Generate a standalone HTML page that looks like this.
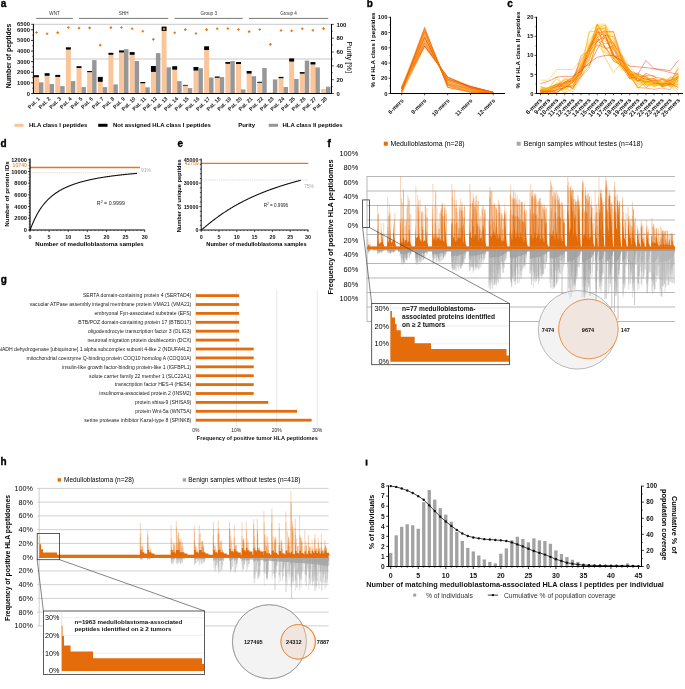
<!DOCTYPE html>
<html><head><meta charset="utf-8"><style>
html,body{margin:0;padding:0;background:#fff;overflow:hidden;}
svg{display:block;font-family:"Liberation Sans", sans-serif;will-change:transform;}
</style></head><body>
<svg width="685" height="689" viewBox="0 0 685 689">
<rect width="685" height="689" fill="#fff"/>
<g id="pa">
<text x="0.80" y="6.90" font-size="10" text-anchor="start" font-weight="bold" fill="#000" stroke="#000" stroke-width="0.35">a</text>
<line x1="36.30" y1="18.40" x2="72.80" y2="18.40" stroke="#555" stroke-width="0.8"/>
<text x="54.55" y="15.00" font-size="4.6" text-anchor="middle" fill="#333">WNT</text>
<line x1="79.00" y1="18.40" x2="168.30" y2="18.40" stroke="#555" stroke-width="0.8"/>
<text x="123.65" y="15.00" font-size="4.6" text-anchor="middle" fill="#333">SHH</text>
<line x1="174.70" y1="18.40" x2="242.70" y2="18.40" stroke="#555" stroke-width="0.8"/>
<text x="208.70" y="15.00" font-size="4.6" text-anchor="middle" fill="#333">Group 3</text>
<line x1="248.90" y1="18.40" x2="328.20" y2="18.40" stroke="#555" stroke-width="0.8"/>
<text x="288.55" y="15.00" font-size="4.6" text-anchor="middle" fill="#333">Group 4</text>
<line x1="33.50" y1="24.30" x2="331.50" y2="24.30" stroke="#c4c4c4" stroke-width="0.9"/>
<line x1="33.50" y1="59.00" x2="331.50" y2="59.00" stroke="#cacaca" stroke-width="1.1"/>
<rect x="34.00" y="77.20" width="4.95" height="16.30" fill="#fbc59a"/>
<rect x="34.00" y="75.20" width="4.95" height="2.00" fill="#000"/>
<rect x="38.95" y="82.30" width="4.45" height="11.20" fill="#979797"/>
<rect x="44.63" y="75.80" width="4.95" height="17.70" fill="#fbc59a"/>
<rect x="44.63" y="73.20" width="4.95" height="2.60" fill="#000"/>
<rect x="49.58" y="84.00" width="4.45" height="9.50" fill="#979797"/>
<rect x="55.27" y="76.90" width="4.95" height="16.60" fill="#fbc59a"/>
<rect x="55.27" y="74.90" width="4.95" height="2.00" fill="#000"/>
<rect x="60.22" y="86.10" width="4.45" height="7.40" fill="#979797"/>
<rect x="65.90" y="49.60" width="4.95" height="43.90" fill="#fbc59a"/>
<rect x="65.90" y="47.30" width="4.95" height="2.30" fill="#000"/>
<rect x="70.85" y="81.10" width="4.45" height="12.40" fill="#979797"/>
<rect x="76.53" y="68.00" width="4.95" height="25.50" fill="#fbc59a"/>
<rect x="76.53" y="66.20" width="4.95" height="1.80" fill="#000"/>
<rect x="81.48" y="87.10" width="4.45" height="6.40" fill="#979797"/>
<rect x="87.16" y="72.20" width="4.95" height="21.30" fill="#fbc59a"/>
<rect x="87.16" y="71.00" width="4.95" height="1.20" fill="#000"/>
<rect x="92.11" y="60.10" width="4.45" height="33.40" fill="#979797"/>
<rect x="97.80" y="81.80" width="4.95" height="11.70" fill="#fbc59a"/>
<rect x="97.80" y="76.90" width="4.95" height="4.90" fill="#000"/>
<rect x="102.75" y="87.10" width="4.45" height="6.40" fill="#979797"/>
<rect x="108.43" y="54.80" width="4.95" height="38.70" fill="#fbc59a"/>
<rect x="108.43" y="52.80" width="4.95" height="2.00" fill="#000"/>
<rect x="113.38" y="84.40" width="4.45" height="9.10" fill="#979797"/>
<rect x="119.06" y="52.50" width="4.95" height="41.00" fill="#fbc59a"/>
<rect x="119.06" y="50.40" width="4.95" height="2.10" fill="#000"/>
<rect x="124.01" y="49.20" width="4.45" height="44.30" fill="#979797"/>
<rect x="129.70" y="54.80" width="4.95" height="38.70" fill="#fbc59a"/>
<rect x="129.70" y="52.10" width="4.95" height="2.70" fill="#000"/>
<rect x="134.65" y="61.00" width="4.45" height="32.50" fill="#979797"/>
<rect x="140.33" y="83.30" width="4.95" height="10.20" fill="#fbc59a"/>
<rect x="140.33" y="82.00" width="4.95" height="1.30" fill="#000"/>
<rect x="145.28" y="87.30" width="4.45" height="6.20" fill="#979797"/>
<rect x="150.96" y="71.90" width="4.95" height="21.60" fill="#fbc59a"/>
<rect x="150.96" y="66.00" width="4.95" height="5.90" fill="#000"/>
<rect x="155.91" y="53.10" width="4.45" height="40.40" fill="#979797"/>
<rect x="161.60" y="30.90" width="4.95" height="62.60" fill="#fbc59a"/>
<rect x="161.60" y="26.60" width="4.95" height="4.30" fill="#000"/>
<rect x="166.55" y="67.30" width="4.45" height="26.20" fill="#979797"/>
<rect x="172.23" y="69.70" width="4.95" height="23.80" fill="#fbc59a"/>
<rect x="172.23" y="66.20" width="4.95" height="3.50" fill="#000"/>
<rect x="177.18" y="81.10" width="4.45" height="12.40" fill="#979797"/>
<rect x="182.86" y="85.70" width="4.95" height="7.80" fill="#fbc59a"/>
<rect x="182.86" y="84.90" width="4.95" height="0.80" fill="#000"/>
<rect x="187.81" y="88.10" width="4.45" height="5.40" fill="#979797"/>
<rect x="193.49" y="70.60" width="4.95" height="22.90" fill="#fbc59a"/>
<rect x="193.49" y="67.00" width="4.95" height="3.60" fill="#000"/>
<rect x="198.44" y="68.20" width="4.45" height="25.30" fill="#979797"/>
<rect x="204.13" y="50.00" width="4.95" height="43.50" fill="#fbc59a"/>
<rect x="204.13" y="46.30" width="4.95" height="3.70" fill="#000"/>
<rect x="209.08" y="77.50" width="4.45" height="16.00" fill="#979797"/>
<rect x="214.76" y="77.80" width="4.95" height="15.70" fill="#fbc59a"/>
<rect x="214.76" y="76.50" width="4.95" height="1.30" fill="#000"/>
<rect x="219.71" y="77.00" width="4.45" height="16.50" fill="#979797"/>
<rect x="225.39" y="63.80" width="4.95" height="29.70" fill="#fbc59a"/>
<rect x="225.39" y="62.00" width="4.95" height="1.80" fill="#000"/>
<rect x="230.34" y="61.00" width="4.45" height="32.50" fill="#979797"/>
<rect x="236.03" y="64.00" width="4.95" height="29.50" fill="#fbc59a"/>
<rect x="236.03" y="62.00" width="4.95" height="2.00" fill="#000"/>
<rect x="240.98" y="89.40" width="4.45" height="4.10" fill="#979797"/>
<rect x="246.66" y="73.60" width="4.95" height="19.90" fill="#fbc59a"/>
<rect x="246.66" y="71.00" width="4.95" height="2.60" fill="#000"/>
<rect x="251.61" y="76.20" width="4.45" height="17.30" fill="#979797"/>
<rect x="257.29" y="82.80" width="4.95" height="10.70" fill="#fbc59a"/>
<rect x="257.29" y="81.80" width="4.95" height="1.00" fill="#000"/>
<rect x="262.24" y="68.00" width="4.45" height="25.50" fill="#979797"/>
<rect x="267.93" y="92.30" width="4.95" height="1.20" fill="#fbc59a"/>
<rect x="272.88" y="79.40" width="4.45" height="14.10" fill="#979797"/>
<rect x="278.56" y="78.20" width="4.95" height="15.30" fill="#fbc59a"/>
<rect x="278.56" y="76.90" width="4.95" height="1.30" fill="#000"/>
<rect x="283.51" y="87.00" width="4.45" height="6.50" fill="#979797"/>
<rect x="289.19" y="61.60" width="4.95" height="31.90" fill="#fbc59a"/>
<rect x="289.19" y="58.40" width="4.95" height="3.20" fill="#000"/>
<rect x="294.14" y="79.00" width="4.45" height="14.50" fill="#979797"/>
<rect x="299.82" y="73.70" width="4.95" height="19.80" fill="#fbc59a"/>
<rect x="299.82" y="72.10" width="4.95" height="1.60" fill="#000"/>
<rect x="304.77" y="60.60" width="4.45" height="32.90" fill="#979797"/>
<rect x="310.46" y="64.50" width="4.95" height="29.00" fill="#fbc59a"/>
<rect x="310.46" y="62.10" width="4.95" height="2.40" fill="#000"/>
<rect x="315.41" y="67.40" width="4.45" height="26.10" fill="#979797"/>
<rect x="321.09" y="89.00" width="4.95" height="4.50" fill="#fbc59a"/>
<rect x="326.04" y="86.70" width="4.45" height="6.80" fill="#979797"/>
<path d="M35.15 32.50H37.75M36.45 31.20V33.80" stroke="#e8750f" stroke-width="1.1"/>
<path d="M45.78 33.70H48.38M47.08 32.40V35.00" stroke="#e8750f" stroke-width="1.1"/>
<path d="M56.42 32.60H59.02M57.72 31.30V33.90" stroke="#e8750f" stroke-width="1.1"/>
<path d="M67.05 27.50H69.65M68.35 26.20V28.80" stroke="#e8750f" stroke-width="1.1"/>
<path d="M77.68 28.10H80.28M78.98 26.80V29.40" stroke="#e8750f" stroke-width="1.1"/>
<path d="M88.31 27.90H90.91M89.61 26.60V29.20" stroke="#e8750f" stroke-width="1.1"/>
<path d="M98.95 45.10H101.55M100.25 43.80V46.40" stroke="#e8750f" stroke-width="1.1"/>
<path d="M109.58 27.60H112.18M110.88 26.30V28.90" stroke="#e8750f" stroke-width="1.1"/>
<path d="M120.21 27.50H122.81M121.51 26.20V28.80" stroke="#e8750f" stroke-width="1.1"/>
<path d="M130.85 28.70H133.45M132.15 27.40V30.00" stroke="#e8750f" stroke-width="1.1"/>
<path d="M141.48 31.20H144.08M142.78 29.90V32.50" stroke="#e8750f" stroke-width="1.1"/>
<path d="M152.11 39.40H154.71M153.41 38.10V40.70" stroke="#e8750f" stroke-width="1.1"/>
<rect x="162.95" y="27.80" width="2.2" height="2.2" fill="#e8750f"/>
<path d="M173.38 32.70H175.98M174.68 31.40V34.00" stroke="#e8750f" stroke-width="1.1"/>
<path d="M184.01 29.60H186.61M185.31 28.30V30.90" stroke="#e8750f" stroke-width="1.1"/>
<path d="M194.64 33.50H197.24M195.94 32.20V34.80" stroke="#e8750f" stroke-width="1.1"/>
<path d="M205.28 29.60H207.88M206.58 28.30V30.90" stroke="#e8750f" stroke-width="1.1"/>
<path d="M215.91 28.70H218.51M217.21 27.40V30.00" stroke="#e8750f" stroke-width="1.1"/>
<path d="M226.54 28.50H229.14M227.84 27.20V29.80" stroke="#e8750f" stroke-width="1.1"/>
<path d="M237.18 29.50H239.78M238.48 28.20V30.80" stroke="#e8750f" stroke-width="1.1"/>
<path d="M247.81 31.60H250.41M249.11 30.30V32.90" stroke="#e8750f" stroke-width="1.1"/>
<path d="M258.44 29.50H261.04M259.74 28.20V30.80" stroke="#e8750f" stroke-width="1.1"/>
<path d="M269.08 44.40H271.68M270.38 43.10V45.70" stroke="#e8750f" stroke-width="1.1"/>
<path d="M279.71 30.50H282.31M281.01 29.20V31.80" stroke="#e8750f" stroke-width="1.1"/>
<path d="M290.34 30.70H292.94M291.64 29.40V32.00" stroke="#e8750f" stroke-width="1.1"/>
<path d="M300.97 28.70H303.57M302.27 27.40V30.00" stroke="#e8750f" stroke-width="1.1"/>
<path d="M311.61 30.20H314.21M312.91 28.90V31.50" stroke="#e8750f" stroke-width="1.1"/>
<path d="M322.24 28.60H324.84M323.54 27.30V29.90" stroke="#e8750f" stroke-width="1.1"/>
<line x1="33.40" y1="23.90" x2="33.40" y2="94.00" stroke="#000" stroke-width="1.0"/>
<line x1="32.90" y1="93.50" x2="332.00" y2="93.50" stroke="#000" stroke-width="1.1"/>
<line x1="31.00" y1="93.50" x2="33.40" y2="93.50" stroke="#000" stroke-width="0.8"/>
<text x="30.00" y="95.55" font-size="5.8" text-anchor="end" font-weight="bold" fill="#111">0</text>
<line x1="31.00" y1="82.88" x2="33.40" y2="82.88" stroke="#000" stroke-width="0.8"/>
<text x="30.00" y="84.93" font-size="5.8" text-anchor="end" font-weight="bold" fill="#111">1000</text>
<line x1="31.00" y1="72.27" x2="33.40" y2="72.27" stroke="#000" stroke-width="0.8"/>
<text x="30.00" y="74.32" font-size="5.8" text-anchor="end" font-weight="bold" fill="#111">2000</text>
<line x1="31.00" y1="61.65" x2="33.40" y2="61.65" stroke="#000" stroke-width="0.8"/>
<text x="30.00" y="63.70" font-size="5.8" text-anchor="end" font-weight="bold" fill="#111">3000</text>
<line x1="31.00" y1="51.04" x2="33.40" y2="51.04" stroke="#000" stroke-width="0.8"/>
<text x="30.00" y="53.09" font-size="5.8" text-anchor="end" font-weight="bold" fill="#111">4000</text>
<line x1="31.00" y1="40.42" x2="33.40" y2="40.42" stroke="#000" stroke-width="0.8"/>
<text x="30.00" y="42.47" font-size="5.8" text-anchor="end" font-weight="bold" fill="#111">5000</text>
<line x1="31.00" y1="29.81" x2="33.40" y2="29.81" stroke="#000" stroke-width="0.8"/>
<text x="30.00" y="31.86" font-size="5.8" text-anchor="end" font-weight="bold" fill="#111">6000</text>
<line x1="32.20" y1="88.19" x2="33.30" y2="88.19" stroke="#000" stroke-width="0.6"/>
<line x1="32.20" y1="77.58" x2="33.30" y2="77.58" stroke="#000" stroke-width="0.6"/>
<line x1="32.20" y1="66.96" x2="33.30" y2="66.96" stroke="#000" stroke-width="0.6"/>
<line x1="32.20" y1="56.35" x2="33.30" y2="56.35" stroke="#000" stroke-width="0.6"/>
<line x1="32.20" y1="45.73" x2="33.30" y2="45.73" stroke="#000" stroke-width="0.6"/>
<line x1="32.20" y1="35.12" x2="33.30" y2="35.12" stroke="#000" stroke-width="0.6"/>
<line x1="31.20" y1="24.30" x2="33.30" y2="24.30" stroke="#000" stroke-width="0.7"/>
<text x="30.00" y="26.35" font-size="5.8" text-anchor="end" font-weight="bold" fill="#111">6500</text>
<text x="11.20" y="56.00" font-size="6.9" text-anchor="middle" font-weight="bold" fill="#000" transform="rotate(-90 11.2 56)">Number of peptides</text>
<line x1="331.50" y1="24.00" x2="331.50" y2="94.00" stroke="#000" stroke-width="1.0"/>
<line x1="331.50" y1="93.50" x2="333.80" y2="93.50" stroke="#000" stroke-width="0.7"/>
<text x="336.40" y="95.60" font-size="6.0" text-anchor="start" font-weight="bold" fill="#111">0</text>
<line x1="331.50" y1="79.68" x2="333.80" y2="79.68" stroke="#000" stroke-width="0.7"/>
<text x="336.40" y="81.78" font-size="6.0" text-anchor="start" font-weight="bold" fill="#111">20</text>
<line x1="331.50" y1="65.86" x2="333.80" y2="65.86" stroke="#000" stroke-width="0.7"/>
<text x="336.40" y="67.96" font-size="6.0" text-anchor="start" font-weight="bold" fill="#111">40</text>
<line x1="331.50" y1="52.04" x2="333.80" y2="52.04" stroke="#000" stroke-width="0.7"/>
<text x="336.40" y="54.14" font-size="6.0" text-anchor="start" font-weight="bold" fill="#111">60</text>
<line x1="331.50" y1="38.22" x2="333.80" y2="38.22" stroke="#000" stroke-width="0.7"/>
<text x="336.40" y="40.32" font-size="6.0" text-anchor="start" font-weight="bold" fill="#111">80</text>
<line x1="331.50" y1="24.40" x2="333.80" y2="24.40" stroke="#000" stroke-width="0.7"/>
<text x="336.40" y="26.50" font-size="6.0" text-anchor="start" font-weight="bold" fill="#111">100</text>
<line x1="331.50" y1="86.59" x2="332.80" y2="86.59" stroke="#000" stroke-width="0.6"/>
<line x1="331.50" y1="72.77" x2="332.80" y2="72.77" stroke="#000" stroke-width="0.6"/>
<line x1="331.50" y1="58.95" x2="332.80" y2="58.95" stroke="#000" stroke-width="0.6"/>
<line x1="331.50" y1="45.13" x2="332.80" y2="45.13" stroke="#000" stroke-width="0.6"/>
<line x1="331.50" y1="31.31" x2="332.80" y2="31.31" stroke="#000" stroke-width="0.6"/>
<text x="347.20" y="57.20" font-size="7.4" text-anchor="middle" fill="#000" transform="rotate(90 347.2 57.2)">Purity [%]</text>
<text x="40.30" y="99.00" font-size="5.4" text-anchor="end" font-weight="bold" fill="#222" transform="rotate(-45 40.3 99.0)">Pat. 1</text>
<text x="50.93" y="99.00" font-size="5.4" text-anchor="end" font-weight="bold" fill="#222" transform="rotate(-45 50.93299999999999 99.0)">Pat. 2</text>
<text x="61.57" y="99.00" font-size="5.4" text-anchor="end" font-weight="bold" fill="#222" transform="rotate(-45 61.565999999999995 99.0)">Pat. 3</text>
<text x="72.20" y="99.00" font-size="5.4" text-anchor="end" font-weight="bold" fill="#222" transform="rotate(-45 72.199 99.0)">Pat. 4</text>
<text x="82.83" y="99.00" font-size="5.4" text-anchor="end" font-weight="bold" fill="#222" transform="rotate(-45 82.832 99.0)">Pat. 5</text>
<text x="93.46" y="99.00" font-size="5.4" text-anchor="end" font-weight="bold" fill="#222" transform="rotate(-45 93.46499999999999 99.0)">Pat. 6</text>
<text x="104.10" y="99.00" font-size="5.4" text-anchor="end" font-weight="bold" fill="#222" transform="rotate(-45 104.098 99.0)">Pat. 7</text>
<text x="114.73" y="99.00" font-size="5.4" text-anchor="end" font-weight="bold" fill="#222" transform="rotate(-45 114.731 99.0)">Pat. 8</text>
<text x="125.36" y="99.00" font-size="5.4" text-anchor="end" font-weight="bold" fill="#222" transform="rotate(-45 125.36399999999999 99.0)">Pat. 9</text>
<text x="136.00" y="99.00" font-size="5.4" text-anchor="end" font-weight="bold" fill="#222" transform="rotate(-45 135.997 99.0)">Pat. 10</text>
<text x="146.63" y="99.00" font-size="5.4" text-anchor="end" font-weight="bold" fill="#222" transform="rotate(-45 146.63 99.0)">Pat. 11</text>
<text x="157.26" y="99.00" font-size="5.4" text-anchor="end" font-weight="bold" fill="#222" transform="rotate(-45 157.263 99.0)">Pat. 12</text>
<text x="167.90" y="99.00" font-size="5.4" text-anchor="end" font-weight="bold" fill="#222" transform="rotate(-45 167.89600000000002 99.0)">Pat. 13</text>
<text x="178.53" y="99.00" font-size="5.4" text-anchor="end" font-weight="bold" fill="#222" transform="rotate(-45 178.529 99.0)">Pat. 14</text>
<text x="189.16" y="99.00" font-size="5.4" text-anchor="end" font-weight="bold" fill="#222" transform="rotate(-45 189.162 99.0)">Pat. 15</text>
<text x="199.79" y="99.00" font-size="5.4" text-anchor="end" font-weight="bold" fill="#222" transform="rotate(-45 199.795 99.0)">Pat. 16</text>
<text x="210.43" y="99.00" font-size="5.4" text-anchor="end" font-weight="bold" fill="#222" transform="rotate(-45 210.428 99.0)">Pat. 17</text>
<text x="221.06" y="99.00" font-size="5.4" text-anchor="end" font-weight="bold" fill="#222" transform="rotate(-45 221.061 99.0)">Pat. 18</text>
<text x="231.69" y="99.00" font-size="5.4" text-anchor="end" font-weight="bold" fill="#222" transform="rotate(-45 231.694 99.0)">Pat. 19</text>
<text x="242.33" y="99.00" font-size="5.4" text-anchor="end" font-weight="bold" fill="#222" transform="rotate(-45 242.327 99.0)">Pat. 20</text>
<text x="252.96" y="99.00" font-size="5.4" text-anchor="end" font-weight="bold" fill="#222" transform="rotate(-45 252.95999999999998 99.0)">Pat. 21</text>
<text x="263.59" y="99.00" font-size="5.4" text-anchor="end" font-weight="bold" fill="#222" transform="rotate(-45 263.593 99.0)">Pat. 22</text>
<text x="274.23" y="99.00" font-size="5.4" text-anchor="end" font-weight="bold" fill="#222" transform="rotate(-45 274.226 99.0)">Pat. 23</text>
<text x="284.86" y="99.00" font-size="5.4" text-anchor="end" font-weight="bold" fill="#222" transform="rotate(-45 284.859 99.0)">Pat. 24</text>
<text x="295.49" y="99.00" font-size="5.4" text-anchor="end" font-weight="bold" fill="#222" transform="rotate(-45 295.492 99.0)">Pat. 25</text>
<text x="306.12" y="99.00" font-size="5.4" text-anchor="end" font-weight="bold" fill="#222" transform="rotate(-45 306.125 99.0)">Pat. 26</text>
<text x="316.76" y="99.00" font-size="5.4" text-anchor="end" font-weight="bold" fill="#222" transform="rotate(-45 316.758 99.0)">Pat. 27</text>
<text x="327.39" y="99.00" font-size="5.4" text-anchor="end" font-weight="bold" fill="#222" transform="rotate(-45 327.39099999999996 99.0)">Pat. 28</text>
<rect x="14.40" y="123.80" width="9.20" height="3.00" fill="#fbc59a"/>
<text x="28.90" y="127.10" font-size="6.0" text-anchor="start" font-weight="bold" fill="#000">HLA class I peptides</text>
<rect x="98.20" y="123.80" width="9.30" height="3.00" fill="#000"/>
<text x="113.00" y="127.10" font-size="6.0" text-anchor="start" font-weight="bold" fill="#000">Not assigned HLA class I peptides</text>
<text x="238.20" y="127.10" font-size="6.0" text-anchor="start" font-weight="bold" fill="#000">Purity</text>
<rect x="268.70" y="123.80" width="9.30" height="3.00" fill="#979797"/>
<text x="282.50" y="127.10" font-size="6.0" text-anchor="start" font-weight="bold" fill="#000">HLA class II peptides</text>
</g>
<g id="pb">
<text x="366.70" y="7.10" font-size="10" text-anchor="start" font-weight="bold" fill="#000" stroke="#000" stroke-width="0.35">b</text>
<polyline points="401.70,91.69 424.60,47.68 447.70,77.13 470.60,85.64 493.20,92.55" fill="none" stroke="rgb(255,187,0)" stroke-width="0.45"/>
<polyline points="401.70,93.35 424.60,46.22 447.70,77.86 470.60,86.71 493.20,91.98" fill="none" stroke="rgb(251,131,3)" stroke-width="0.45"/>
<polyline points="401.70,87.13 424.60,46.25 447.70,77.10 470.60,87.13 493.20,92.53" fill="none" stroke="rgb(233,69,15)" stroke-width="0.45"/>
<polyline points="401.70,89.51 424.60,44.86 447.70,77.40 470.60,87.55 493.20,92.34" fill="none" stroke="rgb(248,112,6)" stroke-width="0.45"/>
<polyline points="401.70,91.20 424.60,45.69 447.70,77.20 470.60,86.85 493.20,92.40" fill="none" stroke="rgb(233,68,15)" stroke-width="0.45"/>
<polyline points="401.70,88.06 424.60,42.87 447.70,79.03 470.60,86.32 493.20,92.82" fill="none" stroke="rgb(229,59,17)" stroke-width="0.45"/>
<polyline points="401.70,86.80 424.60,43.96 447.70,80.22 470.60,87.88 493.20,92.03" fill="none" stroke="rgb(252,136,2)" stroke-width="0.45"/>
<polyline points="401.70,88.72 424.60,42.70 447.70,79.48 470.60,87.72 493.20,92.97" fill="none" stroke="rgb(248,113,6)" stroke-width="0.45"/>
<polyline points="401.70,89.05 424.60,40.53 447.70,79.34 470.60,86.71 493.20,92.19" fill="none" stroke="rgb(225,51,19)" stroke-width="0.45"/>
<polyline points="401.70,88.38 424.60,41.44 447.70,79.19 470.60,86.85 493.20,92.12" fill="none" stroke="rgb(248,115,6)" stroke-width="0.45"/>
<polyline points="401.70,88.06 424.60,40.54 447.70,79.68 470.60,87.97 493.20,93.07" fill="none" stroke="rgb(255,187,0)" stroke-width="0.45"/>
<polyline points="401.70,86.99 424.60,37.97 447.70,82.34 470.60,87.68 493.20,92.87" fill="none" stroke="rgb(255,176,0)" stroke-width="0.45"/>
<polyline points="401.70,91.26 424.60,37.68 447.70,80.34 470.60,89.63 493.20,92.56" fill="none" stroke="rgb(255,190,0)" stroke-width="0.45"/>
<polyline points="401.70,88.03 424.60,37.89 447.70,80.71 470.60,87.72 493.20,92.73" fill="none" stroke="rgb(225,50,19)" stroke-width="0.45"/>
<polyline points="401.70,91.14 424.60,37.68 447.70,81.96 470.60,90.11 493.20,93.20" fill="none" stroke="rgb(253,140,1)" stroke-width="0.45"/>
<polyline points="401.70,88.85 424.60,36.71 447.70,84.06 470.60,88.43 493.20,93.02" fill="none" stroke="rgb(227,56,18)" stroke-width="0.45"/>
<polyline points="401.70,86.67 424.60,35.42 447.70,83.18 470.60,89.45 493.20,92.52" fill="none" stroke="rgb(247,111,7)" stroke-width="0.45"/>
<polyline points="401.70,89.24 424.60,34.07 447.70,82.11 470.60,89.70 493.20,92.84" fill="none" stroke="rgb(243,91,10)" stroke-width="0.45"/>
<polyline points="401.70,91.69 424.60,34.01 447.70,82.39 470.60,89.90 493.20,92.66" fill="none" stroke="rgb(255,194,0)" stroke-width="0.45"/>
<polyline points="401.70,90.34 424.60,32.58 447.70,85.71 470.60,89.91 493.20,92.54" fill="none" stroke="rgb(255,188,0)" stroke-width="0.45"/>
<polyline points="401.70,88.72 424.60,32.05 447.70,84.09 470.60,90.73 493.20,92.42" fill="none" stroke="rgb(242,89,11)" stroke-width="0.45"/>
<polyline points="401.70,93.33 424.60,32.19 447.70,84.50 470.60,89.56 493.20,93.12" fill="none" stroke="rgb(251,133,3)" stroke-width="0.45"/>
<polyline points="401.70,88.98 424.60,30.81 447.70,85.84 470.60,91.28 493.20,92.94" fill="none" stroke="rgb(247,111,7)" stroke-width="0.45"/>
<polyline points="401.70,91.21 424.60,29.89 447.70,84.99 470.60,92.15 493.20,92.63" fill="none" stroke="rgb(242,89,11)" stroke-width="0.45"/>
<polyline points="401.70,91.14 424.60,29.45 447.70,85.29 470.60,91.90 493.20,93.21" fill="none" stroke="rgb(252,136,2)" stroke-width="0.45"/>
<polyline points="401.70,88.18 424.60,28.93 447.70,87.16 470.60,91.90 493.20,92.23" fill="none" stroke="rgb(252,136,2)" stroke-width="0.45"/>
<polyline points="401.70,86.98 424.60,27.99 447.70,87.51 470.60,91.41 493.20,92.15" fill="none" stroke="rgb(252,134,2)" stroke-width="0.45"/>
<polyline points="401.70,91.79 424.60,27.31 447.70,87.31 470.60,92.68 493.20,92.27" fill="none" stroke="rgb(235,74,14)" stroke-width="0.45"/>
<line x1="390.50" y1="16.80" x2="390.50" y2="94.00" stroke="#000" stroke-width="1.0"/>
<line x1="390.00" y1="93.50" x2="505.00" y2="93.50" stroke="#000" stroke-width="1.0"/>
<line x1="388.50" y1="93.50" x2="390.50" y2="93.50" stroke="#000" stroke-width="0.7"/>
<text x="387.50" y="95.58" font-size="5.8" text-anchor="end" font-weight="bold" fill="#111">0</text>
<line x1="388.50" y1="78.26" x2="390.50" y2="78.26" stroke="#000" stroke-width="0.7"/>
<text x="387.50" y="80.34" font-size="5.8" text-anchor="end" font-weight="bold" fill="#111">20</text>
<line x1="388.50" y1="63.02" x2="390.50" y2="63.02" stroke="#000" stroke-width="0.7"/>
<text x="387.50" y="65.10" font-size="5.8" text-anchor="end" font-weight="bold" fill="#111">40</text>
<line x1="388.50" y1="47.78" x2="390.50" y2="47.78" stroke="#000" stroke-width="0.7"/>
<text x="387.50" y="49.86" font-size="5.8" text-anchor="end" font-weight="bold" fill="#111">60</text>
<line x1="388.50" y1="32.54" x2="390.50" y2="32.54" stroke="#000" stroke-width="0.7"/>
<text x="387.50" y="34.62" font-size="5.8" text-anchor="end" font-weight="bold" fill="#111">80</text>
<line x1="388.50" y1="17.30" x2="390.50" y2="17.30" stroke="#000" stroke-width="0.7"/>
<text x="387.50" y="19.38" font-size="5.8" text-anchor="end" font-weight="bold" fill="#111">100</text>
<line x1="389.40" y1="85.88" x2="390.50" y2="85.88" stroke="#000" stroke-width="0.6"/>
<line x1="389.40" y1="70.64" x2="390.50" y2="70.64" stroke="#000" stroke-width="0.6"/>
<line x1="389.40" y1="55.40" x2="390.50" y2="55.40" stroke="#000" stroke-width="0.6"/>
<line x1="389.40" y1="40.16" x2="390.50" y2="40.16" stroke="#000" stroke-width="0.6"/>
<line x1="389.40" y1="24.92" x2="390.50" y2="24.92" stroke="#000" stroke-width="0.6"/>
<line x1="401.70" y1="93.30" x2="401.70" y2="95.30" stroke="#000" stroke-width="0.7"/>
<text x="404.00" y="101.00" font-size="5.8" text-anchor="end" font-weight="bold" fill="#111" transform="rotate(-45 404.0 101.0)">6-mers</text>
<line x1="424.60" y1="93.30" x2="424.60" y2="95.30" stroke="#000" stroke-width="0.7"/>
<text x="426.90" y="101.00" font-size="5.8" text-anchor="end" font-weight="bold" fill="#111" transform="rotate(-45 426.90000000000003 101.0)">9-mers</text>
<line x1="447.70" y1="93.30" x2="447.70" y2="95.30" stroke="#000" stroke-width="0.7"/>
<text x="450.00" y="101.00" font-size="5.8" text-anchor="end" font-weight="bold" fill="#111" transform="rotate(-45 450.0 101.0)">10-mers</text>
<line x1="470.60" y1="93.30" x2="470.60" y2="95.30" stroke="#000" stroke-width="0.7"/>
<text x="472.90" y="101.00" font-size="5.8" text-anchor="end" font-weight="bold" fill="#111" transform="rotate(-45 472.90000000000003 101.0)">11-mers</text>
<line x1="493.20" y1="93.30" x2="493.20" y2="95.30" stroke="#000" stroke-width="0.7"/>
<text x="495.50" y="101.00" font-size="5.8" text-anchor="end" font-weight="bold" fill="#111" transform="rotate(-45 495.5 101.0)">12-mers</text>
<text x="375.00" y="50.00" font-size="6.2" text-anchor="middle" font-weight="bold" fill="#000" transform="rotate(-90 375.0 50)">% of HLA class I peptides</text>
</g>
<g id="pc">
<text x="507.20" y="7.20" font-size="10" text-anchor="start" font-weight="bold" fill="#000" stroke="#000" stroke-width="0.35">c</text>
<polyline points="540.50,87.35 548.61,87.67 556.72,86.55 564.83,90.14 572.94,81.83 581.05,66.17 589.16,43.60 597.27,35.30 605.38,30.33 613.49,47.46 621.60,59.96 629.71,78.53 637.82,80.25 645.93,82.12 654.04,83.47 662.15,78.10 670.26,80.47 678.37,72.66" fill="none" stroke="rgb(255,174,0)" stroke-width="0.5"/>
<polyline points="540.50,91.16 548.61,87.97 556.72,84.49 564.83,82.18 572.94,78.64 581.05,71.40 589.16,59.83 597.27,39.47 605.38,43.91 613.49,41.87 621.60,60.10 629.71,72.78 637.82,76.92 645.93,76.38 654.04,84.33 662.15,81.72 670.26,85.74 678.37,80.47" fill="none" stroke="rgb(253,143,1)" stroke-width="0.5"/>
<polyline points="540.50,93.12 548.61,87.12 556.72,84.71 564.83,87.48 572.94,78.89 581.05,73.98 589.16,45.85 597.27,24.17 605.38,31.51 613.49,43.94 621.60,57.83 629.71,69.80 637.82,79.41 645.93,79.14 654.04,81.77 662.15,86.86 670.26,84.44 678.37,75.44" fill="none" stroke="rgb(255,176,0)" stroke-width="0.5"/>
<polyline points="540.50,93.12 548.61,92.50 556.72,84.96 564.83,93.12 572.94,87.77 581.05,71.25 589.16,45.33 597.27,35.55 605.38,58.24 613.49,72.65 621.60,62.84 629.71,77.83 637.82,85.39 645.93,80.22 654.04,80.99 662.15,84.49 670.26,84.63 678.37,79.50" fill="none" stroke="rgb(255,171,0)" stroke-width="0.5"/>
<polyline points="540.50,92.23 548.61,93.12 556.72,82.36 564.83,87.33 572.94,79.95 581.05,72.30 589.16,47.68 597.27,29.36 605.38,31.52 613.49,60.24 621.60,63.49 629.71,68.95 637.82,79.33 645.93,82.78 654.04,80.81 662.15,81.73 670.26,82.69 678.37,78.82" fill="none" stroke="rgb(255,194,0)" stroke-width="0.5"/>
<polyline points="540.50,91.44 548.61,89.71 556.72,90.83 564.83,83.65 572.94,88.80 581.05,74.52 589.16,55.69 597.27,44.87 605.38,47.83 613.49,57.80 621.60,54.84 629.71,71.81 637.82,77.99 645.93,87.71 654.04,81.85 662.15,86.10 670.26,84.90 678.37,77.82" fill="none" stroke="rgb(242,88,11)" stroke-width="0.5"/>
<polyline points="540.50,90.36 548.61,90.15 556.72,85.81 564.83,85.58 572.94,80.22 581.05,73.49 589.16,53.47 597.27,24.16 605.38,39.65 613.49,43.28 621.60,59.86 629.71,75.98 637.82,74.43 645.93,76.54 654.04,82.80 662.15,83.84 670.26,82.66 678.37,90.04" fill="none" stroke="rgb(251,129,3)" stroke-width="0.5"/>
<polyline points="540.50,90.03 548.61,88.73 556.72,88.41 564.83,81.91 572.94,78.57 581.05,71.17 589.16,31.89 597.27,31.16 605.38,41.42 613.49,49.28 621.60,62.14 629.71,73.41 637.82,88.43 645.93,82.32 654.04,78.90 662.15,85.99 670.26,83.35 678.37,73.57" fill="none" stroke="rgb(255,155,0)" stroke-width="0.5"/>
<polyline points="540.50,93.12 548.61,90.21 556.72,84.66 564.83,80.29 572.94,89.51 581.05,63.94 589.16,61.65 597.27,28.79 605.38,49.07 613.49,47.47 621.60,57.04 629.71,73.76 637.82,77.86 645.93,78.49 654.04,81.63 662.15,83.11 670.26,79.04 678.37,73.27" fill="none" stroke="rgb(255,188,0)" stroke-width="0.5"/>
<polyline points="540.50,89.73 548.61,90.88 556.72,87.73 564.83,83.20 572.94,80.16 581.05,67.58 589.16,64.91 597.27,48.92 605.38,35.13 613.49,58.34 621.60,66.44 629.71,78.84 637.82,75.20 645.93,79.70 654.04,78.63 662.15,86.39 670.26,84.20 678.37,84.86" fill="none" stroke="rgb(231,64,16)" stroke-width="0.5"/>
<polyline points="540.50,92.72 548.61,91.25 556.72,84.55 564.83,78.45 572.94,81.49 581.05,67.60 589.16,46.86 597.27,24.16 605.38,24.16 613.49,47.05 621.60,63.20 629.71,69.24 637.82,87.51 645.93,82.37 654.04,84.31 662.15,84.15 670.26,83.58 678.37,65.78" fill="none" stroke="rgb(255,187,0)" stroke-width="0.5"/>
<polyline points="540.50,90.84 548.61,90.59 556.72,84.35 564.83,84.63 572.94,78.90 581.05,69.46 589.16,48.15 597.27,24.70 605.38,36.24 613.49,54.85 621.60,67.89 629.71,74.73 637.82,72.80 645.93,78.90 654.04,78.31 662.15,85.15 670.26,81.79 678.37,82.89" fill="none" stroke="rgb(250,126,4)" stroke-width="0.5"/>
<polyline points="540.50,91.39 548.61,89.46 556.72,86.46 564.83,86.33 572.94,78.26 581.05,60.00 589.16,49.07 597.27,28.73 605.38,28.06 613.49,49.04 621.60,65.44 629.71,74.51 637.82,74.05 645.93,85.45 654.04,83.40 662.15,79.66 670.26,80.63 678.37,77.30" fill="none" stroke="rgb(242,89,11)" stroke-width="0.5"/>
<polyline points="540.50,90.41 548.61,88.05 556.72,84.15 564.83,83.61 572.94,82.46 581.05,55.79 589.16,50.98 597.27,33.69 605.38,35.07 613.49,36.68 621.60,58.13 629.71,75.24 637.82,76.75 645.93,75.76 654.04,75.64 662.15,85.98 670.26,76.81 678.37,80.39" fill="none" stroke="rgb(246,101,8)" stroke-width="0.5"/>
<polyline points="540.50,92.07 548.61,92.37 556.72,89.59 564.83,87.95 572.94,81.44 581.05,76.74 589.16,68.87 597.27,37.38 605.38,46.86 613.49,57.35 621.60,69.82 629.71,72.00 637.82,75.79 645.93,81.45 654.04,85.13 662.15,82.59 670.26,86.43 678.37,93.12" fill="none" stroke="rgb(255,185,0)" stroke-width="0.5"/>
<polyline points="540.50,92.68 548.61,93.12 556.72,89.89 564.83,82.04 572.94,80.50 581.05,67.09 589.16,54.81 597.27,28.40 605.38,48.75 613.49,45.43 621.60,64.51 629.71,70.69 637.82,80.98 645.93,73.31 654.04,76.72 662.15,78.71 670.26,82.34 678.37,68.55" fill="none" stroke="rgb(241,88,11)" stroke-width="0.5"/>
<polyline points="540.50,87.10 548.61,90.40 556.72,86.31 564.83,93.12 572.94,77.20 581.05,69.04 589.16,58.65 597.27,26.48 605.38,25.69 613.49,61.58 621.60,65.13 629.71,73.48 637.82,79.17 645.93,83.20 654.04,86.10 662.15,78.01 670.26,81.36 678.37,85.12" fill="none" stroke="rgb(255,193,0)" stroke-width="0.5"/>
<polyline points="540.50,89.48 548.61,90.17 556.72,93.12 564.83,88.08 572.94,91.76 581.05,77.53 589.16,59.73 597.27,39.06 605.38,52.01 613.49,57.97 621.60,63.89 629.71,75.61 637.82,80.38 645.93,83.75 654.04,86.51 662.15,83.82 670.26,86.23 678.37,87.03" fill="none" stroke="rgb(255,193,0)" stroke-width="0.5"/>
<polyline points="540.50,88.80 548.61,88.28 556.72,86.33 564.83,79.25 572.94,78.55 581.05,62.67 589.16,50.54 597.27,32.57 605.38,27.23 613.49,53.24 621.60,65.21 629.71,74.89 637.82,81.74 645.93,74.20 654.04,86.73 662.15,83.06 670.26,80.98 678.37,76.87" fill="none" stroke="rgb(255,152,0)" stroke-width="0.5"/>
<polyline points="540.50,91.58 548.61,90.36 556.72,86.30 564.83,82.07 572.94,77.39 581.05,65.96 589.16,48.15 597.27,37.36 605.38,32.61 613.49,43.44 621.60,56.05 629.71,77.36 637.82,78.64 645.93,81.98 654.04,80.82 662.15,79.57 670.26,83.79 678.37,75.70" fill="none" stroke="rgb(237,77,13)" stroke-width="0.5"/>
<polyline points="540.50,86.12 548.61,90.37 556.72,87.12 564.83,83.70 572.94,82.47 581.05,68.54 589.16,46.52 597.27,30.93 605.38,36.29 613.49,53.93 621.60,64.75 629.71,73.96 637.82,81.18 645.93,81.10 654.04,84.49 662.15,86.00 670.26,85.46 678.37,81.35" fill="none" stroke="rgb(255,159,0)" stroke-width="0.5"/>
<polyline points="540.50,88.32 548.61,88.37 556.72,78.72 564.83,85.46 572.94,81.59 581.05,69.33 589.16,45.55 597.27,36.33 605.38,32.63 613.49,32.40 621.60,54.00 629.71,66.13 637.82,76.30 645.93,81.81 654.04,83.66 662.15,78.62 670.26,86.85 678.37,74.39" fill="none" stroke="rgb(255,193,0)" stroke-width="0.5"/>
<polyline points="540.50,93.12 548.61,91.24 556.72,93.12 564.83,85.37 572.94,88.19 581.05,76.36 589.16,66.26 597.27,40.94 605.38,47.32 613.49,61.02 621.60,65.12 629.71,75.49 637.82,87.60 645.93,88.08 654.04,89.33 662.15,87.98 670.26,89.90 678.37,76.18" fill="none" stroke="rgb(246,105,8)" stroke-width="0.5"/>
<polyline points="540.50,90.40 548.61,90.26 556.72,93.12 564.83,86.07 572.94,86.63 581.05,68.01 589.16,48.21 597.27,39.76 605.38,37.80 613.49,54.77 621.60,64.16 629.71,76.34 637.82,78.09 645.93,82.23 654.04,80.24 662.15,84.34 670.26,79.80 678.37,76.64" fill="none" stroke="rgb(247,106,7)" stroke-width="0.5"/>
<polyline points="540.50,93.12 548.61,91.11 556.72,92.51 564.83,87.85 572.94,82.40 581.05,68.63 589.16,53.50 597.27,45.26 605.38,53.31 613.49,56.41 621.60,66.58 629.71,78.74 637.82,81.44 645.93,84.47 654.04,83.79 662.15,83.27 670.26,86.22 678.37,70.51" fill="none" stroke="rgb(255,186,0)" stroke-width="0.5"/>
<polyline points="540.50,89.48 548.61,88.94 556.72,76.60 564.83,86.50 572.94,87.22 581.05,63.95 589.16,50.71 597.27,38.44 605.38,29.08 613.49,44.93 621.60,63.01 629.71,71.55 637.82,84.02 645.93,84.65 654.04,83.46 662.15,82.56 670.26,86.39 678.37,75.72" fill="none" stroke="rgb(255,195,0)" stroke-width="0.5"/>
<polyline points="540.50,91.18 548.61,91.57 556.72,92.06 564.83,87.08 572.94,85.19 581.05,72.74 589.16,51.52 597.27,41.39 605.38,34.88 613.49,56.11 621.60,60.01 629.71,72.88 637.82,81.18 645.93,77.38 654.04,83.14 662.15,84.19 670.26,83.54 678.37,87.35" fill="none" stroke="rgb(237,78,13)" stroke-width="0.5"/>
<polyline points="540.50,89.01 548.61,92.12 556.72,84.10 564.83,80.03 572.94,79.37 581.05,70.61 589.16,32.21 597.27,24.16 605.38,36.97 613.49,40.15 621.60,57.42 629.71,76.04 637.82,76.29 645.93,78.04 654.04,79.29 662.15,83.33 670.26,78.47 678.37,78.32" fill="none" stroke="rgb(255,193,0)" stroke-width="0.5"/>
<polyline points="540.50,83.59 548.61,81.31 556.72,77.12 564.83,76.36 572.94,76.36 581.05,70.64 589.16,63.02 597.27,57.30 605.38,55.40 613.49,55.40 621.60,61.12 629.71,66.07 637.82,66.83 645.93,67.59 654.04,68.73 662.15,69.50 670.26,70.64 678.37,60.35" fill="none" stroke="rgb(230,60,30)" stroke-width="0.5"/>
<polyline points="540.50,80.16 548.61,80.16 556.72,69.50 564.83,69.50 572.94,69.50 581.05,59.21 589.16,40.16 597.27,28.73 605.38,24.92 613.49,36.35 621.60,55.40 629.71,70.64 637.82,78.26 645.93,82.07 654.04,83.97 662.15,85.12 670.26,85.88 678.37,83.97" fill="none" stroke="rgb(255,190,0)" stroke-width="0.5"/>
<polyline points="540.50,92.36 548.61,91.59 556.72,89.69 564.83,87.78 572.94,82.07 581.05,70.64 589.16,47.78 597.27,32.54 605.38,31.78 613.49,31.40 621.60,59.21 629.71,70.64 637.82,74.45 645.93,60.35 654.04,68.73 662.15,70.64 670.26,72.55 678.37,74.45" fill="none" stroke="rgb(235,70,40)" stroke-width="0.5"/>
<polyline points="540.50,91.59 548.61,89.69 556.72,87.78 564.83,85.88 572.94,80.16 581.05,66.83 589.16,47.78 597.27,26.83 605.38,25.68 613.49,40.16 621.60,59.21 629.71,70.64 637.82,78.26 645.93,80.16 654.04,82.07 662.15,82.07 670.26,82.83 678.37,82.07" fill="none" stroke="rgb(255,200,40)" stroke-width="0.5"/>
<line x1="536.50" y1="16.80" x2="536.50" y2="94.00" stroke="#000" stroke-width="1.0"/>
<line x1="536.00" y1="93.50" x2="683.00" y2="93.50" stroke="#000" stroke-width="1.0"/>
<line x1="534.50" y1="93.50" x2="536.50" y2="93.50" stroke="#000" stroke-width="0.7"/>
<text x="533.50" y="95.58" font-size="5.8" text-anchor="end" font-weight="bold" fill="#111">0</text>
<line x1="534.50" y1="74.45" x2="536.50" y2="74.45" stroke="#000" stroke-width="0.7"/>
<text x="533.50" y="76.53" font-size="5.8" text-anchor="end" font-weight="bold" fill="#111">5</text>
<line x1="534.50" y1="55.40" x2="536.50" y2="55.40" stroke="#000" stroke-width="0.7"/>
<text x="533.50" y="57.48" font-size="5.8" text-anchor="end" font-weight="bold" fill="#111">10</text>
<line x1="534.50" y1="36.35" x2="536.50" y2="36.35" stroke="#000" stroke-width="0.7"/>
<text x="533.50" y="38.43" font-size="5.8" text-anchor="end" font-weight="bold" fill="#111">15</text>
<line x1="534.50" y1="17.30" x2="536.50" y2="17.30" stroke="#000" stroke-width="0.7"/>
<text x="533.50" y="19.38" font-size="5.8" text-anchor="end" font-weight="bold" fill="#111">20</text>
<line x1="535.40" y1="83.97" x2="536.50" y2="83.97" stroke="#000" stroke-width="0.6"/>
<line x1="535.40" y1="64.92" x2="536.50" y2="64.92" stroke="#000" stroke-width="0.6"/>
<line x1="535.40" y1="45.88" x2="536.50" y2="45.88" stroke="#000" stroke-width="0.6"/>
<line x1="535.40" y1="26.83" x2="536.50" y2="26.83" stroke="#000" stroke-width="0.6"/>
<line x1="540.50" y1="93.30" x2="540.50" y2="95.30" stroke="#000" stroke-width="0.6"/>
<text x="542.50" y="100.60" font-size="6.1" text-anchor="end" font-weight="bold" fill="#111" transform="rotate(-45 542.5 100.6)">6-mers</text>
<line x1="548.61" y1="93.30" x2="548.61" y2="95.30" stroke="#000" stroke-width="0.6"/>
<text x="550.61" y="100.60" font-size="6.1" text-anchor="end" font-weight="bold" fill="#111" transform="rotate(-45 550.61 100.6)">9-mers</text>
<line x1="556.72" y1="93.30" x2="556.72" y2="95.30" stroke="#000" stroke-width="0.6"/>
<text x="558.72" y="100.60" font-size="6.1" text-anchor="end" font-weight="bold" fill="#111" transform="rotate(-45 558.72 100.6)">10-mers</text>
<line x1="564.83" y1="93.30" x2="564.83" y2="95.30" stroke="#000" stroke-width="0.6"/>
<text x="566.83" y="100.60" font-size="6.1" text-anchor="end" font-weight="bold" fill="#111" transform="rotate(-45 566.83 100.6)">11-mers</text>
<line x1="572.94" y1="93.30" x2="572.94" y2="95.30" stroke="#000" stroke-width="0.6"/>
<text x="574.94" y="100.60" font-size="6.1" text-anchor="end" font-weight="bold" fill="#111" transform="rotate(-45 574.94 100.6)">12-mers</text>
<line x1="581.05" y1="93.30" x2="581.05" y2="95.30" stroke="#000" stroke-width="0.6"/>
<text x="583.05" y="100.60" font-size="6.1" text-anchor="end" font-weight="bold" fill="#111" transform="rotate(-45 583.05 100.6)">13-mers</text>
<line x1="589.16" y1="93.30" x2="589.16" y2="95.30" stroke="#000" stroke-width="0.6"/>
<text x="591.16" y="100.60" font-size="6.1" text-anchor="end" font-weight="bold" fill="#111" transform="rotate(-45 591.16 100.6)">14-mers</text>
<line x1="597.27" y1="93.30" x2="597.27" y2="95.30" stroke="#000" stroke-width="0.6"/>
<text x="599.27" y="100.60" font-size="6.1" text-anchor="end" font-weight="bold" fill="#111" transform="rotate(-45 599.27 100.6)">15-mers</text>
<line x1="605.38" y1="93.30" x2="605.38" y2="95.30" stroke="#000" stroke-width="0.6"/>
<text x="607.38" y="100.60" font-size="6.1" text-anchor="end" font-weight="bold" fill="#111" transform="rotate(-45 607.38 100.6)">16-mers</text>
<line x1="613.49" y1="93.30" x2="613.49" y2="95.30" stroke="#000" stroke-width="0.6"/>
<text x="615.49" y="100.60" font-size="6.1" text-anchor="end" font-weight="bold" fill="#111" transform="rotate(-45 615.49 100.6)">17-mers</text>
<line x1="621.60" y1="93.30" x2="621.60" y2="95.30" stroke="#000" stroke-width="0.6"/>
<text x="623.60" y="100.60" font-size="6.1" text-anchor="end" font-weight="bold" fill="#111" transform="rotate(-45 623.6 100.6)">18-mers</text>
<line x1="629.71" y1="93.30" x2="629.71" y2="95.30" stroke="#000" stroke-width="0.6"/>
<text x="631.71" y="100.60" font-size="6.1" text-anchor="end" font-weight="bold" fill="#111" transform="rotate(-45 631.71 100.6)">19-mers</text>
<line x1="637.82" y1="93.30" x2="637.82" y2="95.30" stroke="#000" stroke-width="0.6"/>
<text x="639.82" y="100.60" font-size="6.1" text-anchor="end" font-weight="bold" fill="#111" transform="rotate(-45 639.8199999999999 100.6)">20-mers</text>
<line x1="645.93" y1="93.30" x2="645.93" y2="95.30" stroke="#000" stroke-width="0.6"/>
<text x="647.93" y="100.60" font-size="6.1" text-anchor="end" font-weight="bold" fill="#111" transform="rotate(-45 647.93 100.6)">21-mers</text>
<line x1="654.04" y1="93.30" x2="654.04" y2="95.30" stroke="#000" stroke-width="0.6"/>
<text x="656.04" y="100.60" font-size="6.1" text-anchor="end" font-weight="bold" fill="#111" transform="rotate(-45 656.04 100.6)">22-mers</text>
<line x1="662.15" y1="93.30" x2="662.15" y2="95.30" stroke="#000" stroke-width="0.6"/>
<text x="664.15" y="100.60" font-size="6.1" text-anchor="end" font-weight="bold" fill="#111" transform="rotate(-45 664.15 100.6)">23-mers</text>
<line x1="670.26" y1="93.30" x2="670.26" y2="95.30" stroke="#000" stroke-width="0.6"/>
<text x="672.26" y="100.60" font-size="6.1" text-anchor="end" font-weight="bold" fill="#111" transform="rotate(-45 672.26 100.6)">24-mers</text>
<line x1="678.37" y1="93.30" x2="678.37" y2="95.30" stroke="#000" stroke-width="0.6"/>
<text x="680.37" y="100.60" font-size="6.1" text-anchor="end" font-weight="bold" fill="#111" transform="rotate(-45 680.37 100.6)">25-mers</text>
<text x="519.50" y="50.00" font-size="6.2" text-anchor="middle" font-weight="bold" fill="#000" transform="rotate(-90 519.5 50)">% of HLA class II peptides</text>
</g>
<g id="pd">
<text x="0.60" y="146.60" font-size="10" text-anchor="start" font-weight="bold" fill="#000" stroke="#000" stroke-width="0.35">d</text>
<line x1="30.00" y1="167.50" x2="140.00" y2="167.50" stroke="#e8761a" stroke-width="1.4"/>
<line x1="30.00" y1="172.83" x2="140.00" y2="172.83" stroke="#c8c8c8" stroke-width="0.6" stroke-dasharray="1.5,0.7"/>
<polyline points="30.00,230.00 30.38,229.15 30.76,228.22 31.15,227.27 31.53,226.33 31.91,225.39 32.29,224.47 32.68,223.56 33.06,222.67 33.44,221.80 33.82,220.94 34.21,220.10 34.59,219.28 34.97,218.48 35.35,217.69 35.73,216.92 36.12,216.17 36.50,215.44 36.88,214.72 37.26,214.02 37.65,213.34 38.03,212.67 38.41,212.02 38.79,211.38 39.18,210.76 39.56,210.15 39.94,209.55 40.32,208.97 40.71,208.40 41.09,207.84 41.47,207.29 41.85,206.76 42.23,206.24 42.62,205.73 43.00,205.23 43.38,204.74 43.76,204.26 44.15,203.79 44.53,203.33 44.91,202.88 45.29,202.44 45.68,202.01 46.06,201.58 46.44,201.17 46.82,200.76 47.20,200.36 47.59,199.97 47.97,199.59 48.35,199.21 48.73,198.85 49.12,198.48 49.50,198.13 49.88,197.78 50.26,197.44 50.65,197.10 51.03,196.77 51.41,196.45 51.79,196.13 52.18,195.82 52.56,195.51 52.94,195.21 53.32,194.91 53.70,194.62 54.09,194.34 54.47,194.06 54.85,193.78 55.23,193.51 55.62,193.24 56.00,192.98 56.38,192.72 56.76,192.47 57.15,192.22 57.53,191.97 57.91,191.73 58.29,191.49 58.67,191.25 59.06,191.02 59.44,190.80 59.82,190.57 60.20,190.35 60.59,190.14 60.97,189.92 61.35,189.71 61.73,189.50 62.12,189.30 62.50,189.10 62.88,188.90 63.26,188.70 63.65,188.51 64.03,188.32 64.41,188.14 64.79,187.95 65.17,187.77 65.56,187.59 65.94,187.41 66.32,187.24 66.70,187.07 67.09,186.90 67.47,186.73 67.85,186.56 68.23,186.40 68.62,186.24 69.00,186.08 69.38,185.93 69.76,185.77 70.14,185.62 70.53,185.47 70.91,185.32 71.29,185.17 71.67,185.03 72.06,184.89 72.44,184.74 72.82,184.60 73.20,184.47 73.59,184.33 73.97,184.20 74.35,184.06 74.73,183.93 75.12,183.80 75.50,183.68 75.88,183.55 76.26,183.42 76.64,183.30 77.03,183.18 77.41,183.06 77.79,182.94 78.17,182.82 78.56,182.71 78.94,182.59 79.32,182.48 79.70,182.36 80.09,182.25 80.47,182.14 80.85,182.03 81.23,181.93 81.61,181.82 82.00,181.72 82.38,181.61 82.76,181.51 83.14,181.41 83.53,181.31 83.91,181.21 84.29,181.11 84.67,181.01 85.06,180.91 85.44,180.82 85.82,180.73 86.20,180.63 86.59,180.54 86.97,180.45 87.35,180.36 87.73,180.27 88.11,180.18 88.50,180.09 88.88,180.00 89.26,179.92 89.64,179.83 90.03,179.75 90.41,179.66 90.79,179.58 91.17,179.50 91.56,179.42 91.94,179.34 92.32,179.26 92.70,179.18 93.08,179.10 93.47,179.03 93.85,178.95 94.23,178.87 94.61,178.80 95.00,178.72 95.38,178.65 95.76,178.58 96.14,178.50 96.53,178.43 96.91,178.36 97.29,178.29 97.67,178.22 98.06,178.15 98.44,178.08 98.82,178.02 99.20,177.95 99.58,177.88 99.97,177.82 100.35,177.75 100.73,177.69 101.11,177.62 101.50,177.56 101.88,177.49 102.26,177.43 102.64,177.37 103.03,177.31 103.41,177.25 103.79,177.19 104.17,177.13 104.55,177.07 104.94,177.01 105.32,176.95 105.70,176.89 106.08,176.83 106.47,176.78 106.85,176.72 107.23,176.66 107.61,176.61 108.00,176.55 108.38,176.50 108.76,176.44 109.14,176.39 109.53,176.34 109.91,176.28 110.29,176.23 110.67,176.18 111.05,176.13 111.44,176.07 111.82,176.02 112.20,175.97 112.58,175.92 112.97,175.87 113.35,175.82 113.73,175.77 114.11,175.73 114.50,175.68 114.88,175.63 115.26,175.58 115.64,175.53 116.02,175.49 116.41,175.44 116.79,175.40 117.17,175.35 117.55,175.30 117.94,175.26 118.32,175.21 118.70,175.17 119.08,175.13 119.47,175.08 119.85,175.04 120.23,175.00 120.61,174.95 121.00,174.91 121.38,174.87 121.76,174.83 122.14,174.78 122.52,174.74 122.91,174.70 123.29,174.66 123.67,174.62 124.05,174.58 124.44,174.54 124.82,174.50 125.20,174.46 125.58,174.42 125.97,174.38 126.35,174.34 126.73,174.31 127.11,174.27 127.49,174.23 127.88,174.19 128.26,174.16 128.64,174.12 129.02,174.08 129.41,174.05 129.79,174.01 130.17,173.97 130.55,173.94 130.94,173.90 131.32,173.87 131.70,173.83 132.08,173.80 132.47,173.76 132.85,173.73 133.23,173.69 133.61,173.66 133.99,173.63 134.38,173.59 134.76,173.56 135.14,173.53 135.52,173.49 135.91,173.46 136.29,173.43 136.67,173.40 137.05,173.36" fill="none" stroke="#111" stroke-width="1.1"/>
<line x1="30.00" y1="158.50" x2="30.00" y2="230.60" stroke="#000" stroke-width="1.2"/>
<line x1="29.40" y1="230.00" x2="144.90" y2="230.00" stroke="#000" stroke-width="1.2"/>
<line x1="28.00" y1="230.00" x2="30.00" y2="230.00" stroke="#000" stroke-width="0.7"/>
<text x="27.00" y="232.05" font-size="5.7" text-anchor="end" font-weight="bold" fill="#111">0</text>
<line x1="28.00" y1="218.30" x2="30.00" y2="218.30" stroke="#000" stroke-width="0.7"/>
<text x="27.00" y="220.35" font-size="5.7" text-anchor="end" font-weight="bold" fill="#111">2000</text>
<line x1="28.00" y1="206.60" x2="30.00" y2="206.60" stroke="#000" stroke-width="0.7"/>
<text x="27.00" y="208.65" font-size="5.7" text-anchor="end" font-weight="bold" fill="#111">4000</text>
<line x1="28.00" y1="194.90" x2="30.00" y2="194.90" stroke="#000" stroke-width="0.7"/>
<text x="27.00" y="196.95" font-size="5.7" text-anchor="end" font-weight="bold" fill="#111">6000</text>
<line x1="28.00" y1="183.20" x2="30.00" y2="183.20" stroke="#000" stroke-width="0.7"/>
<text x="27.00" y="185.25" font-size="5.7" text-anchor="end" font-weight="bold" fill="#111">8000</text>
<line x1="28.00" y1="171.50" x2="30.00" y2="171.50" stroke="#000" stroke-width="0.7"/>
<text x="27.00" y="173.55" font-size="5.7" text-anchor="end" font-weight="bold" fill="#111">10000</text>
<line x1="28.00" y1="159.80" x2="30.00" y2="159.80" stroke="#000" stroke-width="0.7"/>
<text x="27.00" y="161.85" font-size="5.7" text-anchor="end" font-weight="bold" fill="#111">12000</text>
<line x1="28.70" y1="227.07" x2="30.00" y2="227.07" stroke="#000" stroke-width="0.6"/>
<line x1="28.70" y1="224.15" x2="30.00" y2="224.15" stroke="#000" stroke-width="0.6"/>
<line x1="28.70" y1="221.22" x2="30.00" y2="221.22" stroke="#000" stroke-width="0.6"/>
<line x1="28.70" y1="215.38" x2="30.00" y2="215.38" stroke="#000" stroke-width="0.6"/>
<line x1="28.70" y1="212.45" x2="30.00" y2="212.45" stroke="#000" stroke-width="0.6"/>
<line x1="28.70" y1="209.53" x2="30.00" y2="209.53" stroke="#000" stroke-width="0.6"/>
<line x1="28.70" y1="203.68" x2="30.00" y2="203.68" stroke="#000" stroke-width="0.6"/>
<line x1="28.70" y1="200.75" x2="30.00" y2="200.75" stroke="#000" stroke-width="0.6"/>
<line x1="28.70" y1="197.82" x2="30.00" y2="197.82" stroke="#000" stroke-width="0.6"/>
<line x1="28.70" y1="191.97" x2="30.00" y2="191.97" stroke="#000" stroke-width="0.6"/>
<line x1="28.70" y1="189.05" x2="30.00" y2="189.05" stroke="#000" stroke-width="0.6"/>
<line x1="28.70" y1="186.12" x2="30.00" y2="186.12" stroke="#000" stroke-width="0.6"/>
<line x1="28.70" y1="180.28" x2="30.00" y2="180.28" stroke="#000" stroke-width="0.6"/>
<line x1="28.70" y1="177.35" x2="30.00" y2="177.35" stroke="#000" stroke-width="0.6"/>
<line x1="28.70" y1="174.43" x2="30.00" y2="174.43" stroke="#000" stroke-width="0.6"/>
<line x1="28.70" y1="168.57" x2="30.00" y2="168.57" stroke="#000" stroke-width="0.6"/>
<line x1="28.70" y1="165.65" x2="30.00" y2="165.65" stroke="#000" stroke-width="0.6"/>
<line x1="28.70" y1="162.72" x2="30.00" y2="162.72" stroke="#000" stroke-width="0.6"/>
<text x="27.00" y="167.20" font-size="5.2" text-anchor="end" fill="#e8761a">10740</text>
<line x1="30.00" y1="230.00" x2="30.00" y2="232.00" stroke="#000" stroke-width="0.7"/>
<text x="30.00" y="238.60" font-size="5.4" text-anchor="middle" font-weight="bold" fill="#111">0</text>
<line x1="49.12" y1="230.00" x2="49.12" y2="232.00" stroke="#000" stroke-width="0.7"/>
<text x="49.12" y="238.60" font-size="5.4" text-anchor="middle" font-weight="bold" fill="#111">5</text>
<line x1="68.23" y1="230.00" x2="68.23" y2="232.00" stroke="#000" stroke-width="0.7"/>
<text x="68.23" y="238.60" font-size="5.4" text-anchor="middle" font-weight="bold" fill="#111">10</text>
<line x1="87.35" y1="230.00" x2="87.35" y2="232.00" stroke="#000" stroke-width="0.7"/>
<text x="87.35" y="238.60" font-size="5.4" text-anchor="middle" font-weight="bold" fill="#111">15</text>
<line x1="106.47" y1="230.00" x2="106.47" y2="232.00" stroke="#000" stroke-width="0.7"/>
<text x="106.47" y="238.60" font-size="5.4" text-anchor="middle" font-weight="bold" fill="#111">20</text>
<line x1="125.58" y1="230.00" x2="125.58" y2="232.00" stroke="#000" stroke-width="0.7"/>
<text x="125.58" y="238.60" font-size="5.4" text-anchor="middle" font-weight="bold" fill="#111">25</text>
<line x1="144.70" y1="230.00" x2="144.70" y2="232.00" stroke="#000" stroke-width="0.7"/>
<text x="144.70" y="238.60" font-size="5.4" text-anchor="middle" font-weight="bold" fill="#111">30</text>
<line x1="33.82" y1="230.00" x2="33.82" y2="231.10" stroke="#000" stroke-width="0.5"/>
<line x1="37.65" y1="230.00" x2="37.65" y2="231.10" stroke="#000" stroke-width="0.5"/>
<line x1="41.47" y1="230.00" x2="41.47" y2="231.10" stroke="#000" stroke-width="0.5"/>
<line x1="45.29" y1="230.00" x2="45.29" y2="231.10" stroke="#000" stroke-width="0.5"/>
<line x1="52.94" y1="230.00" x2="52.94" y2="231.10" stroke="#000" stroke-width="0.5"/>
<line x1="56.76" y1="230.00" x2="56.76" y2="231.10" stroke="#000" stroke-width="0.5"/>
<line x1="60.59" y1="230.00" x2="60.59" y2="231.10" stroke="#000" stroke-width="0.5"/>
<line x1="64.41" y1="230.00" x2="64.41" y2="231.10" stroke="#000" stroke-width="0.5"/>
<line x1="72.06" y1="230.00" x2="72.06" y2="231.10" stroke="#000" stroke-width="0.5"/>
<line x1="75.88" y1="230.00" x2="75.88" y2="231.10" stroke="#000" stroke-width="0.5"/>
<line x1="79.70" y1="230.00" x2="79.70" y2="231.10" stroke="#000" stroke-width="0.5"/>
<line x1="83.53" y1="230.00" x2="83.53" y2="231.10" stroke="#000" stroke-width="0.5"/>
<line x1="91.17" y1="230.00" x2="91.17" y2="231.10" stroke="#000" stroke-width="0.5"/>
<line x1="95.00" y1="230.00" x2="95.00" y2="231.10" stroke="#000" stroke-width="0.5"/>
<line x1="98.82" y1="230.00" x2="98.82" y2="231.10" stroke="#000" stroke-width="0.5"/>
<line x1="102.64" y1="230.00" x2="102.64" y2="231.10" stroke="#000" stroke-width="0.5"/>
<line x1="110.29" y1="230.00" x2="110.29" y2="231.10" stroke="#000" stroke-width="0.5"/>
<line x1="114.11" y1="230.00" x2="114.11" y2="231.10" stroke="#000" stroke-width="0.5"/>
<line x1="117.94" y1="230.00" x2="117.94" y2="231.10" stroke="#000" stroke-width="0.5"/>
<line x1="121.76" y1="230.00" x2="121.76" y2="231.10" stroke="#000" stroke-width="0.5"/>
<line x1="129.41" y1="230.00" x2="129.41" y2="231.10" stroke="#000" stroke-width="0.5"/>
<line x1="133.23" y1="230.00" x2="133.23" y2="231.10" stroke="#000" stroke-width="0.5"/>
<line x1="137.05" y1="230.00" x2="137.05" y2="231.10" stroke="#000" stroke-width="0.5"/>
<line x1="140.88" y1="230.00" x2="140.88" y2="231.10" stroke="#000" stroke-width="0.5"/>
<text x="89.50" y="246.40" font-size="6.1" text-anchor="middle" font-weight="bold" fill="#000">Number of medulloblastoma samples</text>
<text x="9.00" y="194.00" font-size="6.25" text-anchor="middle" font-weight="bold" fill="#000" transform="rotate(-90 9.0 194)">Number of protein IDs</text>
<text x="141.00" y="171.60" font-size="5.0" text-anchor="start" fill="#aaa">91%</text>
<text x="96.8" y="204.6" font-size="5.3" fill="#222">R<tspan dy="-2" font-size="3.6">2</tspan><tspan dy="2"> = 0.9999</tspan></text>
</g>
<g id="pe">
<text x="177.60" y="146.80" font-size="10" text-anchor="start" font-weight="bold" fill="#000" stroke="#000" stroke-width="0.35">e</text>
<line x1="201.20" y1="163.30" x2="308.20" y2="163.30" stroke="#e8761a" stroke-width="1.3"/>
<line x1="201.20" y1="179.97" x2="308.00" y2="179.97" stroke="#c8c8c8" stroke-width="0.6" stroke-dasharray="1.5,0.7"/>
<polyline points="201.20,230.00 201.56,229.75 201.91,229.47 202.27,229.19 202.62,228.91 202.98,228.62 203.34,228.33 203.69,228.03 204.05,227.74 204.40,227.45 204.76,227.15 205.12,226.86 205.47,226.56 205.83,226.27 206.18,225.98 206.54,225.68 206.90,225.39 207.25,225.10 207.61,224.81 207.96,224.52 208.32,224.23 208.68,223.94 209.03,223.65 209.39,223.36 209.74,223.08 210.10,222.79 210.46,222.51 210.81,222.23 211.17,221.95 211.52,221.67 211.88,221.39 212.24,221.11 212.59,220.83 212.95,220.56 213.30,220.28 213.66,220.01 214.02,219.74 214.37,219.46 214.73,219.19 215.08,218.93 215.44,218.66 215.80,218.39 216.15,218.13 216.51,217.86 216.86,217.60 217.22,217.34 217.58,217.08 217.93,216.82 218.29,216.56 218.64,216.31 219.00,216.05 219.36,215.80 219.71,215.55 220.07,215.29 220.42,215.04 220.78,214.79 221.14,214.55 221.49,214.30 221.85,214.06 222.20,213.81 222.56,213.57 222.92,213.33 223.27,213.09 223.63,212.85 223.98,212.61 224.34,212.37 224.70,212.13 225.05,211.90 225.41,211.67 225.76,211.43 226.12,211.20 226.48,210.97 226.83,210.74 227.19,210.52 227.54,210.29 227.90,210.06 228.26,209.84 228.61,209.62 228.97,209.39 229.32,209.17 229.68,208.95 230.04,208.73 230.39,208.52 230.75,208.30 231.10,208.08 231.46,207.87 231.82,207.65 232.17,207.44 232.53,207.23 232.88,207.02 233.24,206.81 233.60,206.60 233.95,206.39 234.31,206.19 234.66,205.98 235.02,205.78 235.38,205.57 235.73,205.37 236.09,205.17 236.44,204.97 236.80,204.77 237.16,204.57 237.51,204.38 237.87,204.18 238.22,203.98 238.58,203.79 238.94,203.59 239.29,203.40 239.65,203.21 240.00,203.02 240.36,202.83 240.72,202.64 241.07,202.45 241.43,202.26 241.78,202.08 242.14,201.89 242.50,201.71 242.85,201.52 243.21,201.34 243.56,201.16 243.92,200.98 244.28,200.80 244.63,200.62 244.99,200.44 245.34,200.26 245.70,200.09 246.06,199.91 246.41,199.73 246.77,199.56 247.12,199.39 247.48,199.21 247.84,199.04 248.19,198.87 248.55,198.70 248.90,198.53 249.26,198.36 249.62,198.19 249.97,198.03 250.33,197.86 250.68,197.69 251.04,197.53 251.40,197.37 251.75,197.20 252.11,197.04 252.46,196.88 252.82,196.72 253.18,196.56 253.53,196.40 253.89,196.24 254.24,196.08 254.60,195.92 254.96,195.77 255.31,195.61 255.67,195.45 256.02,195.30 256.38,195.15 256.74,194.99 257.09,194.84 257.45,194.69 257.80,194.54 258.16,194.39 258.52,194.24 258.87,194.09 259.23,193.94 259.58,193.79 259.94,193.64 260.30,193.50 260.65,193.35 261.01,193.21 261.36,193.06 261.72,192.92 262.08,192.77 262.43,192.63 262.79,192.49 263.14,192.35 263.50,192.21 263.86,192.07 264.21,191.93 264.57,191.79 264.92,191.65 265.28,191.51 265.64,191.37 265.99,191.24 266.35,191.10 266.70,190.97 267.06,190.83 267.42,190.70 267.77,190.56 268.13,190.43 268.48,190.30 268.84,190.16 269.20,190.03 269.55,189.90 269.91,189.77 270.26,189.64 270.62,189.51 270.98,189.38 271.33,189.26 271.69,189.13 272.04,189.00 272.40,188.87 272.76,188.75 273.11,188.62 273.47,188.50 273.82,188.37 274.18,188.25 274.54,188.13 274.89,188.00 275.25,187.88 275.60,187.76 275.96,187.64 276.32,187.52 276.67,187.39 277.03,187.27 277.38,187.16 277.74,187.04 278.10,186.92 278.45,186.80 278.81,186.68 279.16,186.57 279.52,186.45 279.88,186.33 280.23,186.22 280.59,186.10 280.94,185.99 281.30,185.87 281.66,185.76 282.01,185.65 282.37,185.53 282.72,185.42 283.08,185.31 283.44,185.20 283.79,185.09 284.15,184.97 284.50,184.86 284.86,184.75 285.22,184.65 285.57,184.54 285.93,184.43 286.28,184.32 286.64,184.21 287.00,184.10 287.35,184.00 287.71,183.89 288.06,183.79 288.42,183.68 288.78,183.57 289.13,183.47 289.49,183.37 289.84,183.26 290.20,183.16 290.56,183.05 290.91,182.95 291.27,182.85 291.62,182.75 291.98,182.65 292.34,182.54 292.69,182.44 293.05,182.34 293.40,182.24 293.76,182.14 294.12,182.04 294.47,181.95 294.83,181.85 295.18,181.75 295.54,181.65 295.90,181.55 296.25,181.46 296.61,181.36 296.96,181.26 297.32,181.17 297.68,181.07 298.03,180.98 298.39,180.88 298.74,180.79 299.10,180.69 299.46,180.60 299.81,180.50 300.17,180.41 300.52,180.32 300.88,180.23" fill="none" stroke="#111" stroke-width="1.1"/>
<line x1="201.20" y1="158.50" x2="201.20" y2="230.50" stroke="#000" stroke-width="0.9"/>
<line x1="200.80" y1="230.00" x2="308.50" y2="230.00" stroke="#000" stroke-width="0.9"/>
<line x1="199.20" y1="230.00" x2="201.20" y2="230.00" stroke="#000" stroke-width="0.7"/>
<text x="198.40" y="232.00" font-size="5.3" text-anchor="end" font-weight="bold" fill="#111">0</text>
<line x1="199.20" y1="206.60" x2="201.20" y2="206.60" stroke="#000" stroke-width="0.7"/>
<text x="198.40" y="208.60" font-size="5.3" text-anchor="end" font-weight="bold" fill="#111">15000</text>
<line x1="199.20" y1="183.20" x2="201.20" y2="183.20" stroke="#000" stroke-width="0.7"/>
<text x="198.40" y="185.20" font-size="5.3" text-anchor="end" font-weight="bold" fill="#111">30000</text>
<line x1="199.20" y1="159.80" x2="201.20" y2="159.80" stroke="#000" stroke-width="0.7"/>
<text x="198.40" y="161.80" font-size="5.3" text-anchor="end" font-weight="bold" fill="#111">45000</text>
<line x1="199.90" y1="225.32" x2="201.20" y2="225.32" stroke="#000" stroke-width="0.7"/>
<line x1="199.90" y1="220.64" x2="201.20" y2="220.64" stroke="#000" stroke-width="0.7"/>
<line x1="199.90" y1="215.96" x2="201.20" y2="215.96" stroke="#000" stroke-width="0.7"/>
<line x1="199.90" y1="211.28" x2="201.20" y2="211.28" stroke="#000" stroke-width="0.7"/>
<line x1="199.90" y1="201.92" x2="201.20" y2="201.92" stroke="#000" stroke-width="0.7"/>
<line x1="199.90" y1="197.24" x2="201.20" y2="197.24" stroke="#000" stroke-width="0.7"/>
<line x1="199.90" y1="192.56" x2="201.20" y2="192.56" stroke="#000" stroke-width="0.7"/>
<line x1="199.90" y1="187.88" x2="201.20" y2="187.88" stroke="#000" stroke-width="0.7"/>
<line x1="199.90" y1="178.52" x2="201.20" y2="178.52" stroke="#000" stroke-width="0.7"/>
<line x1="199.90" y1="173.84" x2="201.20" y2="173.84" stroke="#000" stroke-width="0.7"/>
<line x1="199.90" y1="169.16" x2="201.20" y2="169.16" stroke="#000" stroke-width="0.7"/>
<line x1="199.90" y1="164.48" x2="201.20" y2="164.48" stroke="#000" stroke-width="0.7"/>
<text x="198.60" y="165.30" font-size="5.0" text-anchor="end" fill="#e8761a">42759</text>
<line x1="201.20" y1="230.00" x2="201.20" y2="232.00" stroke="#000" stroke-width="0.7"/>
<text x="201.20" y="238.60" font-size="5.4" text-anchor="middle" font-weight="bold" fill="#111">0</text>
<line x1="219.00" y1="230.00" x2="219.00" y2="232.00" stroke="#000" stroke-width="0.7"/>
<text x="219.00" y="238.60" font-size="5.4" text-anchor="middle" font-weight="bold" fill="#111">5</text>
<line x1="236.80" y1="230.00" x2="236.80" y2="232.00" stroke="#000" stroke-width="0.7"/>
<text x="236.80" y="238.60" font-size="5.4" text-anchor="middle" font-weight="bold" fill="#111">10</text>
<line x1="254.60" y1="230.00" x2="254.60" y2="232.00" stroke="#000" stroke-width="0.7"/>
<text x="254.60" y="238.60" font-size="5.4" text-anchor="middle" font-weight="bold" fill="#111">15</text>
<line x1="272.40" y1="230.00" x2="272.40" y2="232.00" stroke="#000" stroke-width="0.7"/>
<text x="272.40" y="238.60" font-size="5.4" text-anchor="middle" font-weight="bold" fill="#111">20</text>
<line x1="290.20" y1="230.00" x2="290.20" y2="232.00" stroke="#000" stroke-width="0.7"/>
<text x="290.20" y="238.60" font-size="5.4" text-anchor="middle" font-weight="bold" fill="#111">25</text>
<line x1="308.00" y1="230.00" x2="308.00" y2="232.00" stroke="#000" stroke-width="0.7"/>
<text x="308.00" y="238.60" font-size="5.4" text-anchor="middle" font-weight="bold" fill="#111">30</text>
<line x1="204.76" y1="230.00" x2="204.76" y2="231.10" stroke="#000" stroke-width="0.5"/>
<line x1="208.32" y1="230.00" x2="208.32" y2="231.10" stroke="#000" stroke-width="0.5"/>
<line x1="211.88" y1="230.00" x2="211.88" y2="231.10" stroke="#000" stroke-width="0.5"/>
<line x1="215.44" y1="230.00" x2="215.44" y2="231.10" stroke="#000" stroke-width="0.5"/>
<line x1="222.56" y1="230.00" x2="222.56" y2="231.10" stroke="#000" stroke-width="0.5"/>
<line x1="226.12" y1="230.00" x2="226.12" y2="231.10" stroke="#000" stroke-width="0.5"/>
<line x1="229.68" y1="230.00" x2="229.68" y2="231.10" stroke="#000" stroke-width="0.5"/>
<line x1="233.24" y1="230.00" x2="233.24" y2="231.10" stroke="#000" stroke-width="0.5"/>
<line x1="240.36" y1="230.00" x2="240.36" y2="231.10" stroke="#000" stroke-width="0.5"/>
<line x1="243.92" y1="230.00" x2="243.92" y2="231.10" stroke="#000" stroke-width="0.5"/>
<line x1="247.48" y1="230.00" x2="247.48" y2="231.10" stroke="#000" stroke-width="0.5"/>
<line x1="251.04" y1="230.00" x2="251.04" y2="231.10" stroke="#000" stroke-width="0.5"/>
<line x1="258.16" y1="230.00" x2="258.16" y2="231.10" stroke="#000" stroke-width="0.5"/>
<line x1="261.72" y1="230.00" x2="261.72" y2="231.10" stroke="#000" stroke-width="0.5"/>
<line x1="265.28" y1="230.00" x2="265.28" y2="231.10" stroke="#000" stroke-width="0.5"/>
<line x1="268.84" y1="230.00" x2="268.84" y2="231.10" stroke="#000" stroke-width="0.5"/>
<line x1="275.96" y1="230.00" x2="275.96" y2="231.10" stroke="#000" stroke-width="0.5"/>
<line x1="279.52" y1="230.00" x2="279.52" y2="231.10" stroke="#000" stroke-width="0.5"/>
<line x1="283.08" y1="230.00" x2="283.08" y2="231.10" stroke="#000" stroke-width="0.5"/>
<line x1="286.64" y1="230.00" x2="286.64" y2="231.10" stroke="#000" stroke-width="0.5"/>
<line x1="293.76" y1="230.00" x2="293.76" y2="231.10" stroke="#000" stroke-width="0.5"/>
<line x1="297.32" y1="230.00" x2="297.32" y2="231.10" stroke="#000" stroke-width="0.5"/>
<line x1="300.88" y1="230.00" x2="300.88" y2="231.10" stroke="#000" stroke-width="0.5"/>
<line x1="304.44" y1="230.00" x2="304.44" y2="231.10" stroke="#000" stroke-width="0.5"/>
<text x="256.50" y="246.40" font-size="5.65" text-anchor="middle" font-weight="bold" fill="#000">Number of medulloblastoma samples</text>
<text x="181.20" y="195.80" font-size="5.65" text-anchor="middle" font-weight="bold" fill="#000" transform="rotate(-90 181.2 195.8)">Number of unique peptides</text>
<text x="304.00" y="187.60" font-size="5.0" text-anchor="start" fill="#aaa">75%</text>
<text x="263.7" y="207.0" font-size="4.6" fill="#222">R<tspan dy="-1.8" font-size="3.2">2</tspan><tspan dy="1.8"> = 0.9996</tspan></text>
</g>
<g id="pf">
<text x="327.60" y="146.70" font-size="10" text-anchor="start" font-weight="bold" fill="#000" stroke="#000" stroke-width="0.35">f</text>
<rect x="383.80" y="141.70" width="4.00" height="4.00" fill="#e46c0a"/>
<text x="390.40" y="146.20" font-size="6.9" text-anchor="start" fill="#000">Medulloblastoma (n=28)</text>
<rect x="516.70" y="141.70" width="4.00" height="4.00" fill="#a6a6a6"/>
<text x="523.80" y="146.20" font-size="6.9" text-anchor="start" fill="#000">Benign samples without testes (n=418)</text>
<line x1="366.50" y1="176.50" x2="675.00" y2="176.50" stroke="#b8b8b8" stroke-width="1.0"/>
<line x1="366.50" y1="191.00" x2="675.00" y2="191.00" stroke="#b8b8b8" stroke-width="1.0"/>
<line x1="366.50" y1="205.50" x2="675.00" y2="205.50" stroke="#b8b8b8" stroke-width="1.0"/>
<line x1="366.50" y1="220.00" x2="675.00" y2="220.00" stroke="#b8b8b8" stroke-width="1.0"/>
<line x1="366.50" y1="234.50" x2="675.00" y2="234.50" stroke="#b8b8b8" stroke-width="1.0"/>
<line x1="366.50" y1="249.00" x2="675.00" y2="249.00" stroke="#b8b8b8" stroke-width="1.0"/>
<line x1="366.50" y1="263.50" x2="675.00" y2="263.50" stroke="#b8b8b8" stroke-width="1.0"/>
<line x1="366.50" y1="278.00" x2="675.00" y2="278.00" stroke="#b8b8b8" stroke-width="1.0"/>
<line x1="366.50" y1="292.50" x2="675.00" y2="292.50" stroke="#b8b8b8" stroke-width="1.0"/>
<line x1="366.50" y1="307.00" x2="675.00" y2="307.00" stroke="#b8b8b8" stroke-width="1.0"/>
<line x1="366.50" y1="321.50" x2="675.00" y2="321.50" stroke="#b8b8b8" stroke-width="1.0"/>
<text x="358.30" y="155.55" font-size="7.4" text-anchor="end" fill="#000">100%</text>
<text x="358.30" y="170.10" font-size="7.4" text-anchor="end" fill="#000">80%</text>
<text x="358.30" y="184.65" font-size="7.4" text-anchor="end" fill="#000">60%</text>
<text x="358.30" y="199.20" font-size="7.4" text-anchor="end" fill="#000">40%</text>
<text x="358.30" y="213.75" font-size="7.4" text-anchor="end" fill="#000">20%</text>
<text x="358.30" y="228.30" font-size="7.4" text-anchor="end" fill="#000">0%</text>
<text x="358.30" y="242.85" font-size="7.4" text-anchor="end" fill="#000">20%</text>
<text x="358.30" y="257.40" font-size="7.4" text-anchor="end" fill="#000">40%</text>
<text x="358.30" y="271.95" font-size="7.4" text-anchor="end" fill="#000">60%</text>
<text x="358.30" y="286.50" font-size="7.4" text-anchor="end" fill="#000">80%</text>
<text x="358.30" y="301.05" font-size="7.4" text-anchor="end" fill="#000">100%</text>
<line x1="367.00" y1="176.50" x2="367.00" y2="321.50" stroke="#b8b8b8" stroke-width="1.0"/>
<text x="333.00" y="227.00" font-size="7.3" text-anchor="middle" font-weight="bold" fill="#000" transform="rotate(-90 333.0 227)">Frequency of positive HLA peptidomes</text>
<circle cx="577.6" cy="329.8" r="39.3" fill="#f3f3f3" stroke="#8c8c8c" stroke-width="0.6"/>
<circle cx="588.4" cy="329.0" r="29.8" fill="#f0e6df" stroke="#e8883a" stroke-width="0.9"/>
<polygon points="367.90,246.60 367.90,245.67 368.42,245.58 368.94,245.32 369.46,245.86 369.98,246.12 370.50,246.60 370.50,246.60" fill="#e46c0a"/>
<polygon points="367.90,246.60 367.90,243.62 368.27,244.44 368.64,245.12 369.01,245.79 369.39,246.15 369.76,246.42 370.13,246.56 370.50,246.60 370.50,246.60" fill="#e46c0a"/>
<path d="M368.03 246.60V239.00M370.21 246.60V242.52" stroke="#e46c0a" stroke-width="0.6" stroke-opacity="0.5"/>
<path d="M369.37 246.60V244.20" stroke="#e46c0a" stroke-width="0.45" stroke-opacity="0.8"/>
<polygon points="377.30,246.60 377.30,244.07 377.81,241.72 378.33,243.87 378.84,243.30 379.36,243.11 379.87,244.12 380.39,242.37 380.90,242.68 381.41,241.46 381.93,243.05 382.44,243.17 382.96,244.15 383.47,244.57 383.99,245.69 384.50,246.60 384.50,246.60" fill="#e46c0a"/>
<polygon points="377.30,246.60 377.30,224.31 377.66,231.26 378.02,236.96 378.38,240.61 378.74,243.10 379.10,244.87 379.46,245.78 379.82,246.37 380.18,246.57 380.54,246.60 380.54,246.60" fill="#e46c0a"/>
<polygon points="381.39,246.60 381.39,228.29 381.74,231.95 382.08,234.38 382.43,238.48 382.77,240.71 383.12,243.31 383.46,244.95 383.81,245.86 384.15,246.43 384.50,246.60 384.50,246.60" fill="#e46c0a"/>
<path d="M377.66 246.60V205.00M383.69 246.60V222.70M381.00 246.60V223.31M378.56 246.60V213.50M378.17 246.60V214.69" stroke="#e46c0a" stroke-width="0.6" stroke-opacity="0.5"/>
<path d="M378.08 246.60V229.09M377.97 246.60V232.07M382.58 246.60V234.28" stroke="#e46c0a" stroke-width="0.45" stroke-opacity="0.8"/>
<polygon points="387.20,246.60 387.20,243.09 387.72,241.46 388.23,242.58 388.75,242.29 389.27,238.60 389.78,239.57 390.30,242.25 390.82,239.43 391.33,242.94 391.85,242.23 392.37,240.42 392.88,241.72 393.40,244.19 393.92,241.50 394.43,244.47 394.95,244.80 395.47,244.51 395.98,245.87 396.50,246.60 396.50,246.60" fill="#e46c0a"/>
<polygon points="387.20,246.60 387.20,230.28 387.59,238.70 387.97,243.06 388.36,245.59 388.74,246.47 389.13,246.60 389.13,246.60" fill="#e46c0a"/>
<polygon points="390.28,246.60 390.28,224.31 390.63,232.63 390.97,237.47 391.31,241.99 391.65,244.83 392.00,246.08 392.34,246.53 392.68,246.60 392.68,246.60" fill="#e46c0a"/>
<polygon points="393.12,246.60 393.12,220.80 393.46,227.01 393.79,231.92 394.13,236.23 394.47,239.29 394.81,240.92 395.15,243.50 395.49,244.82 395.82,245.92 396.16,246.44 396.50,246.60 396.50,246.60" fill="#e46c0a"/>
<path d="M387.66 246.60V197.00M389.15 246.60V212.02M394.49 246.60V219.18M389.60 246.60V203.90M389.50 246.60V215.37M390.36 246.60V213.57M388.33 246.60V215.88M394.82 246.60V212.83" stroke="#e46c0a" stroke-width="0.6" stroke-opacity="0.5"/>
<path d="M393.36 246.60V233.03M388.95 246.60V230.74M387.72 246.60V226.68" stroke="#e46c0a" stroke-width="0.45" stroke-opacity="0.8"/>
<polygon points="400.00,246.60 400.00,238.95 400.50,238.74 401.00,239.42 401.50,242.27 402.00,242.95 402.50,243.07 403.00,237.48 403.50,238.87 404.00,237.35 404.50,243.21 405.00,239.63 405.50,240.70 406.00,239.50 406.50,241.99 407.00,238.72 407.50,243.63 408.00,241.72 408.50,241.34 409.00,241.28 409.50,242.49 410.00,243.25 410.50,243.79 411.00,244.46 411.50,245.92 412.00,246.60 412.00,246.60" fill="#e46c0a"/>
<polygon points="400.00,246.60 400.00,218.86 400.37,228.06 400.75,235.75 401.12,241.29 401.49,244.34 401.86,245.96 402.24,246.52 402.61,246.60 402.61,246.60" fill="#e46c0a"/>
<polygon points="402.62,246.60 402.62,215.28 402.96,227.33 403.30,236.04 403.64,240.88 403.98,244.25 404.32,245.92 404.66,246.51 405.00,246.60 405.00,246.60" fill="#e46c0a"/>
<polygon points="406.23,246.60 406.23,221.63 406.59,234.34 406.96,241.02 407.32,245.00 407.69,246.40 408.05,246.60 408.05,246.60" fill="#e46c0a"/>
<polygon points="408.78,246.60 408.78,228.86 409.14,232.04 409.50,236.56 409.85,239.49 410.21,241.24 410.57,243.44 410.93,244.98 411.28,245.89 411.64,246.46 412.00,246.60 412.00,246.60" fill="#e46c0a"/>
<path d="M400.60 246.60V176.00M408.90 246.60V198.31M409.72 246.60V214.29M401.50 246.60V197.99M409.24 246.60V200.84M407.85 246.60V195.03M402.36 246.60V202.34M406.91 246.60V206.81M403.48 246.60V189.35M410.84 246.60V214.22M407.82 246.60V206.05M403.41 246.60V190.86" stroke="#e46c0a" stroke-width="0.6" stroke-opacity="0.5"/>
<path d="M406.44 246.60V220.30M403.06 246.60V220.63M404.98 246.60V219.78M400.82 246.60V222.50M409.64 246.60V229.21M400.21 246.60V219.00M405.02 246.60V225.96M409.16 246.60V224.79" stroke="#e46c0a" stroke-width="0.45" stroke-opacity="0.8"/>
<polygon points="415.20,246.60 415.20,241.02 415.71,241.79 416.22,237.01 416.73,238.52 417.25,237.04 417.76,236.86 418.27,235.68 418.78,234.54 419.29,236.84 419.80,240.79 420.32,238.75 420.83,241.15 421.34,242.53 421.85,239.33 422.36,237.92 422.87,241.84 423.38,241.49 423.90,241.37 424.41,239.82 424.92,241.30 425.43,241.44 425.94,241.57 426.45,243.58 426.97,243.24 427.48,244.07 427.99,246.03 428.50,246.60 428.50,246.60" fill="#e46c0a"/>
<polygon points="415.20,246.60 415.20,221.51 415.54,229.32 415.88,235.22 416.22,240.55 416.56,243.40 416.90,245.18 417.24,246.19 417.58,246.55 417.92,246.60 417.92,246.60" fill="#e46c0a"/>
<polygon points="418.68,246.60 418.68,210.91 419.04,226.51 419.41,236.19 419.78,242.56 420.14,245.26 420.51,246.43 420.88,246.60 420.88,246.60" fill="#e46c0a"/>
<polygon points="421.89,246.60 421.89,216.67 422.23,226.71 422.58,235.05 422.93,240.21 423.28,243.13 423.63,245.11 423.97,246.14 424.32,246.55 424.67,246.60 424.67,246.60" fill="#e46c0a"/>
<polygon points="425.48,246.60 425.48,221.10 425.82,228.83 426.15,232.98 426.49,236.17 426.82,240.32 427.16,242.75 427.49,244.42 427.83,245.68 428.16,246.40 428.50,246.60 428.50,246.60" fill="#e46c0a"/>
<path d="M415.87 246.60V186.00M417.91 246.60V205.25M418.75 246.60V200.27M423.02 246.60V211.90M425.52 246.60V214.23M419.01 246.60V210.99M425.54 246.60V206.26M417.75 246.60V195.03M427.05 246.60V217.02M421.76 246.60V210.82M427.06 246.60V217.22M420.10 246.60V200.20M422.09 246.60V211.56M421.79 246.60V213.28M426.91 246.60V207.99M418.49 246.60V207.62M416.75 246.60V206.73M425.18 246.60V205.67" stroke="#e46c0a" stroke-width="0.6" stroke-opacity="0.5"/>
<path d="M426.81 246.60V231.51M422.21 246.60V226.23M422.61 246.60V229.93M423.65 246.60V229.84" stroke="#e46c0a" stroke-width="0.45" stroke-opacity="0.8"/>
<polygon points="432.20,246.60 432.20,236.94 432.71,238.46 433.23,239.66 433.74,235.61 434.25,232.70 434.77,240.27 435.28,234.16 435.79,241.33 436.31,239.76 436.82,239.51 437.33,235.37 437.85,238.81 438.36,238.64 438.87,236.48 439.39,241.10 439.90,236.03 440.41,241.26 440.93,238.43 441.44,240.71 441.95,241.37 442.47,239.44 442.98,240.50 443.49,241.33 444.01,241.62 444.52,241.64 445.03,243.80 445.55,244.13 446.06,243.58 446.57,244.51 447.09,245.62 447.60,246.60 447.60,246.60" fill="#e46c0a"/>
<polygon points="432.20,246.60 432.20,206.82 432.54,219.39 432.89,230.68 433.23,238.33 433.58,243.42 433.92,245.66 434.27,246.47 434.61,246.60 434.61,246.60" fill="#e46c0a"/>
<polygon points="435.74,246.60 435.74,218.49 436.07,226.21 436.41,234.70 436.74,239.90 437.07,242.73 437.41,245.07 437.74,246.12 438.08,246.55 438.41,246.60 438.41,246.60" fill="#e46c0a"/>
<polygon points="438.53,246.60 438.53,215.21 438.90,229.95 439.28,239.52 439.65,244.77 440.02,246.36 440.40,246.60 440.40,246.60" fill="#e46c0a"/>
<polygon points="441.44,246.60 441.44,218.43 441.80,228.75 442.15,236.39 442.51,240.90 442.86,244.21 443.22,245.89 443.57,246.52 443.92,246.60 443.92,246.60" fill="#e46c0a"/>
<polygon points="444.25,246.60 444.25,202.01 444.58,211.57 444.92,222.98 445.25,229.09 445.59,232.19 445.92,237.67 446.26,240.86 446.59,243.76 446.93,245.41 447.26,246.34 447.60,246.60 447.60,246.60" fill="#e46c0a"/>
<path d="M432.97 246.60V184.00M442.13 246.60V203.41M434.77 246.60V205.58M442.67 246.60V215.38M444.85 246.60V208.26M442.18 246.60V203.05M441.12 246.60V213.78M440.70 246.60V210.62M446.12 246.60V209.94M435.86 246.60V192.44M442.75 246.60V205.96M443.74 246.60V216.48M444.90 246.60V206.48M442.04 246.60V205.29M443.04 246.60V215.75M437.04 246.60V207.59M432.35 246.60V206.34M441.25 246.60V208.05M435.49 246.60V190.84M441.55 246.60V209.85M439.75 246.60V212.77M446.37 246.60V213.91" stroke="#e46c0a" stroke-width="0.6" stroke-opacity="0.5"/>
<path d="M434.96 246.60V222.94M439.46 246.60V228.94M442.44 246.60V229.46M441.64 246.60V223.71" stroke="#e46c0a" stroke-width="0.45" stroke-opacity="0.8"/>
<polygon points="451.10,246.60 451.10,236.58 451.61,236.09 452.13,234.32 452.64,242.07 453.15,237.29 453.66,236.32 454.18,240.22 454.69,239.09 455.20,241.92 455.72,240.81 456.23,239.46 456.74,241.68 457.25,240.59 457.77,235.78 458.28,238.61 458.79,239.10 459.31,236.10 459.82,239.13 460.33,236.63 460.85,239.28 461.36,238.63 461.87,243.17 462.38,240.70 462.90,240.39 463.41,244.07 463.92,240.95 464.44,244.28 464.95,243.83 465.46,245.09 465.97,245.08 466.49,245.73 467.00,246.60 467.00,246.60" fill="#e46c0a"/>
<polygon points="451.10,246.60 451.10,217.41 451.45,226.82 451.80,234.61 452.15,239.75 452.50,242.88 452.86,245.05 453.21,246.16 453.56,246.54 453.91,246.60 453.91,246.60" fill="#e46c0a"/>
<polygon points="453.82,246.60 453.82,224.29 454.17,232.36 454.53,239.72 454.89,243.46 455.24,245.69 455.60,246.50 455.96,246.60 455.96,246.60" fill="#e46c0a"/>
<polygon points="457.88,246.60 457.88,210.97 458.28,228.21 458.68,238.22 459.07,244.39 459.47,246.31 459.86,246.60 459.86,246.60" fill="#e46c0a"/>
<polygon points="460.85,246.60 460.85,207.60 461.19,222.85 461.53,233.93 461.86,239.54 462.20,243.70 462.53,245.78 462.87,246.50 463.21,246.60 463.21,246.60" fill="#e46c0a"/>
<polygon points="463.46,246.60 463.46,216.42 463.82,223.46 464.17,229.31 464.52,233.01 464.88,237.17 465.23,239.92 465.58,242.67 465.94,244.35 466.29,245.69 466.65,246.41 467.00,246.60 467.00,246.60" fill="#e46c0a"/>
<path d="M451.90 246.60V184.00M462.57 246.60V210.55M461.12 246.60V210.40M459.76 246.60V206.98M454.74 246.60V190.09M464.50 246.60V206.90M455.06 246.60V207.85M452.36 246.60V196.70M459.15 246.60V206.32M456.56 246.60V207.78M462.00 246.60V204.43M462.94 246.60V211.02M462.95 246.60V217.31M460.66 246.60V198.61M455.86 246.60V204.90M462.01 246.60V202.36M457.36 246.60V211.84M452.52 246.60V190.28M459.35 246.60V210.60M454.22 246.60V199.44M461.71 246.60V207.75M456.33 246.60V200.09M461.48 246.60V210.69M464.54 246.60V205.53M464.46 246.60V217.18" stroke="#e46c0a" stroke-width="0.6" stroke-opacity="0.5"/>
<path d="M456.35 246.60V222.00M462.12 246.60V227.43M451.68 246.60V224.22M460.22 246.60V228.01M459.02 246.60V227.96M454.18 246.60V218.81M452.19 246.60V223.01M462.35 246.60V227.13M457.31 246.60V222.94M452.25 246.60V223.97M461.12 246.60V224.67M462.44 246.60V229.78M452.30 246.60V218.46M455.24 246.60V224.24M456.46 246.60V225.54M462.85 246.60V225.75" stroke="#e46c0a" stroke-width="0.45" stroke-opacity="0.8"/>
<polygon points="469.00,246.60 469.00,237.79 469.51,236.94 470.01,231.44 470.52,231.85 471.02,238.51 471.53,237.36 472.03,237.34 472.54,237.39 473.05,237.10 473.55,237.23 474.06,239.22 474.56,235.60 475.07,233.40 475.57,236.06 476.08,233.35 476.59,236.15 477.09,239.94 477.60,234.77 478.10,233.97 478.61,239.51 479.11,241.90 479.62,238.09 480.13,238.22 480.63,238.44 481.14,236.10 481.64,238.82 482.15,238.44 482.65,243.24 483.16,241.15 483.67,240.71 484.17,244.23 484.68,244.65 485.18,243.50 485.69,244.20 486.19,246.07 486.70,246.60 486.70,246.60" fill="#e46c0a"/>
<polygon points="469.00,246.60 469.00,202.60 469.38,222.76 469.76,234.45 470.14,241.00 470.52,245.00 470.90,246.39 471.28,246.60 471.28,246.60" fill="#e46c0a"/>
<polygon points="472.37,246.60 472.37,205.02 472.72,217.19 473.07,226.32 473.42,233.85 473.77,238.98 474.12,243.00 474.47,244.98 474.82,246.13 475.17,246.54 475.52,246.60 475.52,246.60" fill="#e46c0a"/>
<polygon points="476.43,246.60 476.43,198.69 476.78,213.57 477.12,223.81 477.46,232.04 477.80,238.67 478.14,242.54 478.48,244.96 478.82,246.07 479.16,246.53 479.50,246.60 479.50,246.60" fill="#e46c0a"/>
<polygon points="479.27,246.60 479.27,210.76 479.60,221.47 479.94,234.05 480.27,239.89 480.60,243.86 480.94,245.71 481.27,246.49 481.61,246.60 481.61,246.60" fill="#e46c0a"/>
<polygon points="482.70,246.60 482.70,208.38 483.03,213.40 483.36,223.25 483.70,227.85 484.03,231.94 484.36,235.61 484.70,238.75 485.03,240.91 485.37,243.19 485.70,244.89 486.03,245.91 486.37,246.45 486.70,246.60 486.70,246.60" fill="#e46c0a"/>
<path d="M469.88 246.60V184.00M477.93 246.60V201.10M483.45 246.60V205.48M474.57 246.60V205.21M484.58 246.60V216.82M484.43 246.60V209.33M475.27 246.60V206.51M485.13 246.60V213.40M476.70 246.60V212.41M481.97 246.60V208.58M473.22 246.60V193.78M477.40 246.60V205.55M482.38 246.60V205.77M473.40 246.60V198.75M470.58 246.60V203.42M476.63 246.60V195.55M478.55 246.60V200.76M473.94 246.60V197.13M475.79 246.60V195.58M470.48 246.60V191.78M472.39 246.60V203.14M473.98 246.60V207.08M480.65 246.60V216.20M475.42 246.60V208.61M484.75 246.60V209.06M475.14 246.60V200.93M472.87 246.60V202.96M485.15 246.60V210.23M472.37 246.60V200.79M473.73 246.60V209.66" stroke="#e46c0a" stroke-width="0.6" stroke-opacity="0.5"/>
<path d="M476.81 246.60V223.42M472.60 246.60V225.92M477.40 246.60V223.48M472.87 246.60V226.97M478.87 246.60V226.75M471.56 246.60V218.78M485.17 246.60V228.33M477.71 246.60V226.26M481.54 246.60V231.14M482.39 246.60V230.04M477.56 246.60V226.04M482.55 246.60V225.93M474.06 246.60V226.02M480.19 246.60V228.48M479.65 246.60V230.06M476.46 246.60V228.63" stroke="#e46c0a" stroke-width="0.45" stroke-opacity="0.8"/>
<polygon points="489.00,246.60 489.00,233.96 489.51,236.79 490.01,236.33 490.52,235.69 491.02,232.49 491.53,237.30 492.03,237.98 492.54,231.81 493.04,236.53 493.55,229.45 494.05,233.94 494.56,232.19 495.06,236.75 495.57,231.28 496.08,239.60 496.58,239.17 497.09,239.78 497.59,233.72 498.10,233.66 498.60,239.32 499.11,237.31 499.61,233.42 500.12,236.12 500.62,241.00 501.13,240.08 501.64,240.96 502.14,241.53 502.65,239.82 503.15,242.54 503.66,237.73 504.16,241.31 504.67,241.53 505.17,241.69 505.68,242.15 506.18,243.03 506.69,244.94 507.19,245.80 507.70,246.60 507.70,246.60" fill="#e46c0a"/>
<polygon points="489.00,246.60 489.00,203.52 489.38,220.56 489.75,233.65 490.13,241.25 490.51,245.03 490.88,246.42 491.26,246.60 491.26,246.60" fill="#e46c0a"/>
<polygon points="492.56,246.60 492.56,211.72 492.93,222.72 493.31,230.88 493.68,237.45 494.05,242.07 494.42,244.83 494.79,246.02 495.17,246.53 495.54,246.60 495.54,246.60" fill="#e46c0a"/>
<polygon points="496.31,246.60 496.31,209.01 496.67,220.34 497.02,231.23 497.37,237.42 497.72,241.81 498.07,244.78 498.42,245.99 498.77,246.53 499.12,246.60 499.12,246.60" fill="#e46c0a"/>
<polygon points="499.75,246.60 499.75,199.75 500.11,218.80 500.47,228.90 500.83,238.32 501.19,243.05 501.55,245.61 501.91,246.46 502.27,246.60 502.27,246.60" fill="#e46c0a"/>
<polygon points="504.41,246.60 504.41,201.45 504.78,211.76 505.14,221.86 505.51,227.06 505.87,233.35 506.24,238.70 506.60,242.55 506.97,245.07 507.33,246.23 507.70,246.60 507.70,246.60" fill="#e46c0a"/>
<path d="M489.94 246.60V187.00M498.87 246.60V203.40M492.19 246.60V204.73M492.10 246.60V191.16M505.16 246.60V214.11M494.29 246.60V203.03M501.69 246.60V217.42M499.18 246.60V204.45M495.65 246.60V207.26M491.99 246.60V205.41M493.54 246.60V205.35M494.71 246.60V204.31M489.65 246.60V198.43M491.49 246.60V191.29M499.32 246.60V213.24M496.08 246.60V206.14M500.86 246.60V207.40M501.93 246.60V215.10M506.11 246.60V211.20M503.71 246.60V218.41M496.47 246.60V208.12M504.57 246.60V216.50M498.03 246.60V213.14M489.94 246.60V196.96M504.49 246.60V211.79M499.28 246.60V205.90M494.24 246.60V205.26M496.69 246.60V210.08M500.96 246.60V213.25M490.18 246.60V191.27M505.63 246.60V214.41M503.91 246.60V218.29M501.84 246.60V213.06M498.25 246.60V199.52M490.08 246.60V191.67" stroke="#e46c0a" stroke-width="0.6" stroke-opacity="0.5"/>
<path d="M490.31 246.60V226.26M489.28 246.60V221.72M497.05 246.60V226.84M504.56 246.60V227.46M490.20 246.60V223.99M495.83 246.60V228.18M493.11 246.60V221.27M495.80 246.60V224.27M502.85 246.60V228.24M504.54 246.60V231.19M502.63 246.60V229.86M489.01 246.60V220.49M494.15 246.60V221.44" stroke="#e46c0a" stroke-width="0.45" stroke-opacity="0.8"/>
<polygon points="509.80,246.60 509.80,230.20 510.31,235.26 510.81,235.76 511.32,232.99 511.82,239.53 512.33,239.72 512.83,229.27 513.34,236.42 513.84,234.18 514.35,229.04 514.86,228.63 515.36,234.70 515.87,237.91 516.37,236.97 516.88,229.94 517.38,230.47 517.89,238.49 518.39,231.68 518.90,237.14 519.41,236.15 519.91,239.47 520.42,232.83 520.92,232.26 521.43,239.97 521.93,236.62 522.44,240.72 522.94,235.89 523.45,242.48 523.96,242.46 524.46,239.29 524.97,242.25 525.47,240.30 525.98,241.52 526.48,243.12 526.99,245.31 527.49,245.39 528.00,246.60 528.00,246.60" fill="#e46c0a"/>
<polygon points="509.80,246.60 509.80,212.04 510.13,223.12 510.47,230.81 510.80,238.20 511.14,242.31 511.47,244.77 511.80,246.02 512.14,246.53 512.47,246.60 512.47,246.60" fill="#e46c0a"/>
<polygon points="513.62,246.60 513.62,201.48 513.97,214.52 514.32,222.86 514.67,232.24 515.02,238.80 515.37,242.36 515.72,244.97 516.07,246.04 516.42,246.54 516.77,246.60 516.77,246.60" fill="#e46c0a"/>
<polygon points="517.11,246.60 517.11,200.85 517.49,220.27 517.86,231.86 518.23,241.07 518.60,244.91 518.97,246.37 519.35,246.60 519.35,246.60" fill="#e46c0a"/>
<polygon points="520.48,246.60 520.48,205.62 520.83,218.77 521.17,231.59 521.52,237.26 521.87,241.59 522.22,244.61 522.57,245.96 522.91,246.52 523.26,246.60 523.26,246.60" fill="#e46c0a"/>
<polygon points="524.42,246.60 524.42,199.32 524.78,207.24 525.14,215.63 525.49,224.46 525.85,230.86 526.21,235.48 526.57,239.96 526.93,243.17 527.28,245.09 527.64,246.31 528.00,246.60 528.00,246.60" fill="#e46c0a"/>
<path d="M510.71 246.60V185.00M513.74 246.60V199.56M522.74 246.60V204.54M519.51 246.60V204.89M510.39 246.60V193.12M521.77 246.60V206.33M518.11 246.60V204.33M524.99 246.60V210.00M518.90 246.60V199.83M515.06 246.60V198.01M521.36 246.60V202.26M516.68 246.60V203.91M513.42 246.60V190.17M510.51 246.60V195.20M522.55 246.60V201.60M512.22 246.60V197.67M513.83 246.60V192.05M512.17 246.60V198.71M514.79 246.60V200.95M526.48 246.60V209.33M514.04 246.60V198.01M513.85 246.60V199.32M525.41 246.60V213.02M515.44 246.60V192.57M516.55 246.60V199.25M521.43 246.60V201.87M519.69 246.60V199.40M517.55 246.60V204.38M523.92 246.60V211.24M517.29 246.60V194.74M521.17 246.60V201.58" stroke="#e46c0a" stroke-width="0.6" stroke-opacity="0.5"/>
<path d="M523.05 246.60V220.85M517.99 246.60V217.25M524.42 246.60V222.41M512.34 246.60V215.74M517.20 246.60V216.18M523.17 246.60V222.57M513.78 246.60V215.10M515.01 246.60V217.26M518.60 246.60V217.21M519.66 246.60V219.95M523.54 246.60V221.85M514.07 246.60V215.13M522.97 246.60V222.55M522.27 246.60V222.29M511.08 246.60V214.66M522.09 246.60V220.20M520.03 246.60V220.74M510.78 246.60V210.26M522.88 246.60V220.94M515.62 246.60V215.96M519.00 246.60V218.65M513.21 246.60V213.80M517.63 246.60V215.98" stroke="#e46c0a" stroke-width="0.45" stroke-opacity="0.8"/>
<polygon points="529.90,246.60 529.90,238.27 530.40,236.27 530.91,239.75 531.41,232.83 531.91,236.51 532.41,237.51 532.92,240.38 533.42,238.58 533.92,237.72 534.42,236.31 534.93,230.54 535.43,232.92 535.93,237.86 536.44,236.96 536.94,239.27 537.44,231.17 537.94,237.35 538.45,233.40 538.95,234.09 539.45,232.59 539.95,241.33 540.46,238.72 540.96,238.43 541.46,241.31 541.96,235.02 542.47,239.91 542.97,237.02 543.47,239.35 543.98,242.83 544.48,241.18 544.98,242.54 545.48,243.93 545.99,243.87 546.49,242.91 546.99,245.17 547.49,245.14 548.00,245.75 548.50,246.60 548.50,246.60" fill="#e46c0a"/>
<polygon points="529.90,246.60 529.90,202.41 530.24,216.59 530.58,229.39 530.92,238.51 531.26,243.15 531.60,245.57 531.94,246.46 532.28,246.60 532.28,246.60" fill="#e46c0a"/>
<polygon points="533.49,246.60 533.49,211.43 533.85,221.68 534.20,230.26 534.56,236.62 534.91,240.84 535.27,243.34 535.63,245.24 535.98,246.18 536.34,246.55 536.69,246.60 536.69,246.60" fill="#e46c0a"/>
<polygon points="537.53,246.60 537.53,209.29 537.89,220.49 538.25,228.31 538.62,235.23 538.98,240.66 539.34,243.35 539.70,245.35 540.06,246.21 540.43,246.55 540.79,246.60 540.79,246.60" fill="#e46c0a"/>
<polygon points="540.93,246.60 540.93,206.29 541.30,221.73 541.67,231.61 542.04,238.83 542.41,243.49 542.79,245.60 543.16,246.48 543.53,246.60 543.53,246.60" fill="#e46c0a"/>
<polygon points="544.60,246.60 544.60,208.57 544.96,213.48 545.31,219.83 545.67,226.42 546.02,231.20 546.37,236.80 546.73,239.61 547.08,242.34 547.44,244.45 547.79,245.67 548.15,246.41 548.50,246.60 548.50,246.60" fill="#e46c0a"/>
<path d="M530.83 246.60V184.00M545.16 246.60V209.15M534.38 246.60V195.40M533.08 246.60V197.39M540.43 246.60V198.15M536.11 246.60V198.89M546.03 246.60V207.52M540.64 246.60V203.30M536.93 246.60V202.40M534.63 246.60V192.94M544.95 246.60V211.31M532.22 246.60V195.79M535.18 246.60V201.48M529.92 246.60V192.58M538.35 246.60V200.25M539.28 246.60V201.71M539.50 246.60V198.84M535.83 246.60V193.47M535.26 246.60V195.62M541.80 246.60V203.69M546.39 246.60V207.30M532.63 246.60V194.20M538.30 246.60V201.54M542.72 246.60V206.87M531.65 246.60V191.59M531.83 246.60V196.36M543.11 246.60V208.03M532.68 246.60V189.93M534.24 246.60V197.99M543.53 246.60V209.68M535.61 246.60V195.31M544.32 246.60V204.73M539.61 246.60V205.15M542.00 246.60V204.82M544.12 246.60V204.85M532.04 246.60V197.93M539.92 246.60V197.71" stroke="#e46c0a" stroke-width="0.6" stroke-opacity="0.5"/>
<path d="M535.47 246.60V214.32M530.30 246.60V209.16M545.47 246.60V223.83M546.62 246.60V223.58M533.19 246.60V212.95M541.54 246.60V219.04M536.64 246.60V215.36M546.48 246.60V221.77M536.22 246.60V214.48M533.96 246.60V213.24M535.46 246.60V215.25M538.69 246.60V218.19M530.98 246.60V213.52M544.78 246.60V223.22M542.15 246.60V219.31M542.15 246.60V218.52M541.35 246.60V218.94M533.06 246.60V215.68" stroke="#e46c0a" stroke-width="0.45" stroke-opacity="0.8"/>
<polygon points="549.70,246.60 549.70,230.16 550.21,239.28 550.71,233.25 551.22,236.17 551.73,233.88 552.23,236.45 552.74,230.67 553.24,230.14 553.75,240.30 554.26,233.27 554.76,239.66 555.27,240.53 555.77,238.09 556.28,233.70 556.79,231.31 557.29,240.16 557.80,238.32 558.31,241.37 558.81,236.92 559.32,237.80 559.83,239.09 560.33,239.98 560.84,236.75 561.34,237.17 561.85,241.42 562.36,241.30 562.86,240.76 563.37,240.93 563.88,241.14 564.38,244.02 564.89,244.24 565.39,245.53 565.90,246.60 565.90,246.60" fill="#e46c0a"/>
<polygon points="549.70,246.60 549.70,214.39 550.05,225.29 550.40,236.82 550.74,242.31 551.09,245.40 551.44,246.45 551.79,246.60 551.79,246.60" fill="#e46c0a"/>
<polygon points="553.00,246.60 553.00,205.06 553.35,222.75 553.70,233.86 554.05,241.33 554.39,245.07 554.74,246.41 555.09,246.60 555.09,246.60" fill="#e46c0a"/>
<polygon points="556.56,246.60 556.56,215.75 556.94,227.83 557.31,236.19 557.68,242.73 558.06,245.32 558.43,246.45 558.81,246.60 558.81,246.60" fill="#e46c0a"/>
<polygon points="559.72,246.60 559.72,214.21 560.11,227.54 560.49,236.89 560.88,242.73 561.27,245.33 561.66,246.44 562.05,246.60 562.05,246.60" fill="#e46c0a"/>
<polygon points="562.60,246.60 562.60,197.72 562.97,212.12 563.34,221.55 563.70,228.31 564.07,234.46 564.44,239.23 564.80,242.49 565.17,244.81 565.53,246.24 565.90,246.60 565.90,246.60" fill="#e46c0a"/>
<path d="M550.51 246.60V180.00M557.56 246.60V195.38M561.51 246.60V202.29M555.65 246.60V192.69M562.04 246.60V202.59M563.86 246.60V210.12M555.49 246.60V199.94M559.49 246.60V198.23M555.14 246.60V194.81M560.78 246.60V204.03M554.92 246.60V198.15M549.84 246.60V190.13M557.71 246.60V193.29M552.75 246.60V186.99M554.48 246.60V191.84M551.31 246.60V182.77M556.11 246.60V190.66M552.97 246.60V196.03M553.77 246.60V192.20M552.43 246.60V196.29M559.16 246.60V204.46M558.88 246.60V196.13M562.46 246.60V205.16M557.22 246.60V198.88M551.40 246.60V185.78M559.98 246.60V204.37M559.62 246.60V204.41M558.65 246.60V200.74M559.05 246.60V203.25M558.54 246.60V200.25" stroke="#e46c0a" stroke-width="0.6" stroke-opacity="0.5"/>
<path d="M564.00 246.60V223.26M564.39 246.60V222.71M560.21 246.60V217.44M563.26 246.60V222.53M558.30 246.60V215.98M554.98 246.60V212.30M563.19 246.60V219.42M551.10 246.60V207.94M560.75 246.60V218.37M559.84 246.60V217.94M551.28 246.60V210.87M555.71 246.60V212.43M560.22 246.60V218.27M563.82 246.60V220.01M564.45 246.60V222.29M559.30 246.60V217.05M555.43 246.60V213.36M557.38 246.60V217.54" stroke="#e46c0a" stroke-width="0.45" stroke-opacity="0.8"/>
<polygon points="567.10,246.60 567.10,226.80 567.61,237.30 568.11,233.04 568.62,226.00 569.13,229.46 569.64,235.21 570.14,229.61 570.65,226.38 571.16,234.26 571.67,228.37 572.17,238.10 572.68,227.41 573.19,233.95 573.70,237.36 574.20,230.62 574.71,233.35 575.22,230.86 575.73,232.78 576.23,233.94 576.74,237.39 577.25,234.35 577.76,242.30 578.26,237.89 578.77,240.17 579.28,243.44 579.79,242.86 580.29,245.17 580.80,246.60 580.80,246.60" fill="#e46c0a"/>
<polygon points="567.10,246.60 567.10,205.11 567.47,205.96 567.84,212.90 568.20,213.86 568.57,216.89 568.94,222.75 569.31,228.66 569.68,233.64 570.04,246.60 570.04,246.60" fill="#e46c0a"/>
<polygon points="570.80,246.60 570.80,185.87 571.18,196.76 571.55,200.28 571.93,207.87 572.30,214.37 572.67,219.96 573.05,227.51 573.42,246.60 573.42,246.60" fill="#e46c0a"/>
<polygon points="573.56,246.60 573.56,196.26 573.93,203.08 574.30,206.81 574.68,217.35 575.05,220.01 575.42,231.11 575.80,246.60 575.80,246.60" fill="#e46c0a"/>
<polygon points="577.76,246.60 577.76,193.57 578.10,195.68 578.44,203.71 578.77,212.35 579.11,216.43 579.45,222.56 579.79,227.62 580.12,234.65 580.46,240.30 580.80,246.60 580.80,246.60" fill="#e46c0a"/>
<path d="M567.78 246.60V177.00M575.84 246.60V202.34M578.96 246.60V205.38M579.64 246.60V205.43M576.38 246.60V204.85M571.01 246.60V195.57M568.94 246.60V187.87M572.45 246.60V190.54M572.25 246.60V196.68M573.48 246.60V190.34M571.47 246.60V190.88M570.06 246.60V190.79M570.69 246.60V186.33M570.71 246.60V186.71M575.63 246.60V202.17M578.87 246.60V208.35M576.47 246.60V201.27M572.66 246.60V188.54M570.79 246.60V189.85M577.44 246.60V199.22M574.55 246.60V198.91M568.35 246.60V181.51M568.21 246.60V192.03M571.82 246.60V191.15M578.42 246.60V199.59M567.39 246.60V185.17M573.01 246.60V199.57M575.56 246.60V199.64M579.33 246.60V200.96M579.61 246.60V209.42M577.54 246.60V202.38" stroke="#e46c0a" stroke-width="0.6" stroke-opacity="0.5"/>
<path d="M568.73 246.60V209.98M571.61 246.60V211.95M572.75 246.60V214.95M572.38 246.60V211.66M575.57 246.60V215.72M572.29 246.60V213.55M578.39 246.60V218.80M572.40 246.60V210.88M575.53 246.60V214.49M572.96 246.60V211.86" stroke="#e46c0a" stroke-width="0.45" stroke-opacity="0.8"/>
<polygon points="582.00,246.60 582.00,231.90 582.52,228.39 583.03,239.43 583.55,234.76 584.07,235.51 584.58,232.57 585.10,237.77 585.62,228.93 586.13,238.06 586.65,236.40 587.17,239.11 587.68,236.60 588.20,233.32 588.72,240.40 589.23,239.90 589.75,235.96 590.27,236.91 590.78,236.81 591.30,241.17 591.82,238.54 592.33,240.26 592.85,241.46 593.37,244.81 593.88,245.17 594.40,246.60 594.40,246.60" fill="#e46c0a"/>
<polygon points="582.00,246.60 582.00,189.49 582.38,215.41 582.76,227.52 583.14,236.53 583.52,242.35 583.90,245.43 584.28,246.44 584.66,246.60 584.66,246.60" fill="#e46c0a"/>
<polygon points="585.11,246.60 585.11,203.62 585.50,224.75 585.90,236.70 586.29,243.77 586.69,246.22 587.08,246.60 587.08,246.60" fill="#e46c0a"/>
<polygon points="588.12,246.60 588.12,208.57 588.50,226.79 588.88,238.37 589.27,244.01 589.65,246.31 590.03,246.60 590.03,246.60" fill="#e46c0a"/>
<polygon points="590.98,246.60 590.98,192.17 591.32,204.26 591.66,212.82 592.01,220.41 592.35,227.66 592.69,234.97 593.03,239.95 593.37,242.98 593.72,244.95 594.06,246.24 594.40,246.60 594.40,246.60" fill="#e46c0a"/>
<path d="M582.62 246.60V179.00M585.43 246.60V186.73M589.34 246.60V196.61M582.53 246.60V191.74M583.27 246.60V183.23M585.75 246.60V195.95M589.46 246.60V196.25M592.80 246.60V207.25M587.71 246.60V192.46M586.20 246.60V197.79M587.44 246.60V201.12M586.91 246.60V198.64M582.57 246.60V183.45M582.70 246.60V189.83M588.25 246.60V201.80M590.55 246.60V204.40M582.10 246.60V191.21M588.77 246.60V193.67M586.17 246.60V194.76M588.95 246.60V199.96M585.60 246.60V195.52M587.89 246.60V195.30M591.08 246.60V206.23M591.81 246.60V207.82M585.26 246.60V191.60M582.97 246.60V181.33" stroke="#e46c0a" stroke-width="0.6" stroke-opacity="0.5"/>
<path d="M582.33 246.60V209.80M582.89 246.60V208.22M586.50 246.60V212.09M590.43 246.60V217.38M584.54 246.60V212.48M586.24 246.60V211.57M587.52 246.60V214.21M593.02 246.60V223.04M586.21 246.60V211.70M582.61 246.60V210.38M584.87 246.60V210.49" stroke="#e46c0a" stroke-width="0.45" stroke-opacity="0.8"/>
<polygon points="595.00,246.60 595.00,233.56 595.56,238.42 596.12,238.98 596.68,236.47 597.24,240.44 597.80,246.60 597.80,246.60" fill="#e46c0a"/>
<polygon points="595.00,246.60 595.00,217.36 595.35,227.23 595.70,231.41 596.05,236.54 596.40,240.07 596.75,243.29 597.10,245.37 597.45,246.29 597.80,246.60 597.80,246.60" fill="#e46c0a"/>
<path d="M595.14 246.60V190.00M596.90 246.60V211.93M596.75 246.60V203.67M597.01 246.60V212.38M596.94 246.60V212.67M596.15 246.60V206.93" stroke="#e46c0a" stroke-width="0.6" stroke-opacity="0.5"/>
<path d="M597.36 246.60V225.77M595.30 246.60V214.21" stroke="#e46c0a" stroke-width="0.45" stroke-opacity="0.8"/>
<polygon points="598.70,246.60 598.70,228.53 599.21,237.95 599.72,237.37 600.23,227.51 600.74,230.32 601.25,232.62 601.75,238.85 602.26,239.68 602.77,239.19 603.28,237.02 603.79,242.72 604.30,246.60 604.30,246.60" fill="#e46c0a"/>
<polygon points="598.70,246.60 598.70,195.42 599.07,199.65 599.44,211.44 599.81,215.46 600.19,227.32 600.56,246.60 600.56,246.60" fill="#e46c0a"/>
<polygon points="601.44,246.60 601.44,195.25 601.80,199.87 602.16,209.19 602.51,214.43 602.87,222.08 603.23,227.03 603.59,234.91 603.94,240.11 604.30,246.60 604.30,246.60" fill="#e46c0a"/>
<path d="M598.98 246.60V177.00M600.50 246.60V193.01M601.38 246.60V200.11M601.66 246.60V193.62M600.55 246.60V193.33M601.18 246.60V189.04M600.39 246.60V190.58M602.46 246.60V201.40M602.95 246.60V206.34M602.39 246.60V203.33M601.88 246.60V199.25M603.73 246.60V202.01M601.05 246.60V197.11" stroke="#e46c0a" stroke-width="0.6" stroke-opacity="0.5"/>
<path d="M600.48 246.60V212.23M599.90 246.60V209.29M600.02 246.60V212.43" stroke="#e46c0a" stroke-width="0.45" stroke-opacity="0.8"/>
<polygon points="605.50,246.60 605.50,234.47 606.00,226.26 606.50,236.53 607.00,233.39 607.50,225.18 608.00,237.90 608.50,228.36 609.00,230.94 609.50,232.03 610.00,235.83 610.50,238.95 611.00,232.39 611.50,236.58 612.00,239.21 612.50,244.73 613.00,246.60 613.00,246.60" fill="#e46c0a"/>
<polygon points="605.50,246.60 605.50,195.89 605.86,199.81 606.21,207.92 606.57,209.01 606.93,215.86 607.28,221.28 607.64,229.83 608.00,246.60 608.00,246.60" fill="#e46c0a"/>
<polygon points="609.10,246.60 609.10,186.60 609.45,195.71 609.81,196.44 610.16,202.91 610.52,211.13 610.87,216.28 611.23,222.31 611.58,225.40 611.94,231.43 612.29,236.42 612.65,241.54 613.00,246.60 613.00,246.60" fill="#e46c0a"/>
<path d="M605.88 246.60V177.00M609.01 246.60V191.57M606.60 246.60V183.67M611.40 246.60V203.54M609.25 246.60V194.75M609.19 246.60V195.79M611.84 246.60V202.58M611.96 246.60V208.76M608.62 246.60V199.09M610.53 246.60V195.64M608.99 246.60V196.78M611.99 246.60V204.71M606.00 246.60V180.75M606.20 246.60V188.23M606.33 246.60V180.14M607.63 246.60V186.92M605.92 246.60V185.31" stroke="#e46c0a" stroke-width="0.6" stroke-opacity="0.5"/>
<path d="M607.47 246.60V209.79M607.29 246.60V212.61M610.93 246.60V217.48M607.91 246.60V211.33M612.05 246.60V221.06" stroke="#e46c0a" stroke-width="0.45" stroke-opacity="0.8"/>
<polygon points="614.20,246.60 614.20,237.99 614.73,238.54 615.26,230.91 615.79,225.27 616.32,229.74 616.85,227.94 617.38,229.66 617.92,233.91 618.45,239.90 618.98,236.49 619.51,241.01 620.04,240.64 620.57,243.89 621.10,246.60 621.10,246.60" fill="#e46c0a"/>
<polygon points="614.20,246.60 614.20,193.54 614.58,198.50 614.96,207.31 615.34,211.19 615.72,218.52 616.10,226.84 616.47,246.60 616.47,246.60" fill="#e46c0a"/>
<polygon points="617.27,246.60 617.27,199.89 617.62,201.55 617.97,204.55 618.32,209.01 618.66,213.84 619.01,218.62 619.36,223.52 619.71,227.92 620.06,234.53 620.40,237.89 620.75,242.17 621.10,246.60 621.10,246.60" fill="#e46c0a"/>
<path d="M614.55 246.60V182.00M617.50 246.60V194.38M619.72 246.60V202.23M619.47 246.60V205.04M617.50 246.60V200.41M619.01 246.60V201.86M619.24 246.60V200.30M619.49 246.60V208.97M614.29 246.60V186.77M615.86 246.60V195.22M618.48 246.60V205.33M615.69 246.60V189.40M615.81 246.60V196.93" stroke="#e46c0a" stroke-width="0.6" stroke-opacity="0.5"/>
<path d="M620.12 246.60V222.92M614.40 246.60V211.46M614.35 246.60V212.51M614.20 246.60V211.71M616.33 246.60V212.22M617.54 246.60V214.95M615.32 246.60V212.72" stroke="#e46c0a" stroke-width="0.45" stroke-opacity="0.8"/>
<polygon points="622.30,246.60 622.30,234.36 622.80,238.55 623.30,239.49 623.80,235.97 624.30,239.86 624.80,238.46 625.30,241.43 625.80,239.66 626.30,244.61 626.80,246.60 626.80,246.60" fill="#e46c0a"/>
<polygon points="622.30,246.60 622.30,216.16 622.65,219.38 622.99,224.31 623.34,228.19 623.68,232.57 624.03,236.58 624.38,238.24 624.72,241.12 625.07,242.95 625.42,244.29 625.76,245.26 626.11,246.10 626.45,246.49 626.80,246.60 626.80,246.60" fill="#e46c0a"/>
<path d="M622.52 246.60V197.00M622.86 246.60V204.82M625.57 246.60V222.97M623.49 246.60V211.96M625.37 246.60V220.46M624.37 246.60V219.61M622.57 246.60V200.41M625.94 246.60V212.99" stroke="#e46c0a" stroke-width="0.6" stroke-opacity="0.5"/>
<path d="M625.54 246.60V229.42M625.69 246.60V234.45M622.89 246.60V226.71" stroke="#e46c0a" stroke-width="0.45" stroke-opacity="0.8"/>
<polygon points="627.90,246.60 627.90,234.91 628.44,239.61 628.98,235.09 629.51,241.47 630.05,237.88 630.59,237.68 631.12,243.24 631.66,244.83 632.20,246.60 632.20,246.60" fill="#e46c0a"/>
<polygon points="627.90,246.60 627.90,212.42 628.26,217.39 628.62,224.69 628.98,229.46 629.33,233.92 629.69,236.90 630.05,238.91 630.41,242.13 630.77,243.81 631.12,245.08 631.48,246.01 631.84,246.47 632.20,246.60 632.20,246.60" fill="#e46c0a"/>
<path d="M628.12 246.60V207.00M630.04 246.60V222.12M630.92 246.60V225.12M629.12 246.60V215.94M631.56 246.60V227.12M631.04 246.60V218.42M629.72 246.60V220.63" stroke="#e46c0a" stroke-width="0.6" stroke-opacity="0.5"/>
<path d="M631.65 246.60V236.78M628.78 246.60V233.12M628.53 246.60V228.89M630.15 246.60V232.04" stroke="#e46c0a" stroke-width="0.45" stroke-opacity="0.8"/>
<polygon points="632.20,246.60 632.20,236.88 632.71,239.57 633.23,241.56 633.74,236.74 634.25,237.29 634.76,243.61 635.27,241.32 635.79,244.42 636.30,246.60 636.30,246.60" fill="#e46c0a"/>
<polygon points="632.20,246.60 632.20,225.75 632.54,227.72 632.88,232.55 633.23,235.82 633.57,237.99 633.91,239.55 634.25,241.81 634.59,243.31 634.93,244.65 635.27,245.61 635.62,246.21 635.96,246.51 636.30,246.60 636.30,246.60" fill="#e46c0a"/>
<path d="M632.41 246.60V202.00M633.59 246.60V219.02M633.55 246.60V210.06M634.39 246.60V222.46M634.24 246.60V221.17M633.45 246.60V209.06M633.08 246.60V207.09M635.42 246.60V217.35M632.81 246.60V215.90" stroke="#e46c0a" stroke-width="0.6" stroke-opacity="0.5"/>
<path d="M634.55 246.60V230.27" stroke="#e46c0a" stroke-width="0.45" stroke-opacity="0.8"/>
<polygon points="637.20,246.60 637.20,238.36 637.75,242.15 638.30,242.91 638.85,240.63 639.40,243.66 639.95,244.04 640.50,246.60 640.50,246.60" fill="#e46c0a"/>
<polygon points="637.20,246.60 637.20,230.05 637.57,234.23 637.93,236.43 638.30,239.75 638.67,241.85 639.03,243.72 639.40,244.97 639.77,245.97 640.13,246.47 640.50,246.60 640.50,246.60" fill="#e46c0a"/>
<path d="M637.37 246.60V226.00M638.94 246.60V233.47M638.71 246.60V234.44M639.15 246.60V230.89M638.05 246.60V233.71M637.46 246.60V228.81M637.91 246.60V229.47" stroke="#e46c0a" stroke-width="0.6" stroke-opacity="0.5"/>
<path d="M638.60 246.60V240.13" stroke="#e46c0a" stroke-width="0.45" stroke-opacity="0.8"/>
<polygon points="641.00,246.60 641.00,238.40 641.54,241.75 642.09,237.96 642.63,240.71 643.17,241.79 643.71,242.33 644.26,243.23 644.80,246.60 644.80,246.60" fill="#e46c0a"/>
<polygon points="641.00,246.60 641.00,225.21 641.35,227.65 641.69,232.35 642.04,235.89 642.38,238.81 642.73,241.03 643.07,242.48 643.42,244.09 643.76,245.23 644.11,246.04 644.45,246.48 644.80,246.60 644.80,246.60" fill="#e46c0a"/>
<path d="M641.19 246.60V220.00M641.85 246.60V223.35M641.08 246.60V227.30M642.20 246.60V225.88M643.13 246.60V226.71M644.26 246.60V232.19M641.23 246.60V225.36" stroke="#e46c0a" stroke-width="0.6" stroke-opacity="0.5"/>
<path d="M643.80 246.60V238.75M643.85 246.60V237.80" stroke="#e46c0a" stroke-width="0.45" stroke-opacity="0.8"/>
<polygon points="646.50,246.60 646.50,243.47 647.05,239.28 647.60,240.03 648.15,243.01 648.70,244.13 649.25,244.09 649.80,246.60 649.80,246.60" fill="#e46c0a"/>
<polygon points="646.50,246.60 646.50,224.01 646.87,230.55 647.23,233.39 647.60,238.17 647.97,240.16 648.33,242.72 648.70,244.53 649.07,245.74 649.43,246.42 649.80,246.60 649.80,246.60" fill="#e46c0a"/>
<path d="M646.66 246.60V220.00M647.67 246.60V231.77M648.48 246.60V228.62M648.61 246.60V231.83M647.07 246.60V226.56" stroke="#e46c0a" stroke-width="0.6" stroke-opacity="0.5"/>
<path d="M646.57 246.60V235.94M648.92 246.60V238.31M647.46 246.60V235.95" stroke="#e46c0a" stroke-width="0.45" stroke-opacity="0.8"/>
<polygon points="651.50,246.60 651.50,242.75 652.00,241.94 652.50,243.87 653.00,242.02 653.50,242.11 654.00,244.07 654.50,242.16 655.00,243.26 655.50,242.47 656.00,243.21 656.50,244.53 657.00,244.86 657.50,244.67 658.00,245.10 658.50,246.00 659.00,245.82 659.50,246.60 659.50,246.60" fill="#e46c0a"/>
<polygon points="651.50,246.60 651.50,234.01 651.87,238.24 652.24,240.99 652.61,243.53 652.98,245.01 653.35,245.96 653.73,246.41 654.10,246.57 654.47,246.60 654.47,246.60" fill="#e46c0a"/>
<polygon points="656.04,246.60 656.04,234.24 656.38,236.81 656.73,239.26 657.08,240.91 657.42,242.22 657.77,244.04 658.12,244.95 658.46,245.69 658.81,246.22 659.15,246.52 659.50,246.60 659.50,246.60" fill="#e46c0a"/>
<path d="M651.90 246.60V218.00M653.35 246.60V227.10M658.84 246.60V232.82M652.89 246.60V223.33M656.80 246.60V228.42M653.85 246.60V224.45M656.27 246.60V228.06M654.86 246.60V230.07M652.28 246.60V227.02M658.53 246.60V228.72M653.48 246.60V225.05M654.63 246.60V227.97M656.98 246.60V232.39M656.28 246.60V228.38" stroke="#e46c0a" stroke-width="0.6" stroke-opacity="0.5"/>
<path d="M651.92 246.60V235.40M655.56 246.60V236.21M651.91 246.60V236.32M654.72 246.60V237.15M656.03 246.60V238.60M656.73 246.60V238.21" stroke="#e46c0a" stroke-width="0.45" stroke-opacity="0.8"/>
<polygon points="659.50,246.60 659.50,245.50 660.00,244.73 660.50,245.58 661.00,245.47 661.50,244.89 662.00,244.75 662.50,245.42 663.00,243.88 663.50,244.08 664.00,244.75 664.50,244.59 665.00,245.09 665.50,243.95 666.00,245.47 666.50,245.19 667.00,245.36 667.50,244.36 668.00,244.99 668.50,245.19 669.00,245.27 669.50,244.68 670.00,245.59 670.50,245.02 671.00,245.24 671.50,245.62 672.00,245.81 672.50,245.86 673.00,245.98 673.50,246.19 674.00,246.21 674.50,246.44 675.00,246.60 675.00,246.60" fill="#e46c0a"/>
<polygon points="659.50,246.60 659.50,239.88 659.87,242.09 660.24,244.16 660.61,245.37 660.97,246.03 661.34,246.43 661.71,246.58 662.08,246.60 662.08,246.60" fill="#e46c0a"/>
<polygon points="662.76,246.60 662.76,240.15 663.12,242.39 663.49,244.27 663.85,245.41 664.22,246.11 664.58,246.45 664.94,246.58 665.31,246.60 665.31,246.60" fill="#e46c0a"/>
<polygon points="665.74,246.60 665.74,240.01 666.08,242.66 666.43,243.95 666.78,244.98 667.12,245.83 667.47,246.26 667.81,246.50 668.16,246.59 668.51,246.60 668.51,246.60" fill="#e46c0a"/>
<polygon points="668.52,246.60 668.52,241.08 668.86,242.76 669.20,244.17 669.53,245.29 669.87,245.91 670.21,246.30 670.55,246.51 670.89,246.59 671.23,246.60 671.23,246.60" fill="#e46c0a"/>
<polygon points="671.67,246.60 671.67,238.96 672.04,240.72 672.41,241.90 672.78,243.68 673.15,244.43 673.52,245.36 673.89,245.90 674.26,246.30 674.63,246.54 675.00,246.60 675.00,246.60" fill="#e46c0a"/>
<path d="M660.27 246.60V226.00M661.88 246.60V231.20M672.24 246.60V235.06M663.62 246.60V230.06M668.14 246.60V235.19M667.06 246.60V229.90M667.62 246.60V230.53M664.53 246.60V230.94M669.37 246.60V233.65M671.31 246.60V236.96M663.40 246.60V234.55M664.84 246.60V232.07M671.94 246.60V232.81M670.82 246.60V233.86M663.27 246.60V233.16M671.18 246.60V233.04M662.51 246.60V230.63M665.80 246.60V230.98M667.63 246.60V233.65M662.68 246.60V231.58M661.64 246.60V227.47M664.37 246.60V234.05M665.65 246.60V230.77M672.55 246.60V235.09M661.94 246.60V234.10M672.09 246.60V233.36M662.73 246.60V234.26M662.76 246.60V230.58" stroke="#e46c0a" stroke-width="0.6" stroke-opacity="0.5"/>
<path d="M665.49 246.60V239.62M660.57 246.60V237.35M667.16 246.60V240.79M661.62 246.60V237.50M663.06 246.60V238.88M661.18 246.60V239.24M669.42 246.60V241.16M669.47 246.60V239.19M672.03 246.60V240.50M666.26 246.60V238.58M673.57 246.60V240.81M669.57 246.60V239.98" stroke="#e46c0a" stroke-width="0.45" stroke-opacity="0.8"/>
<polygon points="367.90,249.10 367.90,251.32 368.27,251.35 368.64,251.31 369.01,251.24 369.39,250.97 369.76,250.75 370.13,250.10 370.50,249.10 370.50,249.10" fill="#a2a2a2" fill-opacity="0.85"/>
<path d="M370.28 249.10V250.43M370.17 249.10V250.06M369.08 249.10V251.54M369.27 249.10V252.29M367.93 249.10V251.75M368.60 249.10V253.61M369.83 249.10V250.66M369.91 249.10V250.51M369.46 249.10V250.89M367.90 249.10V253.68" stroke="#a5a5a5" stroke-width="0.5" stroke-opacity="0.6"/>
<polygon points="377.30,249.10 377.30,251.12 377.64,251.12 377.99,251.48 378.33,251.41 378.67,251.12 379.01,251.41 379.36,251.19 379.70,251.22 380.04,250.97 380.39,251.24 380.73,251.08 381.07,251.13 381.41,251.03 381.76,250.72 382.10,250.66 382.44,250.50 382.79,250.39 383.13,250.25 383.47,250.16 383.81,250.04 384.16,249.69 384.50,249.10 384.50,249.10" fill="#a2a2a2" fill-opacity="0.85"/>
<path d="M379.66 249.10V251.91M383.02 249.10V251.12M379.51 249.10V252.45M382.22 249.10V250.47M384.11 249.10V249.48M382.54 249.10V252.09M377.43 249.10V253.47M379.86 249.10V252.64M377.36 249.10V250.97M378.56 249.10V253.81M378.67 249.10V253.31M383.79 249.10V250.85M379.71 249.10V252.04M380.96 249.10V252.80M378.05 249.10V253.35M382.87 249.10V251.85M377.56 249.10V253.87M377.94 249.10V252.17M381.57 249.10V252.82M379.67 249.10V253.53M381.11 249.10V251.61M379.51 249.10V251.46M377.85 249.10V251.47M382.11 249.10V252.64M378.43 249.10V250.96M384.19 249.10V249.70M380.13 249.10V251.59M381.45 249.10V252.70" stroke="#a5a5a5" stroke-width="0.5" stroke-opacity="0.6"/>
<polygon points="387.20,249.10 387.20,251.24 387.54,251.22 387.89,251.04 388.23,251.45 388.58,251.01 388.92,251.22 389.27,251.36 389.61,251.01 389.96,251.27 390.30,251.34 390.64,251.16 390.99,251.20 391.33,250.87 391.68,250.97 392.02,250.80 392.37,251.03 392.71,250.76 393.06,250.76 393.40,250.89 393.74,250.75 394.09,250.70 394.43,250.44 394.78,250.35 395.12,250.29 395.47,250.08 395.81,249.88 396.16,249.67 396.50,249.10 396.50,249.10" fill="#a2a2a2" fill-opacity="0.85"/>
<path d="M390.60 249.10V253.61M395.86 249.10V250.21M391.70 249.10V251.77M388.00 249.10V251.94M394.25 249.10V251.95M390.46 249.10V253.17M394.19 249.10V251.71M393.19 249.10V252.31M390.48 249.10V252.97M389.73 249.10V252.50M394.14 249.10V251.73M389.85 249.10V253.66M393.06 249.10V252.00M387.30 249.10V252.82M389.46 249.10V253.04M391.38 249.10V253.04M393.04 249.10V252.45M390.34 249.10V252.84M393.86 249.10V252.12M390.36 249.10V253.33M395.05 249.10V251.13M396.01 249.10V250.14M391.87 249.10V252.24M388.70 249.10V253.53M395.66 249.10V250.32M393.44 249.10V252.13M393.79 249.10V250.79M394.24 249.10V251.49M393.20 249.10V251.59M392.83 249.10V252.49M392.95 249.10V252.34M387.45 249.10V251.52M391.18 249.10V252.70M389.18 249.10V253.10M392.89 249.10V250.53M391.45 249.10V251.47M387.69 249.10V251.40" stroke="#a5a5a5" stroke-width="0.5" stroke-opacity="0.6"/>
<polygon points="400.00,249.10 400.00,254.19 400.33,254.03 400.67,254.04 401.00,253.85 401.33,254.34 401.67,254.22 402.00,254.47 402.33,254.41 402.67,253.98 403.00,254.70 403.33,253.63 403.67,254.05 404.00,253.86 404.33,253.95 404.67,253.57 405.00,254.28 405.33,253.72 405.67,253.30 406.00,253.81 406.33,253.20 406.67,253.56 407.00,253.26 407.33,253.38 407.67,253.60 408.00,253.34 408.33,252.85 408.67,253.03 409.00,252.72 409.33,252.34 409.67,252.00 410.00,252.10 410.33,251.84 410.67,251.78 411.00,251.44 411.33,250.89 411.67,250.30 412.00,249.10 412.00,249.10" fill="#a2a2a2" fill-opacity="0.85"/>
<path d="M400.01 249.10V256.21M406.59 249.10V259.56M401.64 249.10V261.79M410.37 249.10V253.81M405.02 249.10V256.95M403.39 249.10V264.10M404.42 249.10V263.53M410.64 249.10V254.18M403.02 249.10V264.31M405.78 249.10V258.47M403.71 249.10V264.05M405.72 249.10V257.29M405.55 249.10V255.53M407.24 249.10V257.77M403.41 249.10V262.62M409.62 249.10V252.09M406.20 249.10V256.94M410.89 249.10V254.10M402.86 249.10V258.01M401.80 249.10V264.72M403.41 249.10V261.17M405.52 249.10V260.50M407.03 249.10V260.11M401.38 249.10V262.96M403.50 249.10V260.49M403.91 249.10V258.07M406.17 249.10V258.66M404.20 249.10V261.99M406.88 249.10V253.83M402.94 249.10V259.93M410.67 249.10V255.10M406.35 249.10V253.58M409.06 249.10V255.95M406.70 249.10V260.15M407.36 249.10V257.97M410.61 249.10V253.41M404.56 249.10V262.64M402.29 249.10V258.44M409.66 249.10V252.69M409.73 249.10V256.44M405.04 249.10V257.58M409.09 249.10V258.59M401.66 249.10V260.40M406.39 249.10V258.79M403.85 249.10V256.43M406.82 249.10V260.76M400.80 249.10V257.83M409.54 249.10V257.25" stroke="#a5a5a5" stroke-width="0.5" stroke-opacity="0.6"/>
<polygon points="415.20,249.10 415.20,254.60 415.54,253.85 415.88,254.67 416.22,254.96 416.56,254.97 416.91,254.60 417.25,253.82 417.59,254.72 417.93,253.97 418.27,254.43 418.61,254.75 418.95,254.43 419.29,253.74 419.63,253.88 419.97,254.52 420.32,253.62 420.66,254.06 421.00,253.79 421.34,253.46 421.68,253.86 422.02,253.20 422.36,253.18 422.70,253.37 423.04,252.98 423.38,252.87 423.73,253.24 424.07,253.27 424.41,253.25 424.75,252.50 425.09,252.60 425.43,252.35 425.77,252.39 426.11,252.13 426.45,252.21 426.79,251.63 427.14,251.21 427.48,251.23 427.82,250.65 428.16,250.33 428.50,249.10 428.50,249.10" fill="#a2a2a2" fill-opacity="0.85"/>
<path d="M426.95 249.10V254.12M423.21 249.10V256.27M422.32 249.10V256.64M424.88 249.10V256.89M416.93 249.10V257.82M419.99 249.10V261.87M417.51 249.10V262.44M423.65 249.10V254.20M423.82 249.10V254.20M416.81 249.10V261.50M418.28 249.10V263.59M421.40 249.10V257.71M425.48 249.10V252.56M424.55 249.10V253.37M417.15 249.10V264.45M423.99 249.10V255.44M416.70 249.10V264.68M423.78 249.10V259.90M417.00 249.10V261.75M419.77 249.10V257.34M419.50 249.10V261.05M419.70 249.10V258.93M416.96 249.10V263.51M423.56 249.10V260.01M420.79 249.10V262.36M421.88 249.10V259.78M422.60 249.10V260.40M420.30 249.10V255.48M415.63 249.10V257.50M415.71 249.10V264.11M421.41 249.10V261.34M415.21 249.10V260.43M426.68 249.10V254.91M420.73 249.10V259.30M416.49 249.10V256.84M417.25 249.10V259.34M420.18 249.10V262.89M417.16 249.10V258.03M418.78 249.10V256.67M418.90 249.10V257.54M421.42 249.10V254.16M427.13 249.10V253.03M427.30 249.10V253.72M423.89 249.10V257.48M427.40 249.10V251.47M423.83 249.10V256.14M423.90 249.10V259.21M417.31 249.10V257.38M415.52 249.10V257.85M416.21 249.10V259.71M427.76 249.10V251.44M419.22 249.10V259.85M418.85 249.10V262.26" stroke="#a5a5a5" stroke-width="0.5" stroke-opacity="0.6"/>
<polygon points="432.20,249.10 432.20,254.67 432.53,254.01 432.87,254.10 433.20,254.60 433.54,254.91 433.87,254.55 434.21,254.28 434.54,254.90 434.88,253.76 435.21,253.80 435.55,254.60 435.88,254.15 436.22,253.71 436.55,254.25 436.89,254.71 437.22,254.14 437.56,253.91 437.89,253.59 438.23,253.52 438.56,254.36 438.90,253.87 439.23,254.28 439.57,253.30 439.90,253.44 440.23,253.18 440.57,253.46 440.90,253.05 441.24,253.17 441.57,253.23 441.91,253.04 442.24,252.72 442.58,252.62 442.91,253.31 443.25,252.54 443.58,252.68 443.92,252.47 444.25,252.43 444.59,251.96 444.92,251.97 445.26,251.67 445.59,251.75 445.93,251.73 446.26,251.31 446.60,251.14 446.93,250.55 447.27,250.08 447.60,249.10 447.60,249.10" fill="#a2a2a2" fill-opacity="0.85"/>
<path d="M439.47 249.10V259.84M437.83 249.10V260.94M443.04 249.10V259.57M436.80 249.10V259.69M444.54 249.10V253.98M433.93 249.10V258.73M433.51 249.10V263.11M444.44 249.10V254.66M434.14 249.10V255.75M435.86 249.10V255.64M438.60 249.10V260.25M435.87 249.10V255.26M442.67 249.10V253.45M435.19 249.10V258.31M437.78 249.10V255.56M438.48 249.10V257.92M443.44 249.10V257.10M445.59 249.10V254.89M443.55 249.10V257.11M438.81 249.10V262.04M441.99 249.10V260.84M443.08 249.10V258.32M436.20 249.10V262.97M437.91 249.10V255.98M433.18 249.10V257.06M436.12 249.10V261.87M436.47 249.10V255.22M443.61 249.10V256.95M432.61 249.10V255.25M434.14 249.10V259.20M445.04 249.10V257.02M441.34 249.10V256.03M438.61 249.10V258.35M437.14 249.10V254.09M440.93 249.10V260.88M443.06 249.10V253.85M440.12 249.10V255.89M442.80 249.10V256.92M446.22 249.10V254.02M433.97 249.10V258.78M445.87 249.10V253.64M438.69 249.10V259.05M443.66 249.10V258.97M440.16 249.10V262.36M441.10 249.10V254.76M444.36 249.10V255.39M432.98 249.10V264.81M432.69 249.10V261.44M439.40 249.10V262.21M438.07 249.10V256.98M436.34 249.10V257.16M440.60 249.10V257.52M443.42 249.10V254.97M437.45 249.10V257.49M446.88 249.10V251.83M444.89 249.10V255.80M438.19 249.10V256.08M444.62 249.10V255.50M432.76 249.10V257.08M433.67 249.10V262.63M445.65 249.10V252.74" stroke="#a5a5a5" stroke-width="0.5" stroke-opacity="0.6"/>
<polygon points="451.10,249.10 451.10,256.68 451.44,255.93 451.78,256.49 452.11,256.77 452.45,256.38 452.79,256.64 453.13,255.96 453.47,255.37 453.81,256.12 454.14,256.21 454.48,255.56 454.82,255.84 455.16,255.70 455.50,255.21 455.84,255.60 456.17,255.66 456.51,255.75 456.85,256.03 457.19,255.52 457.53,256.30 457.87,255.99 458.20,256.06 458.54,255.65 458.88,255.53 459.22,255.26 459.56,255.52 459.90,254.84 460.23,255.04 460.57,255.04 460.91,254.72 461.25,254.31 461.59,253.94 461.93,253.83 462.26,254.00 462.60,254.10 462.94,254.12 463.28,253.89 463.62,253.30 463.96,253.68 464.29,252.87 464.63,253.01 464.97,252.25 465.31,252.47 465.65,252.08 465.99,251.85 466.32,251.33 466.66,250.62 467.00,249.10 467.00,249.10" fill="#a2a2a2" fill-opacity="0.85"/>
<path d="M462.49 249.10V262.99M454.32 249.10V267.87M464.92 249.10V255.50M466.13 249.10V253.49M457.17 249.10V256.53M457.12 249.10V261.24M461.17 249.10V267.73M465.14 249.10V257.65M457.06 249.10V259.81M461.72 249.10V263.42M462.13 249.10V260.90M464.78 249.10V255.53M455.81 249.10V263.36M460.70 249.10V268.34M453.68 249.10V269.74M462.92 249.10V258.18M452.07 249.10V269.00M463.91 249.10V262.66M462.33 249.10V261.16M457.66 249.10V266.64M465.05 249.10V255.75M455.43 249.10V268.80M466.01 249.10V252.53M451.57 249.10V260.87M459.78 249.10V266.05M453.94 249.10V262.32M460.27 249.10V266.09M461.75 249.10V265.24M452.05 249.10V267.75M463.97 249.10V263.06M456.01 249.10V271.81M461.05 249.10V268.17M454.63 249.10V270.37M464.07 249.10V259.15M452.65 249.10V262.54M453.52 249.10V260.17M453.44 249.10V269.54M452.72 249.10V271.68M462.45 249.10V265.00M463.50 249.10V262.24M465.35 249.10V258.79M460.74 249.10V268.97M452.69 249.10V260.50M452.09 249.10V262.85M456.87 249.10V266.05M461.60 249.10V265.58M452.39 249.10V266.41M459.48 249.10V263.28M452.91 249.10V269.36M456.87 249.10V269.19M458.74 249.10V271.18M465.68 249.10V252.58M462.82 249.10V263.53M455.66 249.10V260.38M458.49 249.10V263.62M462.47 249.10V265.89M456.99 249.10V263.33M458.79 249.10V268.04M463.27 249.10V261.44M455.66 249.10V264.61M464.18 249.10V259.29M451.88 249.10V266.74M454.77 249.10V269.90" stroke="#a5a5a5" stroke-width="0.5" stroke-opacity="0.6"/>
<polygon points="469.00,249.10 469.00,255.54 469.33,255.85 469.67,255.57 470.00,256.16 470.34,256.95 470.67,256.24 471.00,255.99 471.34,256.83 471.67,255.49 472.01,255.88 472.34,256.56 472.67,255.29 473.01,256.43 473.34,255.78 473.68,255.22 474.01,255.54 474.34,255.82 474.68,255.66 475.01,255.81 475.35,255.08 475.68,255.27 476.01,256.32 476.35,255.49 476.68,255.47 477.02,254.86 477.35,255.06 477.68,255.92 478.02,255.47 478.35,255.15 478.68,254.46 479.02,254.82 479.35,255.22 479.69,254.69 480.02,254.78 480.35,255.04 480.69,254.61 481.02,254.48 481.36,253.67 481.69,253.53 482.02,254.20 482.36,253.67 482.69,253.98 483.03,253.75 483.36,253.64 483.69,252.96 484.03,253.27 484.36,252.83 484.70,252.67 485.03,251.88 485.36,251.98 485.70,251.42 486.03,251.24 486.37,250.63 486.70,249.10 486.70,249.10" fill="#a2a2a2" fill-opacity="0.85"/>
<path d="M476.24 249.10V262.74M477.07 249.10V262.63M480.44 249.10V258.02M471.91 249.10V267.10M470.27 249.10V266.05M484.41 249.10V259.87M472.37 249.10V257.81M483.22 249.10V263.33M479.28 249.10V258.92M473.06 249.10V273.27M485.10 249.10V252.36M472.17 249.10V266.59M473.58 249.10V270.93M475.40 249.10V270.38M471.61 249.10V268.09M485.74 249.10V253.97M470.55 249.10V260.71M480.05 249.10V262.03M475.33 249.10V266.37M478.99 249.10V269.81M473.14 249.10V268.49M473.52 249.10V268.04M481.56 249.10V257.42M477.26 249.10V268.36M469.14 249.10V271.98M476.19 249.10V266.35M479.48 249.10V267.46M469.96 249.10V268.01M469.66 249.10V266.16M474.94 249.10V257.54M474.11 249.10V266.41M480.24 249.10V267.94M475.36 249.10V267.12M481.24 249.10V266.69M485.30 249.10V257.17M474.18 249.10V261.44M485.00 249.10V253.02M476.70 249.10V269.12M478.08 249.10V263.64M484.87 249.10V255.03M478.47 249.10V268.85M471.37 249.10V265.42M477.49 249.10V266.43M472.56 249.10V266.90M470.03 249.10V260.16M474.87 249.10V260.78M485.61 249.10V252.86M473.73 249.10V271.26M481.72 249.10V259.08M483.24 249.10V260.74M475.67 249.10V268.33M473.22 249.10V263.54M484.05 249.10V257.74M484.41 249.10V254.91M471.36 249.10V259.06M481.70 249.10V262.47M469.17 249.10V258.88M483.15 249.10V259.77M483.96 249.10V253.84M479.11 249.10V258.65M481.38 249.10V263.38M479.51 249.10V260.24M485.29 249.10V252.78M470.10 249.10V270.72M470.59 249.10V259.55M476.90 249.10V267.89M484.32 249.10V259.13M470.19 249.10V270.13M483.48 249.10V255.49M481.95 249.10V258.82" stroke="#a5a5a5" stroke-width="0.5" stroke-opacity="0.6"/>
<polygon points="489.00,249.10 489.00,257.61 489.33,257.02 489.67,258.52 490.00,258.03 490.34,258.78 490.67,257.91 491.00,257.28 491.34,257.38 491.67,257.45 492.01,258.77 492.34,257.29 492.67,257.04 493.01,257.52 493.34,256.96 493.68,257.58 494.01,257.92 494.34,257.92 494.68,256.98 495.01,256.86 495.34,257.47 495.68,257.77 496.01,257.26 496.35,257.43 496.68,257.97 497.01,256.52 497.35,256.66 497.68,256.98 498.02,256.97 498.35,257.50 498.68,256.82 499.02,256.90 499.35,256.39 499.69,256.87 500.02,256.84 500.35,255.86 500.69,255.45 501.02,255.56 501.36,255.58 501.69,256.21 502.02,255.16 502.36,255.51 502.69,255.36 503.02,255.59 503.36,254.32 503.69,254.94 504.03,254.21 504.36,253.73 504.69,254.09 505.03,254.04 505.36,253.49 505.70,252.71 506.03,253.17 506.36,252.32 506.70,252.06 507.03,251.58 507.37,250.69 507.70,249.10 507.70,249.10" fill="#a2a2a2" fill-opacity="0.85"/>
<path d="M494.97 249.10V265.92M490.17 249.10V283.98M496.45 249.10V283.96M490.14 249.10V273.69M492.27 249.10V288.21M503.34 249.10V272.85M498.19 249.10V264.75M496.55 249.10V269.45M489.49 249.10V280.56M494.26 249.10V266.61M498.28 249.10V283.08M506.16 249.10V258.52M490.86 249.10V284.99M491.08 249.10V279.70M490.52 249.10V289.60M498.84 249.10V272.89M493.94 249.10V279.06M506.65 249.10V255.59M492.80 249.10V278.68M505.66 249.10V259.74M500.50 249.10V279.46M494.91 249.10V284.08M498.60 249.10V265.63M489.97 249.10V288.71M497.45 249.10V274.29M505.64 249.10V261.69M498.07 249.10V270.00M502.50 249.10V264.67M497.53 249.10V280.75M499.97 249.10V264.46M492.68 249.10V282.85M502.22 249.10V261.48M507.09 249.10V250.46M492.04 249.10V266.42M497.10 249.10V278.41M504.55 249.10V259.56M501.67 249.10V262.11M499.53 249.10V267.97M495.46 249.10V263.96M502.07 249.10V262.17M502.86 249.10V265.63M499.73 249.10V275.86M497.86 249.10V282.53M505.68 249.10V258.57M495.05 249.10V285.28M491.41 249.10V276.72M496.52 249.10V285.89M491.33 249.10V282.39M502.73 249.10V272.10M489.02 249.10V288.86M494.67 249.10V285.09M501.00 249.10V270.02M504.19 249.10V267.69M495.16 249.10V282.28M498.16 249.10V279.16M500.14 249.10V278.04M491.89 249.10V278.48M489.02 249.10V285.66M502.99 249.10V272.99M489.78 249.10V279.83M497.68 249.10V265.56M492.67 249.10V288.65M504.47 249.10V260.99M504.04 249.10V267.81M495.98 249.10V279.86M493.15 249.10V272.30M489.18 249.10V282.70M499.55 249.10V278.01M498.14 249.10V273.51M494.56 249.10V282.76M495.76 249.10V278.99M502.74 249.10V267.70M501.45 249.10V260.98M493.72 249.10V285.43" stroke="#a5a5a5" stroke-width="0.5" stroke-opacity="0.6"/>
<polygon points="509.80,249.10 509.80,257.31 510.14,257.13 510.47,257.04 510.81,258.52 511.15,257.21 511.49,257.89 511.82,257.83 512.16,258.53 512.50,257.87 512.83,257.93 513.17,256.93 513.51,258.40 513.84,258.30 514.18,257.99 514.52,258.35 514.86,257.88 515.19,258.02 515.53,258.22 515.87,257.72 516.20,256.55 516.54,258.08 516.88,258.20 517.21,256.70 517.55,256.38 517.89,256.80 518.23,256.30 518.56,256.68 518.90,256.11 519.24,256.24 519.57,255.79 519.91,256.39 520.25,256.07 520.59,256.64 520.92,255.98 521.26,255.51 521.60,256.57 521.93,256.32 522.27,255.86 522.61,255.03 522.94,255.13 523.28,255.02 523.62,254.78 523.96,254.11 524.29,254.44 524.63,254.57 524.97,254.24 525.30,254.14 525.64,253.67 525.98,253.42 526.31,253.15 526.65,252.78 526.99,252.22 527.33,251.46 527.66,250.87 528.00,249.10 528.00,249.10" fill="#a2a2a2" fill-opacity="0.85"/>
<path d="M525.38 249.10V265.49M517.63 249.10V268.14M515.58 249.10V270.95M521.84 249.10V275.50M513.19 249.10V279.24M524.63 249.10V263.43M511.47 249.10V281.38M516.20 249.10V267.40M514.88 249.10V261.69M512.43 249.10V276.80M511.65 249.10V262.10M519.51 249.10V282.55M524.52 249.10V263.08M526.12 249.10V255.64M512.46 249.10V262.09M510.83 249.10V281.38M523.16 249.10V268.27M523.98 249.10V266.18M526.02 249.10V261.93M519.28 249.10V266.46M517.33 249.10V274.78M524.33 249.10V261.88M515.00 249.10V284.57M511.05 249.10V279.82M513.68 249.10V282.07M520.29 249.10V263.38M522.69 249.10V267.91M515.46 249.10V285.05M523.55 249.10V264.70M521.76 249.10V262.99M518.96 249.10V263.86M521.11 249.10V279.19M521.03 249.10V260.91M518.86 249.10V274.11M517.62 249.10V266.94M514.71 249.10V276.60M511.06 249.10V283.01M514.10 249.10V272.68M511.40 249.10V273.67M526.24 249.10V257.98M511.49 249.10V274.86M526.48 249.10V254.82M515.85 249.10V269.62M521.84 249.10V270.27M511.54 249.10V286.99M515.59 249.10V281.47M517.79 249.10V283.23M510.83 249.10V271.51M514.84 249.10V271.67M524.31 249.10V266.16M515.92 249.10V277.30M524.73 249.10V265.95M517.77 249.10V279.08M520.66 249.10V270.77M517.33 249.10V266.46M517.55 249.10V283.62M515.20 249.10V274.25M520.45 249.10V274.68M512.90 249.10V277.19M522.76 249.10V259.53M511.72 249.10V284.68M525.78 249.10V256.16M511.24 249.10V281.90M514.82 249.10V281.31M510.40 249.10V277.89M512.65 249.10V274.27M522.04 249.10V270.81M524.87 249.10V268.72M520.73 249.10V278.75M512.93 249.10V277.90M515.44 249.10V280.25M511.76 249.10V287.42" stroke="#a5a5a5" stroke-width="0.5" stroke-opacity="0.6"/>
<polygon points="529.90,249.10 529.90,257.75 530.24,258.57 530.58,258.88 530.91,258.87 531.25,257.77 531.59,258.68 531.93,258.94 532.27,257.21 532.61,258.40 532.94,258.33 533.28,257.78 533.62,257.40 533.96,257.16 534.30,257.59 534.63,258.54 534.97,257.49 535.31,257.16 535.65,257.80 535.99,257.40 536.33,257.67 536.66,257.32 537.00,256.94 537.34,256.42 537.68,257.77 538.02,257.40 538.35,256.58 538.69,256.95 539.03,257.00 539.37,256.78 539.71,257.35 540.05,257.03 540.38,256.14 540.72,256.09 541.06,256.41 541.40,255.58 541.74,256.64 542.07,255.16 542.41,255.69 542.75,255.22 543.09,255.42 543.43,254.60 543.77,254.68 544.10,255.48 544.44,255.01 544.78,254.11 545.12,254.17 545.46,253.48 545.79,253.34 546.13,253.15 546.47,253.58 546.81,252.66 547.15,252.25 547.49,251.72 547.82,251.27 548.16,250.98 548.50,249.10 548.50,249.10" fill="#a2a2a2" fill-opacity="0.85"/>
<path d="M546.50 249.10V263.77M544.02 249.10V263.58M532.95 249.10V272.48M531.08 249.10V269.79M542.89 249.10V269.70M530.09 249.10V273.83M545.23 249.10V269.06M543.06 249.10V273.23M546.35 249.10V261.95M536.82 249.10V278.34M535.00 249.10V263.57M534.59 249.10V276.94M532.07 249.10V266.16M534.36 249.10V274.77M547.17 249.10V257.67M545.00 249.10V268.56M540.59 249.10V269.42M536.98 249.10V272.17M541.34 249.10V278.42M544.16 249.10V264.08M532.60 249.10V262.27M540.45 249.10V267.31M530.00 249.10V273.75M534.02 249.10V270.25M541.89 249.10V272.96M534.98 249.10V282.93M533.63 249.10V287.56M532.04 249.10V280.98M542.62 249.10V274.13M538.69 249.10V282.52M541.25 249.10V275.81M531.33 249.10V270.15M538.30 249.10V276.53M531.62 249.10V284.44M536.15 249.10V276.56M539.32 249.10V281.16M535.35 249.10V278.98M540.82 249.10V275.82M535.53 249.10V271.89M538.39 249.10V277.62M541.53 249.10V263.83M537.95 249.10V277.16M533.41 249.10V266.82M546.66 249.10V254.35M538.90 249.10V270.29M530.46 249.10V272.81M532.81 249.10V276.09M546.31 249.10V256.21M536.24 249.10V281.36M541.17 249.10V260.17M534.03 249.10V272.51M546.05 249.10V261.79M534.55 249.10V277.51M538.65 249.10V266.45M541.94 249.10V275.20M538.51 249.10V276.17M543.80 249.10V274.61M540.96 249.10V261.35M539.01 249.10V278.21M535.87 249.10V281.39M536.54 249.10V279.48M540.98 249.10V275.85M546.60 249.10V262.26M542.70 249.10V273.53M534.06 249.10V280.84M541.09 249.10V261.89M543.51 249.10V263.81M538.78 249.10V275.63M542.93 249.10V274.01M538.35 249.10V284.16M537.89 249.10V277.34M547.79 249.10V252.38M542.78 249.10V277.12M531.42 249.10V285.24" stroke="#a5a5a5" stroke-width="0.5" stroke-opacity="0.6"/>
<polygon points="549.70,249.10 549.70,258.31 550.04,258.09 550.38,258.58 550.71,258.70 551.05,257.28 551.39,257.94 551.73,258.17 552.06,258.30 552.40,258.78 552.74,258.44 553.08,258.45 553.41,256.93 553.75,257.59 554.09,258.46 554.43,258.47 554.76,258.05 555.10,257.19 555.44,257.93 555.77,257.42 556.11,257.59 556.45,257.45 556.79,257.76 557.12,257.40 557.46,257.74 557.80,256.81 558.14,256.70 558.48,256.85 558.81,256.57 559.15,255.61 559.49,256.92 559.83,255.78 560.16,255.90 560.50,255.07 560.84,255.13 561.17,255.99 561.51,254.90 561.85,254.73 562.19,255.17 562.52,254.23 562.86,254.49 563.20,254.10 563.54,254.14 563.88,253.39 564.21,252.91 564.55,252.47 564.89,252.11 565.23,251.36 565.56,250.76 565.90,249.10 565.90,249.10" fill="#a2a2a2" fill-opacity="0.85"/>
<path d="M554.64 249.10V283.35M564.50 249.10V257.87M553.63 249.10V272.73M559.58 249.10V271.93M551.55 249.10V279.37M553.93 249.10V268.02M562.04 249.10V260.36M556.60 249.10V281.46M558.23 249.10V281.28M554.69 249.10V286.86M550.39 249.10V287.83M556.37 249.10V260.66M553.78 249.10V288.38M560.96 249.10V273.80M562.45 249.10V256.76M554.52 249.10V276.74M563.99 249.10V265.35M552.05 249.10V289.29M558.41 249.10V269.68M551.00 249.10V277.05M557.88 249.10V273.63M554.58 249.10V286.98M557.17 249.10V270.93M561.92 249.10V263.53M556.34 249.10V265.54M553.44 249.10V288.77M559.46 249.10V272.98M560.28 249.10V274.20M557.89 249.10V271.68M552.02 249.10V263.64M551.60 249.10V276.38M549.86 249.10V283.10M555.00 249.10V270.39M554.63 249.10V277.32M552.99 249.10V286.13M557.29 249.10V263.69M551.04 249.10V287.62M558.79 249.10V268.96M560.91 249.10V260.03M563.67 249.10V267.25M560.14 249.10V260.92M556.39 249.10V283.07M559.03 249.10V266.68M553.38 249.10V265.08M557.90 249.10V266.96M556.70 249.10V283.81M563.86 249.10V261.99M562.02 249.10V261.07M564.59 249.10V261.27M557.29 249.10V282.88M554.37 249.10V287.78M554.77 249.10V286.36M562.85 249.10V270.75M561.12 249.10V260.68M554.09 249.10V281.34M563.98 249.10V263.36M550.31 249.10V275.02M555.12 249.10V268.43M553.24 249.10V278.61M555.56 249.10V271.03M556.18 249.10V285.39M559.08 249.10V277.76M564.36 249.10V254.43M563.54 249.10V257.53" stroke="#a5a5a5" stroke-width="0.5" stroke-opacity="0.6"/>
<polygon points="567.10,249.10 567.10,260.77 567.43,262.27 567.77,262.30 568.10,261.89 568.44,261.48 568.77,262.13 569.10,261.28 569.44,260.59 569.77,260.60 570.11,260.25 570.44,259.98 570.78,262.36 571.11,262.26 571.44,260.57 571.78,260.63 572.11,260.17 572.45,261.34 572.78,260.46 573.11,259.52 573.45,261.13 573.78,261.06 574.12,258.76 574.45,259.56 574.79,258.81 575.12,259.56 575.45,258.70 575.79,258.34 576.12,258.10 576.46,258.46 576.79,257.95 577.12,257.60 577.46,257.62 577.79,256.87 578.13,257.26 578.46,256.00 578.80,256.04 579.13,255.66 579.46,254.64 579.80,253.89 580.13,253.21 580.47,251.98 580.80,249.10 580.80,249.10" fill="#a2a2a2" fill-opacity="0.85"/>
<path d="M572.64 249.10V271.84M567.38 249.10V291.76M571.47 249.10V276.44M567.45 249.10V266.87M576.03 249.10V273.27M572.89 249.10V287.22M579.16 249.10V267.18M570.01 249.10V298.50M569.54 249.10V288.05M575.66 249.10V272.17M578.91 249.10V267.64M576.53 249.10V266.14M578.16 249.10V265.81M575.31 249.10V283.72M571.38 249.10V276.88M571.49 249.10V296.63M575.84 249.10V276.46M574.57 249.10V283.66M570.58 249.10V269.49M568.55 249.10V288.53M575.06 249.10V289.43M575.35 249.10V286.06M580.21 249.10V255.10M572.70 249.10V282.02M572.04 249.10V290.58M574.74 249.10V268.30M579.80 249.10V260.32M577.05 249.10V274.71M574.92 249.10V281.03M568.62 249.10V272.79M576.81 249.10V271.17M568.81 249.10V294.87M577.04 249.10V278.82M572.24 249.10V271.13M577.19 249.10V266.95M575.98 249.10V281.04M570.73 249.10V264.26M574.95 249.10V285.82M574.92 249.10V289.94M570.14 249.10V291.82M572.88 249.10V284.76M571.12 249.10V275.81M574.39 249.10V282.89M579.19 249.10V265.85M573.74 249.10V285.18M575.44 249.10V275.79M570.64 249.10V290.10M572.24 249.10V266.47M569.36 249.10V281.29M576.22 249.10V279.49M573.61 249.10V289.35M571.44 249.10V279.72M577.08 249.10V277.12M572.76 249.10V292.61" stroke="#a5a5a5" stroke-width="0.5" stroke-opacity="0.6"/>
<polygon points="582.00,249.10 582.00,260.29 582.34,261.71 582.67,262.59 583.01,262.62 583.34,260.69 583.68,262.34 584.01,261.54 584.35,262.57 584.68,260.85 585.02,261.68 585.35,261.52 585.69,262.35 586.02,260.51 586.36,260.53 586.69,259.71 587.03,261.00 587.36,259.30 587.70,261.07 588.03,259.17 588.37,259.10 588.70,260.68 589.04,259.40 589.37,259.73 589.71,258.56 590.04,258.08 590.38,258.05 590.71,258.96 591.05,257.07 591.38,258.01 591.72,257.53 592.05,256.72 592.39,255.57 592.72,255.70 593.06,255.27 593.39,254.14 593.73,252.90 594.06,252.06 594.40,249.10 594.40,249.10" fill="#a2a2a2" fill-opacity="0.85"/>
<path d="M589.11 249.10V269.02M584.43 249.10V289.31M582.58 249.10V264.70M586.50 249.10V276.04M587.94 249.10V267.36M588.73 249.10V284.19M585.81 249.10V286.71M588.34 249.10V287.73M588.93 249.10V282.84M588.78 249.10V287.39M583.16 249.10V272.05M592.41 249.10V272.45M582.10 249.10V297.31M589.32 249.10V286.56M590.43 249.10V272.80M583.37 249.10V293.61M590.54 249.10V274.65M585.26 249.10V280.71M593.26 249.10V261.80M584.53 249.10V298.53M593.77 249.10V254.46M584.37 249.10V292.09M586.65 249.10V282.66M590.23 249.10V270.72M589.15 249.10V270.80M584.66 249.10V286.72M587.14 249.10V292.69M583.72 249.10V297.38M585.15 249.10V280.09M583.28 249.10V280.10M593.80 249.10V255.49M592.05 249.10V276.71M590.37 249.10V267.91M587.19 249.10V272.06M585.00 249.10V279.93M583.99 249.10V290.98M588.29 249.10V274.92M585.06 249.10V272.67M583.38 249.10V284.15M582.90 249.10V286.89M585.07 249.10V292.61M585.21 249.10V294.61M593.37 249.10V265.12M584.74 249.10V296.92M587.68 249.10V291.39M587.58 249.10V283.16M585.11 249.10V292.19M586.42 249.10V293.69M590.51 249.10V273.82" stroke="#a5a5a5" stroke-width="0.5" stroke-opacity="0.6"/>
<polygon points="595.00,249.10 595.00,260.31 595.35,260.87 595.70,260.99 596.05,260.36 596.40,260.13 596.75,257.79 597.10,257.31 597.45,255.68 597.80,249.10 597.80,249.10" fill="#a2a2a2" fill-opacity="0.85"/>
<path d="M596.87 249.10V280.03M596.64 249.10V289.70M597.15 249.10V271.15M596.35 249.10V291.99M596.50 249.10V282.58M595.84 249.10V289.09M596.33 249.10V292.27M597.72 249.10V250.34M597.58 249.10V255.06M595.20 249.10V281.00M597.25 249.10V271.02" stroke="#a5a5a5" stroke-width="0.5" stroke-opacity="0.6"/>
<polygon points="598.70,249.10 598.70,260.93 599.05,260.48 599.40,260.82 599.75,260.37 600.10,260.25 600.45,261.63 600.80,259.91 601.15,259.52 601.50,260.22 601.85,258.59 602.20,259.59 602.55,258.49 602.90,258.07 603.25,256.76 603.60,255.47 603.95,253.23 604.30,249.10 604.30,249.10" fill="#a2a2a2" fill-opacity="0.85"/>
<path d="M600.76 249.10V280.34M603.66 249.10V263.52M603.04 249.10V273.79M599.15 249.10V276.25M601.84 249.10V286.20M599.97 249.10V277.07M600.75 249.10V282.38M600.98 249.10V293.57M602.00 249.10V272.77M600.57 249.10V284.25M599.57 249.10V282.43M599.05 249.10V290.82M603.41 249.10V273.17M601.94 249.10V275.99M601.74 249.10V281.31M599.66 249.10V286.92M601.40 249.10V272.27M601.11 249.10V290.98M602.18 249.10V273.37M600.00 249.10V288.98M601.70 249.10V274.55M601.26 249.10V279.31" stroke="#a5a5a5" stroke-width="0.5" stroke-opacity="0.6"/>
<polygon points="605.50,249.10 605.50,261.96 605.84,262.65 606.18,261.21 606.52,261.60 606.86,261.57 607.20,261.74 607.55,260.45 607.89,260.29 608.23,261.85 608.57,259.62 608.91,260.69 609.25,259.36 609.59,259.56 609.93,259.08 610.27,258.19 610.61,257.59 610.95,258.56 611.30,256.23 611.64,255.72 611.98,255.74 612.32,254.16 612.66,252.58 613.00,249.10 613.00,249.10" fill="#a2a2a2" fill-opacity="0.85"/>
<path d="M612.64 249.10V254.28M610.64 249.10V273.09M612.76 249.10V251.80M612.01 249.10V267.84M606.46 249.10V284.17M610.63 249.10V266.71M606.14 249.10V299.58M612.22 249.10V265.06M605.96 249.10V292.07M612.69 249.10V255.84M610.70 249.10V273.78M610.10 249.10V287.10M609.13 249.10V267.34M606.56 249.10V298.28M610.66 249.10V283.82M606.58 249.10V271.50M610.47 249.10V274.62M608.87 249.10V274.02M611.05 249.10V278.34M610.78 249.10V273.17M609.07 249.10V278.62M608.89 249.10V277.00M608.91 249.10V293.22M611.33 249.10V263.48M610.38 249.10V283.43M608.01 249.10V294.23M612.34 249.10V256.19M610.05 249.10V275.16M608.89 249.10V283.30M611.75 249.10V270.09" stroke="#a5a5a5" stroke-width="0.5" stroke-opacity="0.6"/>
<polygon points="614.20,249.10 614.20,262.69 614.55,260.90 614.89,262.37 615.24,261.17 615.58,260.49 615.93,262.03 616.27,261.24 616.62,260.10 616.96,261.57 617.31,260.25 617.65,260.35 618.00,260.67 618.34,258.72 618.69,258.70 619.03,258.13 619.38,256.98 619.72,256.66 620.07,256.37 620.41,254.79 620.75,252.80 621.10,249.10 621.10,249.10" fill="#a2a2a2" fill-opacity="0.85"/>
<path d="M618.32 249.10V275.10M618.69 249.10V273.73M619.43 249.10V270.09M619.72 249.10V266.38M615.35 249.10V280.28M615.04 249.10V296.44M620.86 249.10V252.32M615.81 249.10V295.60M619.90 249.10V264.09M616.24 249.10V284.45M615.08 249.10V276.11M616.86 249.10V270.50M615.17 249.10V289.00M616.21 249.10V295.61M620.63 249.10V260.70M616.04 249.10V292.04M616.47 249.10V293.88M617.04 249.10V287.87M619.23 249.10V277.57M619.24 249.10V270.23M615.22 249.10V281.70M620.62 249.10V254.46M616.09 249.10V278.79M617.15 249.10V291.84M615.35 249.10V271.35M614.32 249.10V281.10M619.06 249.10V273.65" stroke="#a5a5a5" stroke-width="0.5" stroke-opacity="0.6"/>
<polygon points="622.30,249.10 622.30,262.02 622.65,261.61 622.99,261.08 623.34,261.02 623.68,259.79 624.03,261.81 624.38,260.77 624.72,258.70 625.07,258.31 625.42,258.70 625.76,257.11 626.11,256.14 626.45,254.18 626.80,249.10 626.80,249.10" fill="#a2a2a2" fill-opacity="0.85"/>
<path d="M625.89 249.10V264.38M622.90 249.10V293.00M625.86 249.10V266.89M623.98 249.10V289.67M623.58 249.10V283.01M626.63 249.10V252.06M626.42 249.10V265.04M626.65 249.10V251.40M623.17 249.10V283.65M623.05 249.10V297.38M624.79 249.10V287.57M624.44 249.10V281.46M626.47 249.10V256.03M623.28 249.10V295.12M624.87 249.10V285.68M626.64 249.10V253.56M624.96 249.10V284.31M624.62 249.10V272.45" stroke="#a5a5a5" stroke-width="0.5" stroke-opacity="0.6"/>
<polygon points="627.90,249.10 627.90,261.12 628.26,262.74 628.62,261.51 628.98,259.95 629.33,261.27 629.69,261.72 630.05,260.24 630.41,259.24 630.77,258.33 631.12,257.61 631.48,256.19 631.84,254.09 632.20,249.10 632.20,249.10" fill="#a2a2a2" fill-opacity="0.85"/>
<path d="M631.60 249.10V270.02M630.93 249.10V279.07M628.72 249.10V285.29M629.01 249.10V275.13M631.86 249.10V257.85M631.30 249.10V276.13M629.59 249.10V265.49M628.64 249.10V289.94M630.86 249.10V272.02M630.40 249.10V269.33M630.64 249.10V283.19M631.16 249.10V273.44M630.29 249.10V262.00M629.01 249.10V282.11M628.20 249.10V270.04M631.89 249.10V261.40M630.25 249.10V284.44" stroke="#a5a5a5" stroke-width="0.5" stroke-opacity="0.6"/>
<polygon points="632.20,249.10 632.20,262.64 632.54,261.94 632.88,261.23 633.23,260.92 633.57,262.13 633.91,261.62 634.25,259.10 634.59,259.98 634.93,258.72 635.27,257.09 635.62,256.31 635.96,253.85 636.30,249.10 636.30,249.10" fill="#a2a2a2" fill-opacity="0.85"/>
<path d="M634.42 249.10V282.06M632.42 249.10V297.47M636.00 249.10V262.22M633.37 249.10V290.83M632.66 249.10V287.45M633.57 249.10V283.18M633.35 249.10V269.06M633.93 249.10V274.58M632.90 249.10V280.33M632.70 249.10V266.71M636.07 249.10V253.64M635.75 249.10V264.70M632.68 249.10V283.82M634.22 249.10V266.33M634.36 249.10V262.89M633.39 249.10V290.45" stroke="#a5a5a5" stroke-width="0.5" stroke-opacity="0.6"/>
<polygon points="637.20,249.10 637.20,262.57 637.57,260.64 637.93,261.04 638.30,262.07 638.67,259.85 639.03,258.62 639.40,257.90 639.77,257.60 640.13,254.63 640.50,249.10 640.50,249.10" fill="#a2a2a2" fill-opacity="0.85"/>
<path d="M640.20 249.10V263.27M637.83 249.10V284.99M638.24 249.10V283.67M639.17 249.10V288.76M639.40 249.10V276.26M639.80 249.10V270.99M637.82 249.10V290.50M638.07 249.10V275.39M638.44 249.10V282.94M637.30 249.10V281.81M640.28 249.10V259.47M638.38 249.10V282.44M639.44 249.10V275.79" stroke="#a5a5a5" stroke-width="0.5" stroke-opacity="0.6"/>
<polygon points="641.00,249.10 641.00,262.23 641.35,262.69 641.69,261.63 642.04,262.53 642.38,261.38 642.73,261.59 643.07,259.96 643.42,259.76 643.76,257.68 644.11,256.78 644.45,254.68 644.80,249.10 644.80,249.10" fill="#a2a2a2" fill-opacity="0.85"/>
<path d="M641.47 249.10V283.38M643.82 249.10V277.58M644.11 249.10V272.76M644.56 249.10V255.65M641.56 249.10V272.09M643.92 249.10V264.56M642.17 249.10V271.15M644.35 249.10V260.00M641.87 249.10V286.47M643.59 249.10V262.02M643.14 249.10V278.93M643.04 249.10V279.23M643.94 249.10V275.95M644.17 249.10V264.59M641.15 249.10V283.94" stroke="#a5a5a5" stroke-width="0.5" stroke-opacity="0.6"/>
<polygon points="646.50,249.10 646.50,261.10 646.87,262.83 647.23,262.12 647.60,262.44 647.97,262.00 648.33,260.83 648.70,259.53 649.07,257.22 649.43,255.55 649.80,249.10 649.80,249.10" fill="#a2a2a2" fill-opacity="0.85"/>
<path d="M647.20 249.10V293.69M648.01 249.10V281.40M647.13 249.10V292.96M648.02 249.10V286.49M649.20 249.10V268.67M648.37 249.10V277.20M647.26 249.10V291.77M649.45 249.10V256.10M646.61 249.10V283.92M646.76 249.10V282.88M647.59 249.10V274.76M648.98 249.10V273.15M649.45 249.10V259.01" stroke="#a5a5a5" stroke-width="0.5" stroke-opacity="0.6"/>
<polygon points="651.50,249.10 651.50,262.15 651.83,262.85 652.17,263.27 652.50,262.19 652.83,261.40 653.17,261.88 653.50,262.28 653.83,263.26 654.17,262.17 654.50,262.48 654.83,262.19 655.17,260.83 655.50,260.73 655.83,261.21 656.17,260.53 656.50,259.33 656.83,258.40 657.17,259.05 657.50,257.56 657.83,256.86 658.17,256.10 658.50,255.86 658.83,254.63 659.17,253.30 659.50,249.10 659.50,249.10" fill="#a2a2a2" fill-opacity="0.85"/>
<path d="M655.25 249.10V289.44M652.58 249.10V287.03M659.16 249.10V253.94M652.68 249.10V270.99M651.71 249.10V291.28M654.70 249.10V289.62M657.98 249.10V258.63M653.88 249.10V275.88M653.55 249.10V266.00M653.48 249.10V278.83M655.01 249.10V281.78M659.14 249.10V252.89M652.54 249.10V295.23M653.73 249.10V284.41M653.87 249.10V293.24M658.75 249.10V262.57M652.23 249.10V280.75M656.96 249.10V275.84M653.68 249.10V280.39M651.98 249.10V281.84M657.90 249.10V267.37M655.12 249.10V270.76M657.03 249.10V272.41M654.49 249.10V289.02M653.80 249.10V268.57M656.48 249.10V281.56M651.91 249.10V279.98M658.38 249.10V265.79M654.66 249.10V270.00M653.74 249.10V285.72M658.60 249.10V265.37M659.02 249.10V257.30" stroke="#a5a5a5" stroke-width="0.5" stroke-opacity="0.6"/>
<polygon points="659.50,249.10 659.50,261.23 659.84,262.03 660.17,262.10 660.51,261.16 660.85,261.22 661.18,263.65 661.52,263.56 661.86,261.27 662.20,261.08 662.53,263.66 662.87,261.22 663.21,261.55 663.54,261.26 663.88,261.13 664.22,260.54 664.55,261.67 664.89,262.44 665.23,260.37 665.57,261.42 665.90,260.31 666.24,261.95 666.58,262.10 666.91,261.86 667.25,260.80 667.59,259.63 667.92,260.90 668.26,259.10 668.60,260.62 668.93,259.27 669.27,260.42 669.61,258.78 669.95,259.54 670.28,258.72 670.62,257.90 670.96,258.11 671.29,257.67 671.63,256.81 671.97,257.15 672.30,256.71 672.64,256.53 672.98,255.49 673.32,255.34 673.65,254.20 673.99,253.89 674.33,252.79 674.66,252.06 675.00,249.10 675.00,249.10" fill="#a2a2a2" fill-opacity="0.85"/>
<path d="M663.87 249.10V268.22M664.00 249.10V284.35M662.93 249.10V270.98M672.93 249.10V262.47M662.75 249.10V281.00M672.15 249.10V272.11M673.07 249.10V265.06M664.53 249.10V282.81M660.38 249.10V289.90M672.11 249.10V274.60M671.98 249.10V271.34M671.59 249.10V266.40M667.95 249.10V269.19M673.58 249.10V261.78M662.15 249.10V296.86M668.83 249.10V269.68M672.21 249.10V270.10M668.86 249.10V285.04M664.25 249.10V276.26M668.07 249.10V270.37M670.01 249.10V274.18M662.51 249.10V271.28M661.94 249.10V286.53M673.25 249.10V266.86M672.26 249.10V269.04M671.54 249.10V267.32M665.03 249.10V292.39M663.39 249.10V287.02M668.03 249.10V264.74M668.01 249.10V285.27M672.87 249.10V264.34M673.01 249.10V257.06M673.13 249.10V266.32M671.69 249.10V269.12M668.33 249.10V285.19M662.86 249.10V273.57M670.82 249.10V279.28M662.92 249.10V285.23M667.13 249.10V274.76M672.18 249.10V264.59M671.22 249.10V269.82M661.70 249.10V296.57M661.72 249.10V270.45M659.94 249.10V280.19M659.90 249.10V273.05M673.65 249.10V258.50M670.25 249.10V267.46M659.70 249.10V264.84M661.33 249.10V296.52M666.37 249.10V273.68M660.21 249.10V288.81M664.25 249.10V272.81M666.07 249.10V286.55M664.64 249.10V284.36M662.33 249.10V285.89M660.13 249.10V296.08M673.46 249.10V263.20M666.62 249.10V277.81M670.76 249.10V274.29M670.17 249.10V273.08M665.51 249.10V287.55M662.22 249.10V279.41" stroke="#a5a5a5" stroke-width="0.5" stroke-opacity="0.6"/>
<rect x="372.00" y="249.10" width="303.00" height="1.20" fill="#a8a8a8"/>
<rect x="398.00" y="249.10" width="277.00" height="2.40" fill="#a0a0a0"/>
<path d="M625 251L675 251L675 284Q655 276 625 258Z" fill="#c4c4c4" fill-opacity="0.55"/>
<path d="M618 249V319.7M611.8 249V308M605 249V298.8M634.6 249V305M590 249V296M562 249V294M596 249V300M614.5 249V312" stroke="#a0a0a0" stroke-width="0.6"/>
<rect x="367.00" y="246.40" width="308.00" height="2.75" fill="#e46c0a"/>
<rect x="362.6" y="199.9" width="6.8" height="27.6" fill="none" stroke="#333" stroke-width="0.8"/>
<line x1="362.60" y1="227.50" x2="371.70" y2="303.50" stroke="#333" stroke-width="0.6"/>
<line x1="369.40" y1="227.50" x2="509.50" y2="303.50" stroke="#333" stroke-width="0.6"/>
<rect x="371.7" y="303.5" width="137.8" height="61.2" fill="#fff" stroke="#333" stroke-width="0.8"/>
<line x1="390.40" y1="343.80" x2="509.00" y2="343.80" stroke="#e0e0e0" stroke-width="0.6"/>
<line x1="390.40" y1="326.00" x2="509.00" y2="326.00" stroke="#e0e0e0" stroke-width="0.6"/>
<line x1="390.40" y1="308.20" x2="509.00" y2="308.20" stroke="#e0e0e0" stroke-width="0.6"/>
<line x1="390.40" y1="304.00" x2="390.40" y2="364.50" stroke="#d8d8d8" stroke-width="0.6"/>
<text x="389.20" y="364.20" font-size="7.4" text-anchor="end" fill="#000">0%</text>
<text x="389.20" y="346.40" font-size="7.4" text-anchor="end" fill="#000">10%</text>
<text x="389.20" y="328.60" font-size="7.4" text-anchor="end" fill="#000">20%</text>
<text x="389.20" y="310.80" font-size="7.4" text-anchor="end" fill="#000">30%</text>
<path d="M390.4 361.7V311H392V317.6H395V323.9H396.6V330.2H400.8V336.7H414.7V343.3H431V348.9H506.5V355.4H509.3V361.7Z" fill="#e46c0a"/>
<text x="402.00" y="310.90" font-size="6.6" text-anchor="start" font-weight="bold" fill="#111">n=77 medulloblastoma-</text>
<text x="402.00" y="319.00" font-size="6.6" text-anchor="start" font-weight="bold" fill="#111">associated proteins  identified</text>
<text x="402.00" y="326.60" font-size="6.6" text-anchor="start" font-weight="bold" fill="#111">on ≥ 2 tumors</text>
<text x="548.00" y="331.80" font-size="5.6" text-anchor="middle" font-weight="bold" fill="#111">7474</text>
<text x="588.00" y="331.80" font-size="5.6" text-anchor="middle" font-weight="bold" fill="#111">9674</text>
<text x="625.30" y="331.80" font-size="5.6" text-anchor="middle" font-weight="bold" fill="#111">147</text>
</g>
<g id="pg">
<text x="0.80" y="283.00" font-size="10" text-anchor="start" font-weight="bold" fill="#000" stroke="#000" stroke-width="0.35">g</text>
<line x1="195.80" y1="290.50" x2="195.80" y2="426.00" stroke="#dcdcdc" stroke-width="0.7"/>
<line x1="236.30" y1="290.50" x2="236.30" y2="426.00" stroke="#dcdcdc" stroke-width="0.7"/>
<line x1="276.80" y1="290.50" x2="276.80" y2="426.00" stroke="#dcdcdc" stroke-width="0.7"/>
<line x1="317.30" y1="290.50" x2="317.30" y2="426.00" stroke="#dcdcdc" stroke-width="0.7"/>
<rect x="195.80" y="294.20" width="43.33" height="2.80" fill="#e46c0a"/>
<text x="191.30" y="297.40" font-size="5.1" text-anchor="end" fill="#1a1a1a">SERTA domain-containing protein 4 (SERTAD4)</text>
<rect x="195.80" y="303.10" width="43.33" height="2.80" fill="#e46c0a"/>
<text x="191.30" y="306.30" font-size="5.1" text-anchor="end" fill="#1a1a1a">vacuolar ATPase assembly integral membrane protein VMA21 (VMA21)</text>
<rect x="195.80" y="312.00" width="43.33" height="2.80" fill="#e46c0a"/>
<text x="191.30" y="315.20" font-size="5.1" text-anchor="end" fill="#1a1a1a">embryonal Fyn-associated substrate (EFS)</text>
<rect x="195.80" y="320.90" width="43.33" height="2.80" fill="#e46c0a"/>
<text x="191.30" y="324.10" font-size="5.1" text-anchor="end" fill="#1a1a1a">BTB/POZ domain-containing protein 17 (BTBD17)</text>
<rect x="195.80" y="329.80" width="43.33" height="2.80" fill="#e46c0a"/>
<text x="191.30" y="333.00" font-size="5.1" text-anchor="end" fill="#1a1a1a">oligodendrocyte transcription factor 3 (OLIG3)</text>
<rect x="195.80" y="338.70" width="43.33" height="2.80" fill="#e46c0a"/>
<text x="191.30" y="341.90" font-size="5.1" text-anchor="end" fill="#1a1a1a">neuronal migration protein doublecortin (DCX)</text>
<rect x="195.80" y="347.60" width="57.91" height="2.80" fill="#e46c0a"/>
<text x="191.30" y="350.80" font-size="5.1" text-anchor="end" fill="#1a1a1a">NADH dehydrogenase [ubiquinone] 1 alpha subcomplex subunit 4-like 2 (NDUFA4L2)</text>
<rect x="195.80" y="356.50" width="57.91" height="2.80" fill="#e46c0a"/>
<text x="191.30" y="359.70" font-size="5.1" text-anchor="end" fill="#1a1a1a">mitochondrial coenzyme Q-binding protein COQ10 homolog A (COQ10A)</text>
<rect x="195.80" y="365.40" width="57.91" height="2.80" fill="#e46c0a"/>
<text x="191.30" y="368.60" font-size="5.1" text-anchor="end" fill="#1a1a1a">insulin-like growth factor-binding protein-like 1 (IGFBPL1)</text>
<rect x="195.80" y="374.30" width="57.91" height="2.80" fill="#e46c0a"/>
<text x="191.30" y="377.50" font-size="5.1" text-anchor="end" fill="#1a1a1a">solute carrier family 22 member 1 (SLC22A1)</text>
<rect x="195.80" y="383.20" width="57.91" height="2.80" fill="#e46c0a"/>
<text x="191.30" y="386.40" font-size="5.1" text-anchor="end" fill="#1a1a1a">transcription factor HES-4 (HES4)</text>
<rect x="195.80" y="392.10" width="57.91" height="2.80" fill="#e46c0a"/>
<text x="191.30" y="395.30" font-size="5.1" text-anchor="end" fill="#1a1a1a">insulinoma-associated protein 2 (INSM2)</text>
<rect x="195.80" y="401.00" width="72.49" height="2.80" fill="#e46c0a"/>
<text x="191.30" y="404.20" font-size="5.1" text-anchor="end" fill="#1a1a1a">protein shisa-9 (SHISA9)</text>
<rect x="195.80" y="409.90" width="101.25" height="2.80" fill="#e46c0a"/>
<text x="191.30" y="413.10" font-size="5.1" text-anchor="end" fill="#1a1a1a">protein Wnt-5a (WNT5A)</text>
<rect x="195.80" y="418.80" width="115.83" height="2.80" fill="#e46c0a"/>
<text x="191.30" y="422.00" font-size="5.1" text-anchor="end" fill="#1a1a1a">serine protease inhibitor Kazal-type 8 (SPINK8)</text>
<text x="195.80" y="432.40" font-size="5.0" text-anchor="middle" fill="#222">0%</text>
<text x="236.30" y="432.40" font-size="5.0" text-anchor="middle" fill="#222">10%</text>
<text x="276.80" y="432.40" font-size="5.0" text-anchor="middle" fill="#222">20%</text>
<text x="317.30" y="432.40" font-size="5.0" text-anchor="middle" fill="#222">30%</text>
<text x="257.30" y="440.20" font-size="5.6" text-anchor="middle" font-weight="bold" fill="#111">Frequency of positive tumor HLA peptidomes</text>
</g>
<g id="ph">
<text x="0.50" y="465.30" font-size="10" text-anchor="start" font-weight="bold" fill="#000" stroke="#000" stroke-width="0.35">h</text>
<rect x="57.60" y="478.20" width="3.40" height="3.40" fill="#e46c0a"/>
<text x="64.00" y="482.10" font-size="6.5" text-anchor="start" fill="#000">Medulloblastoma (n=28)</text>
<rect x="182.70" y="478.20" width="3.40" height="3.40" fill="#a6a6a6"/>
<text x="188.20" y="482.10" font-size="6.5" text-anchor="start" fill="#000">Benign samples without testes (n=418)</text>
<line x1="37.20" y1="488.40" x2="328.60" y2="488.40" stroke="#c4c4c4" stroke-width="0.8"/>
<line x1="37.20" y1="502.15" x2="328.60" y2="502.15" stroke="#c4c4c4" stroke-width="0.8"/>
<line x1="37.20" y1="515.90" x2="328.60" y2="515.90" stroke="#c4c4c4" stroke-width="0.8"/>
<line x1="37.20" y1="529.65" x2="328.60" y2="529.65" stroke="#c4c4c4" stroke-width="0.8"/>
<line x1="37.20" y1="543.40" x2="328.60" y2="543.40" stroke="#c4c4c4" stroke-width="0.8"/>
<line x1="37.20" y1="557.15" x2="328.60" y2="557.15" stroke="#c4c4c4" stroke-width="0.8"/>
<line x1="37.20" y1="570.90" x2="328.60" y2="570.90" stroke="#c4c4c4" stroke-width="0.8"/>
<line x1="37.20" y1="584.65" x2="328.60" y2="584.65" stroke="#c4c4c4" stroke-width="0.8"/>
<line x1="37.20" y1="598.40" x2="328.60" y2="598.40" stroke="#c4c4c4" stroke-width="0.8"/>
<line x1="37.20" y1="612.15" x2="328.60" y2="612.15" stroke="#c4c4c4" stroke-width="0.8"/>
<line x1="37.20" y1="625.90" x2="328.60" y2="625.90" stroke="#c4c4c4" stroke-width="0.8"/>
<text x="32.80" y="490.90" font-size="7.2" text-anchor="end" fill="#000">100%</text>
<text x="32.80" y="504.65" font-size="7.2" text-anchor="end" fill="#000">80%</text>
<text x="32.80" y="518.40" font-size="7.2" text-anchor="end" fill="#000">60%</text>
<text x="32.80" y="532.15" font-size="7.2" text-anchor="end" fill="#000">40%</text>
<text x="32.80" y="545.90" font-size="7.2" text-anchor="end" fill="#000">20%</text>
<text x="32.80" y="559.65" font-size="7.2" text-anchor="end" fill="#000">0%</text>
<text x="32.80" y="573.40" font-size="7.2" text-anchor="end" fill="#000">20%</text>
<text x="32.80" y="587.15" font-size="7.2" text-anchor="end" fill="#000">40%</text>
<text x="32.80" y="600.90" font-size="7.2" text-anchor="end" fill="#000">60%</text>
<text x="32.80" y="614.65" font-size="7.2" text-anchor="end" fill="#000">80%</text>
<text x="32.80" y="628.40" font-size="7.2" text-anchor="end" fill="#000">100%</text>
<line x1="39.20" y1="488.40" x2="39.20" y2="626.00" stroke="#c4c4c4" stroke-width="0.8"/>
<text x="9.80" y="558.00" font-size="6.8" text-anchor="middle" font-weight="bold" fill="#000" transform="rotate(-90 9.8 558)">Frequency of positive HLA peptidomes</text>
<path d="M140.10 555.5V550.00H141.77V552.20H144.30V553.40H147.30V555.5Z" fill="#e46c0a"/>
<path d="M140.40 555.5V523.00M142.21 555.5V544.56M140.82 555.5V533.12M142.79 555.5V545.96M141.78 555.5V546.38M140.11 555.5V537.37M142.05 555.5V549.19M142.74 555.5V548.70M140.87 555.5V547.01" stroke="#e46c0a" stroke-width="0.35" stroke-opacity="0.85"/>
<path d="M147.40 555.5V550.00H149.02V552.20H151.50V553.40H154.50V555.5Z" fill="#e46c0a"/>
<path d="M147.70 555.5V530.40M150.24 555.5V547.85M147.51 555.5V542.64M149.01 555.5V549.68M150.48 555.5V550.09M147.90 555.5V536.75M147.80 555.5V534.46M148.87 555.5V544.55" stroke="#e46c0a" stroke-width="0.35" stroke-opacity="0.85"/>
<path d="M170.80 555.5V550.00H172.69V552.20H175.50V553.40H178.50V555.5Z" fill="#e46c0a"/>
<path d="M171.10 555.5V525.00M171.51 555.5V547.25M174.07 555.5V549.54M173.75 555.5V549.27M174.46 555.5V544.78M173.65 555.5V543.54M173.00 555.5V541.66M171.26 555.5V538.41M173.93 555.5V549.62M174.29 555.5V544.34" stroke="#e46c0a" stroke-width="0.35" stroke-opacity="0.85"/>
<path d="M176.00 555.5V550.00H179.56V552.20H184.40V553.40H187.40V555.5Z" fill="#e46c0a"/>
<path d="M176.30 555.5V520.90M179.21 555.5V542.94M183.07 555.5V548.20M176.19 555.5V543.20M181.11 555.5V538.71M179.53 555.5V541.93M179.91 555.5V539.06M177.58 555.5V535.38M179.96 555.5V540.91M177.28 555.5V543.40M178.48 555.5V532.32M178.46 555.5V537.93M178.18 555.5V546.02M176.47 555.5V527.32M181.52 555.5V546.55M180.86 555.5V541.99M182.39 555.5V541.83M178.89 555.5V532.64M182.84 555.5V546.06" stroke="#e46c0a" stroke-width="0.35" stroke-opacity="0.85"/>
<path d="M194.10 555.5V550.00H195.85V552.20H198.50V553.40H201.50V555.5Z" fill="#e46c0a"/>
<path d="M194.40 555.5V526.00M195.42 555.5V545.91M197.18 555.5V550.42M194.34 555.5V531.73M196.82 555.5V546.82M197.04 555.5V551.20M195.01 555.5V544.04M195.57 555.5V547.37M194.34 555.5V540.73" stroke="#e46c0a" stroke-width="0.35" stroke-opacity="0.85"/>
<path d="M199.00 555.5V550.00H201.70V552.20H205.50V553.40H208.50V555.5Z" fill="#e46c0a"/>
<path d="M199.30 555.5V525.30M203.03 555.5V546.40M200.36 555.5V532.71M201.84 555.5V541.04M199.15 555.5V542.33M203.53 555.5V544.31M203.76 555.5V546.48M201.30 555.5V541.56M203.59 555.5V548.84M201.89 555.5V546.77M203.15 555.5V551.20M202.70 555.5V540.77M199.13 555.5V534.39M202.48 555.5V541.28M202.16 555.5V547.42" stroke="#e46c0a" stroke-width="0.35" stroke-opacity="0.85"/>
<path d="M213.10 555.5V550.00H214.85V552.20H217.50V553.40H220.50V555.5Z" fill="#e46c0a"/>
<path d="M213.40 555.5V522.00M216.28 555.5V550.17M213.43 555.5V544.36M213.19 555.5V535.48M213.59 555.5V529.10M215.40 555.5V548.74M214.99 555.5V545.20M214.83 555.5V546.22M213.68 555.5V543.33" stroke="#e46c0a" stroke-width="0.35" stroke-opacity="0.85"/>
<path d="M218.00 555.5V550.00H220.38V552.20H223.80V553.40H226.80V555.5Z" fill="#e46c0a"/>
<path d="M218.30 555.5V520.90M220.62 555.5V548.87M221.39 555.5V540.00M221.69 555.5V541.88M218.04 555.5V534.05M218.30 555.5V528.39M218.84 555.5V532.33M219.21 555.5V534.34M219.50 555.5V547.17M219.85 555.5V543.38M222.30 555.5V548.38M220.40 555.5V541.18M222.52 555.5V550.55" stroke="#e46c0a" stroke-width="0.35" stroke-opacity="0.85"/>
<path d="M229.20 555.5V549.00H230.91V551.20H233.50V552.40H236.50V555.5Z" fill="#e46c0a"/>
<path d="M229.50 555.5V522.00M231.71 555.5V539.80M230.26 555.5V536.10M231.00 555.5V541.79M229.42 555.5V528.15M232.54 555.5V548.58M230.29 555.5V531.24M229.57 555.5V544.87M229.45 555.5V528.41" stroke="#e46c0a" stroke-width="0.35" stroke-opacity="0.85"/>
<path d="M234.00 555.5V549.00H235.49V551.20H237.80V552.40H240.80V555.5Z" fill="#e46c0a"/>
<path d="M234.30 555.5V525.30M235.85 555.5V550.41M235.91 555.5V545.83M235.54 555.5V545.19M235.19 555.5V546.25M234.14 555.5V538.14M234.73 555.5V536.80M236.43 555.5V544.74" stroke="#e46c0a" stroke-width="0.35" stroke-opacity="0.85"/>
<path d="M241.70 555.5V548.00H243.19V550.20H245.50V551.40H248.50V555.5Z" fill="#e46c0a"/>
<path d="M242.00 555.5V522.00M242.84 555.5V540.90M243.58 555.5V538.15M241.95 555.5V535.94M243.16 555.5V539.07M244.34 555.5V543.87M243.56 555.5V540.63M243.68 555.5V540.02" stroke="#e46c0a" stroke-width="0.35" stroke-opacity="0.85"/>
<path d="M246.00 555.5V548.00H247.35V550.20H249.50V551.40H252.50V555.5Z" fill="#e46c0a"/>
<path d="M246.30 555.5V521.60M246.66 555.5V530.52M247.04 555.5V538.67M248.23 555.5V541.02M248.67 555.5V551.66M246.84 555.5V542.65M247.06 555.5V546.29" stroke="#e46c0a" stroke-width="0.35" stroke-opacity="0.85"/>
<path d="M253.40 555.5V548.00H254.57V550.20H256.50V551.40H259.50V555.5Z" fill="#e46c0a"/>
<path d="M253.70 555.5V519.00M254.11 555.5V529.60M255.14 555.5V544.67M253.65 555.5V523.75M255.05 555.5V547.48M254.18 555.5V535.95" stroke="#e46c0a" stroke-width="0.35" stroke-opacity="0.85"/>
<path d="M257.00 555.5V548.00H258.31V550.20H260.40V551.40H263.40V555.5Z" fill="#e46c0a"/>
<path d="M257.30 555.5V518.70M259.48 555.5V548.03M257.66 555.5V530.05M257.40 555.5V530.98M257.52 555.5V533.85M257.72 555.5V539.74M259.46 555.5V546.50" stroke="#e46c0a" stroke-width="0.35" stroke-opacity="0.85"/>
<path d="M263.60 555.5V551.16H266.21V553.36H269.90V554.56H270.40V555.5Z" fill="#e46c0a"/>
<path d="M263.90 555.5V511.00M264.51 555.5V534.22M265.02 555.5V540.86M268.62 555.5V549.98M267.83 555.5V536.62M267.28 555.5V548.61M266.22 555.5V546.67M266.77 555.5V536.35M264.85 555.5V544.81M266.44 555.5V546.05M265.21 555.5V535.31M268.27 555.5V545.33M264.30 555.5V522.29M267.89 555.5V542.39" stroke="#e46c0a" stroke-width="0.35" stroke-opacity="0.85"/>
<path d="M271.60 555.5V550.57H273.89V552.77H277.20V553.97H277.70V555.5Z" fill="#e46c0a"/>
<path d="M271.90 555.5V508.50M274.13 555.5V543.12M275.28 555.5V536.74M275.85 555.5V538.38M271.68 555.5V522.83M271.97 555.5V515.18M275.03 555.5V536.98M272.46 555.5V542.19M275.34 555.5V540.43M274.45 555.5V539.58M275.27 555.5V544.17M272.84 555.5V535.86" stroke="#e46c0a" stroke-width="0.35" stroke-opacity="0.85"/>
<path d="M278.90 555.5V550.95H281.19V553.15H284.50V554.35H285.00V555.5Z" fill="#e46c0a"/>
<path d="M279.20 555.5V523.00M279.23 555.5V544.99M281.25 555.5V540.41M279.77 555.5V542.36M279.17 555.5V545.51M281.17 555.5V540.12M281.90 555.5V548.55M279.38 555.5V527.63M281.37 555.5V544.39M282.07 555.5V542.32M281.31 555.5V548.68M282.70 555.5V549.11" stroke="#e46c0a" stroke-width="0.35" stroke-opacity="0.85"/>
<path d="M285.50 555.5V550.56H287.48V552.76H290.40V553.96H290.90V555.5Z" fill="#e46c0a"/>
<path d="M285.80 555.5V511.40M287.99 555.5V545.57M288.31 555.5V541.50M286.14 555.5V521.91M288.69 555.5V537.11M288.19 555.5V545.39M288.58 555.5V536.62M287.61 555.5V531.28M289.34 555.5V545.92M289.23 555.5V539.07" stroke="#e46c0a" stroke-width="0.35" stroke-opacity="0.85"/>
<path d="M290.60 555.5V551.69H292.22V553.89H294.70V555.09H295.20V555.5Z" fill="#e46c0a"/>
<path d="M290.90 555.5V491.00M292.59 555.5V530.18M293.05 555.5V532.69M291.12 555.5V503.28M292.34 555.5V520.90M291.27 555.5V503.12M292.40 555.5V524.28M293.00 555.5V527.25" stroke="#e46c0a" stroke-width="0.35" stroke-opacity="0.85"/>
<path d="M295.00 555.5V551.04H296.62V553.24H299.10V554.44H299.60V555.5Z" fill="#e46c0a"/>
<path d="M295.30 555.5V518.70M295.58 555.5V534.63M297.64 555.5V546.48M295.42 555.5V545.21M296.37 555.5V538.47M295.09 555.5V528.05M295.68 555.5V544.33M298.01 555.5V545.81M297.90 555.5V545.58" stroke="#e46c0a" stroke-width="0.35" stroke-opacity="0.85"/>
<path d="M299.30 555.5V550.68H300.97V552.88H303.50V554.08H304.00V555.5Z" fill="#e46c0a"/>
<path d="M299.60 555.5V515.80M301.43 555.5V537.94M301.80 555.5V541.35M300.14 555.5V536.97M300.56 555.5V538.02M300.18 555.5V534.91M300.83 555.5V547.35M302.04 555.5V543.11M301.97 555.5V540.99" stroke="#e46c0a" stroke-width="0.35" stroke-opacity="0.85"/>
<path d="M304.50 555.5V551.60H305.81V553.80H307.90V555.00H308.40V555.5Z" fill="#e46c0a"/>
<path d="M304.80 555.5V530.40M305.53 555.5V550.38M306.23 555.5V546.37M306.00 555.5V541.42M305.01 555.5V546.04M306.42 555.5V545.04M305.76 555.5V550.26" stroke="#e46c0a" stroke-width="0.35" stroke-opacity="0.85"/>
<path d="M308.10 555.5V551.06H309.41V553.26H311.50V554.46H312.00V555.5Z" fill="#e46c0a"/>
<path d="M308.40 555.5V535.00M309.30 555.5V548.10M309.74 555.5V547.64M309.91 555.5V546.22M310.06 555.5V550.06M308.75 555.5V541.98M310.17 555.5V546.69" stroke="#e46c0a" stroke-width="0.35" stroke-opacity="0.85"/>
<path d="M311.80 555.5V550.80H313.11V553.00H315.20V554.20H315.70V555.5Z" fill="#e46c0a"/>
<path d="M312.10 555.5V540.00M312.00 555.5V548.10M313.45 555.5V552.19M313.97 555.5V552.22M313.58 555.5V551.53M312.37 555.5V549.96M313.10 555.5V547.97" stroke="#e46c0a" stroke-width="0.35" stroke-opacity="0.85"/>
<path d="M314.70 555.5V550.83H316.19V553.03H318.50V554.23H319.00V555.5Z" fill="#e46c0a"/>
<path d="M315.00 555.5V534.00M316.63 555.5V549.24M315.27 555.5V548.43M314.87 555.5V539.52M315.93 555.5V550.01M317.32 555.5V548.74M314.76 555.5V538.51M316.47 555.5V548.26" stroke="#e46c0a" stroke-width="0.35" stroke-opacity="0.85"/>
<path d="M318.00 555.5V551.25H319.35V553.45H321.50V554.65H322.00V555.5Z" fill="#e46c0a"/>
<path d="M318.30 555.5V538.00M319.72 555.5V548.60M318.99 555.5V548.91M320.04 555.5V549.37M319.23 555.5V548.19M318.60 555.5V543.57M318.05 555.5V542.63" stroke="#e46c0a" stroke-width="0.35" stroke-opacity="0.85"/>
<path d="M321.00 555.5V551.18H322.57V553.38H325.00V554.58H325.50V555.5Z" fill="#e46c0a"/>
<path d="M321.30 555.5V534.00M322.84 555.5V551.17M322.54 555.5V550.03M323.52 555.5V550.39M322.03 555.5V548.52M321.15 555.5V546.68M321.48 555.5V541.89M323.67 555.5V551.31" stroke="#e46c0a" stroke-width="0.35" stroke-opacity="0.85"/>
<path d="M324.50 555.5V550.67H326.30V552.87H329.00V554.07H329.50V555.5Z" fill="#e46c0a"/>
<path d="M324.80 555.5V540.00M325.96 555.5V546.89M325.23 555.5V545.51M326.44 555.5V552.25M325.37 555.5V546.75M324.85 555.5V549.27M326.58 555.5V547.90M326.37 555.5V548.46M324.53 555.5V547.64M325.65 555.5V544.91" stroke="#e46c0a" stroke-width="0.35" stroke-opacity="0.85"/>
<polygon points="140.10,557.90 140.10,558.41 140.45,558.49 140.79,558.39 141.14,558.45 141.48,558.37 141.83,558.37 142.18,558.43 142.52,558.33 142.87,558.34 143.22,558.29 143.56,558.24 143.91,558.19 144.25,558.09 144.60,557.90 144.60,557.90" fill="#b0b0b0" fill-opacity="0.85"/>
<path d="M140.49 557.90V559.06M140.19 557.90V559.11M141.88 557.90V559.72M141.75 557.90V558.78M141.23 557.90V559.92M140.38 557.90V559.58M141.75 557.90V559.50M141.58 557.90V559.56M142.27 557.90V559.39" stroke="#a8a8a8" stroke-width="0.5" stroke-opacity="0.55"/>
<polygon points="147.40,557.90 147.40,558.49 147.74,558.45 148.08,558.39 148.42,558.37 148.75,558.46 149.09,558.40 149.43,558.35 149.77,558.40 150.11,558.33 150.45,558.31 150.78,558.27 151.12,558.17 151.46,558.10 151.80,557.90 151.80,557.90" fill="#b0b0b0" fill-opacity="0.85"/>
<path d="M147.98 557.90V559.73M147.82 557.90V559.66M150.40 557.90V559.36M151.00 557.90V558.73M148.24 557.90V558.90M149.66 557.90V559.21M147.70 557.90V559.89M149.57 557.90V559.43" stroke="#a8a8a8" stroke-width="0.5" stroke-opacity="0.55"/>
<polygon points="170.80,557.90 170.80,559.25 171.13,559.26 171.47,559.17 171.80,559.26 172.13,559.22 172.47,559.23 172.80,559.18 173.13,559.27 173.47,559.22 173.80,558.97 174.13,558.95 174.47,558.81 174.80,558.80 175.13,558.69 175.47,558.38 175.80,557.90 175.80,557.90" fill="#b0b0b0" fill-opacity="0.85"/>
<path d="M172.26 557.90V560.48M174.51 557.90V561.19M171.63 557.90V563.42M171.92 557.90V563.22M172.96 557.90V562.83M173.65 557.90V561.79M171.26 557.90V561.33M171.32 557.90V563.89M172.55 557.90V564.72M173.25 557.90V563.84M175.55 557.90V558.55" stroke="#a8a8a8" stroke-width="0.5" stroke-opacity="0.55"/>
<polygon points="176.00,557.90 176.00,559.19 176.33,559.22 176.67,559.30 177.00,559.35 177.34,559.40 177.67,559.27 178.01,559.45 178.34,559.13 178.68,559.37 179.01,559.16 179.35,559.34 179.68,559.07 180.02,559.31 180.35,559.22 180.68,559.25 181.02,559.10 181.35,558.95 181.69,559.10 182.02,558.93 182.36,558.79 182.69,558.84 183.03,558.75 183.36,558.66 183.70,558.52 184.03,558.41 184.37,558.30 184.70,557.90 184.70,557.90" fill="#b0b0b0" fill-opacity="0.85"/>
<path d="M177.07 557.90V563.47M182.12 557.90V562.66M179.98 557.90V562.65M179.04 557.90V562.03M177.67 557.90V563.44M176.91 557.90V564.82M181.98 557.90V562.45M176.19 557.90V563.12M179.65 557.90V561.06M184.17 557.90V559.69M180.24 557.90V563.84M177.69 557.90V562.26M180.44 557.90V563.89M181.46 557.90V559.88M181.17 557.90V564.01M182.27 557.90V563.12M184.28 557.90V558.74M178.50 557.90V563.77M184.24 557.90V559.02" stroke="#a8a8a8" stroke-width="0.5" stroke-opacity="0.55"/>
<polygon points="194.10,557.90 194.10,559.48 194.44,559.45 194.77,559.33 195.11,559.35 195.44,559.42 195.78,559.33 196.11,559.14 196.45,559.24 196.79,559.00 197.12,558.97 197.46,559.01 197.79,558.86 198.13,558.61 198.46,558.41 198.80,557.90 198.80,557.90" fill="#b0b0b0" fill-opacity="0.85"/>
<path d="M197.94 557.90V561.55M198.37 557.90V560.35M197.84 557.90V561.57M195.75 557.90V563.08M196.33 557.90V563.18M197.92 557.90V560.46M194.41 557.90V564.88M195.33 557.90V563.21M194.63 557.90V565.25M195.35 557.90V562.54" stroke="#a8a8a8" stroke-width="0.5" stroke-opacity="0.55"/>
<polygon points="199.00,557.90 199.00,559.44 199.34,559.34 199.68,559.26 200.02,559.45 200.36,559.28 200.70,559.25 201.04,559.42 201.38,559.34 201.72,559.29 202.06,559.11 202.40,559.23 202.74,559.13 203.08,559.14 203.42,558.96 203.76,558.99 204.10,558.91 204.44,558.74 204.78,558.68 205.12,558.57 205.46,558.40 205.80,557.90 205.80,557.90" fill="#b0b0b0" fill-opacity="0.85"/>
<path d="M204.19 557.90V560.27M203.03 557.90V563.27M199.57 557.90V563.61M204.73 557.90V561.72M205.10 557.90V559.23M203.00 557.90V563.90M203.31 557.90V561.68M199.26 557.90V565.67M204.67 557.90V561.30M201.42 557.90V564.79M204.37 557.90V561.93M202.96 557.90V561.88M200.96 557.90V562.86M201.16 557.90V563.59" stroke="#a8a8a8" stroke-width="0.5" stroke-opacity="0.55"/>
<polygon points="213.10,557.90 213.10,560.45 213.44,560.82 213.77,560.57 214.11,560.42 214.44,560.43 214.78,560.44 215.11,560.38 215.45,560.47 215.79,559.99 216.12,559.91 216.46,559.76 216.79,559.50 217.13,559.42 217.46,558.85 217.80,557.90 217.80,557.90" fill="#b0b0b0" fill-opacity="0.85"/>
<path d="M215.63 557.90V569.48M216.86 557.90V564.87M214.59 557.90V572.22M216.46 557.90V565.72M215.67 557.90V570.79M217.65 557.90V559.03M213.70 557.90V567.79M214.96 557.90V565.27M216.57 557.90V562.06M217.15 557.90V563.70M215.90 557.90V566.52M217.37 557.90V562.29" stroke="#a8a8a8" stroke-width="0.5" stroke-opacity="0.55"/>
<polygon points="218.00,557.90 218.00,560.94 218.34,560.95 218.68,560.79 219.02,560.95 219.36,560.61 219.69,560.50 220.03,560.73 220.37,560.49 220.71,560.29 221.05,560.41 221.39,560.21 221.73,559.93 222.07,560.14 222.41,559.83 222.74,559.84 223.08,559.45 223.42,559.30 223.76,558.77 224.10,557.90 224.10,557.90" fill="#b0b0b0" fill-opacity="0.85"/>
<path d="M221.12 557.90V569.96M222.88 557.90V565.33M218.74 557.90V568.52M218.21 557.90V568.36M223.59 557.90V561.24M222.14 557.90V567.13M218.85 557.90V571.27M218.47 557.90V566.16M221.43 557.90V564.01M223.71 557.90V560.81M221.73 557.90V570.18M218.64 557.90V573.90M218.23 557.90V570.61M221.88 557.90V569.97M220.12 557.90V572.54" stroke="#a8a8a8" stroke-width="0.5" stroke-opacity="0.55"/>
<polygon points="229.20,557.90 229.20,560.78 229.55,560.67 229.91,560.45 230.26,560.46 230.62,560.48 230.97,560.39 231.32,560.30 231.68,560.41 232.03,560.04 232.38,559.97 232.74,559.50 233.09,559.27 233.45,559.02 233.80,557.90 233.80,557.90" fill="#b0b0b0" fill-opacity="0.85"/>
<path d="M230.60 557.90V563.46M230.24 557.90V567.96M230.83 557.90V569.40M230.55 557.90V570.43M232.71 557.90V566.76M232.51 557.90V566.33M230.36 557.90V572.20M230.49 557.90V572.23M231.20 557.90V569.51M231.43 557.90V569.34M230.72 557.90V569.66" stroke="#a8a8a8" stroke-width="0.5" stroke-opacity="0.55"/>
<polygon points="234.00,557.90 234.00,560.84 234.34,560.59 234.68,560.71 235.03,560.58 235.37,560.51 235.71,560.37 236.05,560.34 236.39,560.27 236.73,559.83 237.08,559.60 237.42,559.55 237.76,558.91 238.10,557.90 238.10,557.90" fill="#b0b0b0" fill-opacity="0.85"/>
<path d="M237.02 557.90V563.57M236.53 557.90V564.95M237.51 557.90V561.89M234.46 557.90V563.80M236.86 557.90V563.90M235.25 557.90V573.01M236.93 557.90V567.33M236.29 557.90V568.59M234.04 557.90V572.47M235.31 557.90V572.00" stroke="#a8a8a8" stroke-width="0.5" stroke-opacity="0.55"/>
<polygon points="241.70,557.90 241.70,560.64 242.04,560.93 242.38,560.35 242.72,560.89 243.07,560.29 243.41,560.44 243.75,560.31 244.09,560.41 244.43,560.08 244.78,559.94 245.12,559.58 245.46,559.00 245.80,557.90 245.80,557.90" fill="#b0b0b0" fill-opacity="0.85"/>
<path d="M242.28 557.90V571.45M245.48 557.90V562.00M243.08 557.90V569.80M244.31 557.90V564.79M244.46 557.90V564.00M241.81 557.90V564.38M243.64 557.90V569.75M242.60 557.90V568.36M244.46 557.90V564.57M243.78 557.90V568.76" stroke="#a8a8a8" stroke-width="0.5" stroke-opacity="0.55"/>
<polygon points="246.00,557.90 246.00,560.63 246.35,560.50 246.69,560.76 247.04,560.70 247.38,560.32 247.73,560.55 248.07,560.32 248.42,560.23 248.76,559.93 249.11,559.50 249.45,559.12 249.80,557.90 249.80,557.90" fill="#b0b0b0" fill-opacity="0.85"/>
<path d="M248.41 557.90V563.04M247.27 557.90V569.00M249.26 557.90V564.15M249.35 557.90V564.17M249.58 557.90V560.99M248.27 557.90V566.92M246.82 557.90V571.98M248.25 557.90V564.22M246.88 557.90V566.39" stroke="#a8a8a8" stroke-width="0.5" stroke-opacity="0.55"/>
<polygon points="253.40,557.90 253.40,561.77 253.74,561.65 254.08,561.28 254.42,561.57 254.76,561.33 255.10,560.93 255.44,560.82 255.78,560.82 256.12,559.94 256.46,559.41 256.80,557.90 256.80,557.90" fill="#b0b0b0" fill-opacity="0.85"/>
<path d="M256.17 557.90V573.60M254.72 557.90V582.25M253.79 557.90V577.61M256.23 557.90V570.72M254.87 557.90V579.14M255.01 557.90V577.86M256.32 557.90V571.80M254.06 557.90V583.70M256.52 557.90V565.73M255.05 557.90V574.86" stroke="#a8a8a8" stroke-width="0.5" stroke-opacity="0.55"/>
<polygon points="257.00,557.90 257.00,561.58 257.34,561.64 257.67,561.62 258.01,561.15 258.35,561.72 258.68,561.02 259.02,561.03 259.35,560.56 259.69,560.51 260.03,559.82 260.36,559.38 260.70,557.90 260.70,557.90" fill="#b0b0b0" fill-opacity="0.85"/>
<path d="M258.12 557.90V578.57M257.57 557.90V579.46M259.86 557.90V572.59M260.48 557.90V565.02M258.71 557.90V576.71M259.74 557.90V576.21M258.94 557.90V578.84M259.48 557.90V573.99M258.82 557.90V575.25M258.61 557.90V577.14M259.88 557.90V566.76" stroke="#a8a8a8" stroke-width="0.5" stroke-opacity="0.55"/>
<polygon points="263.60,557.90 263.60,561.28 263.95,561.93 264.29,561.58 264.64,561.70 264.99,561.84 265.34,561.65 265.68,561.45 266.03,561.68 266.38,561.34 266.73,561.11 267.07,560.82 267.42,560.68 267.77,560.95 268.12,560.83 268.46,560.32 268.81,560.18 269.16,559.97 269.51,559.59 269.85,559.02 270.20,557.90 270.20,557.90" fill="#b0b0b0" fill-opacity="0.85"/>
<path d="M267.13 557.90V579.31M268.01 557.90V573.03M268.09 557.90V569.03M267.11 557.90V578.51M267.63 557.90V571.84M264.76 557.90V570.95M264.39 557.90V573.26M266.71 557.90V578.20M268.12 557.90V572.67M268.52 557.90V564.84M265.83 557.90V570.82M266.91 557.90V577.84M267.33 557.90V574.92M265.96 557.90V575.28M264.28 557.90V573.51M266.71 557.90V578.17M264.24 557.90V585.52M263.78 557.90V571.87M266.47 557.90V574.70M266.93 557.90V579.49M267.41 557.90V579.46" stroke="#a8a8a8" stroke-width="0.5" stroke-opacity="0.55"/>
<polygon points="271.60,557.90 271.60,561.57 271.95,561.73 272.29,561.50 272.64,561.23 272.99,561.15 273.34,561.18 273.68,561.31 274.03,561.10 274.38,561.20 274.72,561.15 275.07,561.16 275.42,560.49 275.76,560.78 276.11,560.01 276.46,560.17 276.81,559.82 277.15,559.11 277.50,557.90 277.50,557.90" fill="#b0b0b0" fill-opacity="0.85"/>
<path d="M274.49 557.90V577.84M276.51 557.90V572.95M273.32 557.90V573.47M276.84 557.90V567.36M276.76 557.90V564.97M276.46 557.90V565.75M272.44 557.90V575.56M276.91 557.90V565.33M274.12 557.90V573.94M272.03 557.90V578.76M274.44 557.90V574.23M275.78 557.90V570.40M277.21 557.90V563.68M274.91 557.90V568.73M274.80 557.90V577.89M275.32 557.90V573.56M275.75 557.90V578.60M275.62 557.90V565.93" stroke="#a8a8a8" stroke-width="0.5" stroke-opacity="0.55"/>
<polygon points="278.90,557.90 278.90,561.70 279.25,561.68 279.59,561.60 279.94,561.89 280.29,561.13 280.64,561.05 280.98,561.52 281.33,560.96 281.68,560.89 282.02,561.25 282.37,560.79 282.72,560.95 283.06,560.69 283.41,560.36 283.76,559.93 284.11,559.48 284.45,559.28 284.80,557.90 284.80,557.90" fill="#b0b0b0" fill-opacity="0.85"/>
<path d="M284.15 557.90V566.72M280.51 557.90V581.16M281.30 557.90V572.12M279.55 557.90V578.05M279.75 557.90V575.12M284.49 557.90V564.07M283.97 557.90V568.22M283.27 557.90V567.58M282.45 557.90V581.20M283.43 557.90V576.20M282.49 557.90V572.05M279.02 557.90V575.36M283.64 557.90V570.49M282.47 557.90V579.08M280.59 557.90V571.63M283.98 557.90V568.87M279.06 557.90V583.28M283.03 557.90V576.22" stroke="#a8a8a8" stroke-width="0.5" stroke-opacity="0.55"/>
<polygon points="285.50,557.90 285.50,561.29 285.85,561.40 286.19,561.74 286.54,561.65 286.89,561.33 287.23,561.74 287.58,561.13 287.93,561.45 288.27,560.77 288.62,560.82 288.97,560.95 289.31,560.52 289.66,560.24 290.01,559.90 290.35,559.26 290.70,557.90 290.70,557.90" fill="#b0b0b0" fill-opacity="0.85"/>
<path d="M289.66 557.90V570.66M290.33 557.90V565.48M285.51 557.90V575.74M289.96 557.90V564.29M285.58 557.90V581.35M289.00 557.90V579.37M290.36 557.90V564.45M289.03 557.90V574.01M289.79 557.90V571.25M286.15 557.90V581.91M285.75 557.90V576.71M287.18 557.90V585.16M286.61 557.90V577.08M288.35 557.90V571.09M287.79 557.90V573.97M289.14 557.90V576.56" stroke="#a8a8a8" stroke-width="0.5" stroke-opacity="0.55"/>
<polygon points="290.60,557.90 290.60,563.49 290.94,563.82 291.28,563.31 291.62,563.53 291.95,562.65 292.29,562.84 292.63,562.58 292.97,562.92 293.31,562.23 293.65,561.75 293.98,561.54 294.32,561.12 294.66,560.17 295.00,557.90 295.00,557.90" fill="#b0b0b0" fill-opacity="0.85"/>
<path d="M293.44 557.90V580.81M293.00 557.90V576.55M291.95 557.90V576.49M292.04 557.90V581.38M294.28 557.90V567.50M292.27 557.90V575.90M292.66 557.90V569.82M293.26 557.90V582.68M294.49 557.90V566.90M291.32 557.90V586.87M293.82 557.90V569.50M290.86 557.90V586.11M292.22 557.90V581.38M293.01 557.90V584.41M291.14 557.90V577.26" stroke="#a8a8a8" stroke-width="0.5" stroke-opacity="0.55"/>
<polygon points="295.00,557.90 295.00,562.82 295.34,563.60 295.68,562.82 296.02,563.66 296.35,563.25 296.69,562.98 297.03,562.52 297.37,562.91 297.71,561.86 298.05,561.93 298.38,561.67 298.72,560.93 299.06,559.80 299.40,557.90 299.40,557.90" fill="#b0b0b0" fill-opacity="0.85"/>
<path d="M296.22 557.90V586.07M295.58 557.90V590.94M298.78 557.90V570.13M298.74 557.90V571.17M295.68 557.90V580.50M295.10 557.90V581.52M299.22 557.90V561.25M297.83 557.90V574.27M297.88 557.90V573.64M298.90 557.90V567.27M296.15 557.90V580.48M295.32 557.90V579.05M298.15 557.90V573.33M296.91 557.90V574.79M298.52 557.90V576.09" stroke="#a8a8a8" stroke-width="0.5" stroke-opacity="0.55"/>
<polygon points="299.30,557.90 299.30,563.28 299.65,562.77 299.99,563.24 300.34,563.69 300.68,563.30 301.03,562.66 301.38,562.34 301.72,562.92 302.07,561.82 302.42,561.96 302.76,561.48 303.11,560.62 303.45,559.98 303.80,557.90 303.80,557.90" fill="#b0b0b0" fill-opacity="0.85"/>
<path d="M303.65 557.90V558.91M299.44 557.90V577.41M299.52 557.90V590.75M299.65 557.90V579.90M303.04 557.90V570.36M300.32 557.90V571.18M300.29 557.90V578.11M303.00 557.90V570.40M301.71 557.90V574.23M301.08 557.90V587.92M299.80 557.90V586.56M300.67 557.90V579.92M302.44 557.90V572.93M301.43 557.90V579.42M301.42 557.90V570.22M301.01 557.90V578.46" stroke="#a8a8a8" stroke-width="0.5" stroke-opacity="0.55"/>
<polygon points="304.50,557.90 304.50,563.29 304.84,563.11 305.17,563.24 305.51,563.46 305.85,562.53 306.18,562.33 306.52,562.54 306.85,562.21 307.19,561.92 307.53,560.73 307.86,559.94 308.20,557.90 308.20,557.90" fill="#b0b0b0" fill-opacity="0.85"/>
<path d="M305.27 557.90V582.11M305.56 557.90V571.81M306.51 557.90V575.18M306.25 557.90V585.73M306.11 557.90V585.94M305.55 557.90V574.60M305.94 557.90V576.62M307.11 557.90V568.66M307.10 557.90V570.67M305.97 557.90V574.69M305.02 557.90V573.96M308.04 557.90V560.39M307.82 557.90V567.08" stroke="#a8a8a8" stroke-width="0.5" stroke-opacity="0.55"/>
<polygon points="308.10,557.90 308.10,563.86 308.44,562.98 308.77,563.40 309.11,563.40 309.45,562.79 309.78,562.91 310.12,562.91 310.45,562.06 310.79,561.27 311.13,561.13 311.46,560.33 311.80,557.90 311.80,557.90" fill="#b0b0b0" fill-opacity="0.85"/>
<path d="M311.11 557.90V569.75M309.72 557.90V578.87M308.44 557.90V571.83M310.39 557.90V582.71M308.76 557.90V589.83M309.27 557.90V579.82M308.25 557.90V568.88M310.17 557.90V584.17M310.38 557.90V570.21M310.47 557.90V569.86M309.79 557.90V584.16M309.49 557.90V577.20M309.25 557.90V577.11" stroke="#a8a8a8" stroke-width="0.5" stroke-opacity="0.55"/>
<polygon points="311.80,557.90 311.80,562.80 312.14,563.64 312.47,563.17 312.81,562.81 313.15,562.80 313.48,562.29 313.82,562.47 314.15,562.21 314.49,561.77 314.83,561.02 315.16,560.44 315.50,557.90 315.50,557.90" fill="#b0b0b0" fill-opacity="0.85"/>
<path d="M312.50 557.90V583.56M313.28 557.90V576.65M314.40 557.90V575.27M313.83 557.90V581.54M313.31 557.90V580.73M315.34 557.90V560.54M313.47 557.90V581.95M314.54 557.90V567.34M312.21 557.90V577.48M314.19 557.90V571.48M311.93 557.90V581.11M312.35 557.90V586.14M315.21 557.90V567.28" stroke="#a8a8a8" stroke-width="0.5" stroke-opacity="0.55"/>
<polygon points="314.70,557.90 314.70,563.47 315.04,563.26 315.38,562.74 315.73,563.14 316.07,563.10 316.41,562.67 316.75,562.56 317.09,562.80 317.43,561.88 317.77,561.34 318.12,560.90 318.46,560.31 318.80,557.90 318.80,557.90" fill="#b0b0b0" fill-opacity="0.85"/>
<path d="M316.56 557.90V587.90M316.80 557.90V575.66M316.02 557.90V584.95M315.22 557.90V590.88M317.45 557.90V581.41M315.34 557.90V569.39M315.98 557.90V580.86M316.80 557.90V581.13M314.84 557.90V590.91M315.30 557.90V575.28M315.20 557.90V580.10M315.34 557.90V586.61M316.10 557.90V572.71M316.16 557.90V586.77" stroke="#a8a8a8" stroke-width="0.5" stroke-opacity="0.55"/>
<polygon points="318.00,557.90 318.00,563.45 318.35,562.84 318.69,563.40 319.04,563.17 319.38,563.04 319.73,563.06 320.07,562.14 320.42,562.32 320.76,561.90 321.11,561.35 321.45,560.13 321.80,557.90 321.80,557.90" fill="#b0b0b0" fill-opacity="0.85"/>
<path d="M320.62 557.90V581.89M321.58 557.90V564.37M319.18 557.90V588.95M318.56 557.90V585.34M321.16 557.90V571.40M320.74 557.90V573.60M320.59 557.90V570.94M320.51 557.90V569.77M318.64 557.90V573.32M319.19 557.90V568.22M320.59 557.90V581.13M321.09 557.90V564.88M319.82 557.90V571.85" stroke="#a8a8a8" stroke-width="0.5" stroke-opacity="0.55"/>
<polygon points="321.00,557.90 321.00,563.48 321.36,562.78 321.72,563.86 322.07,563.16 322.43,562.70 322.79,562.80 323.15,562.46 323.51,562.34 323.87,561.91 324.23,561.91 324.58,560.81 324.94,559.88 325.30,557.90 325.30,557.90" fill="#b0b0b0" fill-opacity="0.85"/>
<path d="M322.99 557.90V577.09M325.02 557.90V566.41M322.71 557.90V572.68M324.68 557.90V572.42M324.86 557.90V566.54M321.98 557.90V582.59M323.20 557.90V582.93M321.58 557.90V591.08M323.24 557.90V574.98M323.51 557.90V568.92M324.45 557.90V572.31M321.85 557.90V570.82M323.22 557.90V583.80M322.00 557.90V590.30M323.54 557.90V577.88" stroke="#a8a8a8" stroke-width="0.5" stroke-opacity="0.55"/>
<polygon points="324.50,557.90 324.50,563.96 324.84,563.20 325.19,563.58 325.53,563.12 325.87,562.99 326.21,563.06 326.56,563.36 326.90,562.23 327.24,562.30 327.59,561.69 327.93,561.67 328.27,560.97 328.61,560.92 328.96,560.02 329.30,557.90 329.30,557.90" fill="#b0b0b0" fill-opacity="0.85"/>
<path d="M327.92 557.90V572.58M327.38 557.90V571.14M326.52 557.90V571.57M329.00 557.90V565.05M325.68 557.90V582.75M326.32 557.90V587.54M327.65 557.90V579.23M327.41 557.90V570.86M327.15 557.90V583.79M326.23 557.90V567.91M325.94 557.90V569.02M327.14 557.90V578.03M325.01 557.90V589.50M325.67 557.90V580.87M325.19 557.90V583.04M327.16 557.90V581.66M324.56 557.90V574.61" stroke="#a8a8a8" stroke-width="0.5" stroke-opacity="0.55"/>
<path d="M291.6 558V598.7M286 558V592M297 558V588M275 558V590" stroke="#a0a0a0" stroke-width="0.5"/>
<path d="M240 558L328.6 558L328.6 566Q300 562 240 559Z" fill="#a5a5a5" fill-opacity="0.8"/>
<rect x="39.20" y="554.70" width="289.40" height="3.25" fill="#e46c0a"/>
<path d="M39.4 555V544.3H41V549.3H43V552.5H57V555Z" fill="#e46c0a"/>
<line x1="39.70" y1="555.00" x2="39.70" y2="535.60" stroke="#e46c0a" stroke-width="0.4"/>
<rect x="37.2" y="533.4" width="22.4" height="26.3" fill="none" stroke="#333" stroke-width="0.8"/>
<line x1="37.20" y1="559.70" x2="43.40" y2="611.00" stroke="#333" stroke-width="0.6"/>
<line x1="59.60" y1="559.70" x2="204.60" y2="611.00" stroke="#333" stroke-width="0.6"/>
<rect x="43.4" y="611" width="161.2" height="63.6" fill="#fff" stroke="#333" stroke-width="0.8"/>
<line x1="61.70" y1="653.10" x2="204.00" y2="653.10" stroke="#e6e6e6" stroke-width="0.6"/>
<line x1="61.70" y1="635.40" x2="204.00" y2="635.40" stroke="#e6e6e6" stroke-width="0.6"/>
<line x1="61.70" y1="617.70" x2="204.00" y2="617.70" stroke="#e6e6e6" stroke-width="0.6"/>
<line x1="61.70" y1="611.50" x2="61.70" y2="674.00" stroke="#d8d8d8" stroke-width="0.6"/>
<text x="59.40" y="673.30" font-size="7.2" text-anchor="end" fill="#000">0%</text>
<text x="59.40" y="655.60" font-size="7.2" text-anchor="end" fill="#000">10%</text>
<text x="59.40" y="637.90" font-size="7.2" text-anchor="end" fill="#000">20%</text>
<text x="59.40" y="620.20" font-size="7.2" text-anchor="end" fill="#000">30%</text>
<path d="M61.7 671V625.5H62.5V636H64V645.4H70.6V651.5H93V658.2H202V664H204.2V671Z" fill="#e46c0a"/>
<text x="74.50" y="623.80" font-size="6.2" text-anchor="start" font-weight="bold" fill="#111">n=1963 medulloblastoma-associated</text>
<text x="74.50" y="631.40" font-size="6.2" text-anchor="start" font-weight="bold" fill="#111">peptides identified on ≥ 2 tumors</text>
<circle cx="269.4" cy="641.7" r="37" fill="#f3f3f3" stroke="#8c8c8c" stroke-width="0.6"/>
<circle cx="298.2" cy="641.8" r="17.2" fill="#fcefe6" stroke="#e8883a" stroke-width="0.9"/>
<clipPath id="cpH"><circle cx="269.4" cy="641.7" r="37"/></clipPath>
<circle cx="298.2" cy="641.8" r="17.2" fill="#f0e6df" clip-path="url(#cpH)"/>
<circle cx="269.4" cy="641.7" r="37" fill="none" stroke="#8c8c8c" stroke-width="0.6"/>
<circle cx="298.2" cy="641.8" r="17.2" fill="none" stroke="#e8883a" stroke-width="0.9"/>
<text x="253.30" y="644.00" font-size="5.6" text-anchor="middle" font-weight="bold" fill="#111">127495</text>
<text x="293.90" y="644.00" font-size="5.6" text-anchor="middle" font-weight="bold" fill="#111">24312</text>
<text x="323.00" y="644.00" font-size="5.6" text-anchor="middle" font-weight="bold" fill="#111">7887</text>
</g>
<g id="pi">
<rect x="365.60" y="459.60" width="1.90" height="6.00" fill="#000"/>
<rect x="389.05" y="552.92" width="3.30" height="13.58" fill="#a2a2a2"/>
<rect x="394.56" y="535.31" width="3.30" height="31.19" fill="#a2a2a2"/>
<rect x="400.06" y="526.76" width="3.30" height="39.74" fill="#a2a2a2"/>
<rect x="405.57" y="524.25" width="3.30" height="42.25" fill="#a2a2a2"/>
<rect x="411.08" y="525.25" width="3.30" height="41.25" fill="#a2a2a2"/>
<rect x="416.59" y="528.77" width="3.30" height="37.73" fill="#a2a2a2"/>
<rect x="422.09" y="502.12" width="3.30" height="64.38" fill="#a2a2a2"/>
<rect x="427.60" y="490.04" width="3.30" height="76.46" fill="#a2a2a2"/>
<rect x="433.11" y="499.60" width="3.30" height="66.90" fill="#a2a2a2"/>
<rect x="438.61" y="508.15" width="3.30" height="58.35" fill="#a2a2a2"/>
<rect x="444.12" y="514.69" width="3.30" height="51.81" fill="#a2a2a2"/>
<rect x="449.63" y="521.73" width="3.30" height="44.77" fill="#a2a2a2"/>
<rect x="455.13" y="531.79" width="3.30" height="34.71" fill="#a2a2a2"/>
<rect x="460.64" y="540.85" width="3.30" height="25.65" fill="#a2a2a2"/>
<rect x="466.15" y="547.89" width="3.30" height="18.61" fill="#a2a2a2"/>
<rect x="471.65" y="551.41" width="3.30" height="15.09" fill="#a2a2a2"/>
<rect x="477.16" y="555.43" width="3.30" height="11.07" fill="#a2a2a2"/>
<rect x="482.67" y="559.46" width="3.30" height="7.04" fill="#a2a2a2"/>
<rect x="488.18" y="561.97" width="3.30" height="4.53" fill="#a2a2a2"/>
<rect x="493.68" y="563.48" width="3.30" height="3.02" fill="#a2a2a2"/>
<rect x="499.19" y="553.72" width="3.30" height="12.78" fill="#a2a2a2"/>
<rect x="504.70" y="548.39" width="3.30" height="18.11" fill="#a2a2a2"/>
<rect x="510.20" y="540.34" width="3.30" height="26.16" fill="#a2a2a2"/>
<rect x="515.71" y="536.72" width="3.30" height="29.78" fill="#a2a2a2"/>
<rect x="521.22" y="538.94" width="3.30" height="27.56" fill="#a2a2a2"/>
<rect x="526.73" y="542.36" width="3.30" height="24.14" fill="#a2a2a2"/>
<rect x="532.23" y="538.33" width="3.30" height="28.17" fill="#a2a2a2"/>
<rect x="537.74" y="540.34" width="3.30" height="26.16" fill="#a2a2a2"/>
<rect x="543.25" y="541.05" width="3.30" height="25.45" fill="#a2a2a2"/>
<rect x="548.75" y="543.76" width="3.30" height="22.74" fill="#a2a2a2"/>
<rect x="554.26" y="550.40" width="3.30" height="16.10" fill="#a2a2a2"/>
<rect x="559.77" y="554.03" width="3.30" height="12.47" fill="#a2a2a2"/>
<rect x="565.27" y="557.04" width="3.30" height="9.46" fill="#a2a2a2"/>
<rect x="570.78" y="559.76" width="3.30" height="6.74" fill="#a2a2a2"/>
<rect x="576.29" y="561.87" width="3.30" height="4.63" fill="#a2a2a2"/>
<rect x="581.79" y="563.78" width="3.30" height="2.72" fill="#a2a2a2"/>
<rect x="587.30" y="564.69" width="3.30" height="1.81" fill="#a2a2a2"/>
<rect x="592.81" y="564.99" width="3.30" height="1.51" fill="#a2a2a2"/>
<rect x="598.32" y="565.29" width="3.30" height="1.21" fill="#a2a2a2"/>
<rect x="603.82" y="565.29" width="3.30" height="1.21" fill="#a2a2a2"/>
<rect x="609.33" y="565.49" width="3.30" height="1.01" fill="#a2a2a2"/>
<rect x="614.84" y="565.29" width="3.30" height="1.21" fill="#a2a2a2"/>
<rect x="620.34" y="564.99" width="3.30" height="1.51" fill="#a2a2a2"/>
<rect x="625.85" y="563.48" width="3.30" height="3.02" fill="#a2a2a2"/>
<rect x="631.36" y="565.29" width="3.30" height="1.21" fill="#a2a2a2"/>
<rect x="636.87" y="565.49" width="3.30" height="1.01" fill="#a2a2a2"/>
<polyline points="390.70,486.10 396.21,486.90 401.71,488.51 407.22,490.52 412.73,492.93 418.24,496.15 423.74,499.77 429.25,505.40 434.76,511.02 440.26,516.65 445.77,521.48 451.28,525.90 456.78,529.92 462.29,533.54 467.80,535.95 473.30,537.56 478.81,538.36 484.32,539.16 489.83,539.57 495.33,539.97 500.84,540.37 506.35,541.01 511.85,542.38 517.36,544.39 522.87,546.40 528.38,548.81 533.88,551.06 539.39,552.83 544.90,554.60 550.40,556.85 555.91,559.18 561.42,561.03 566.92,562.72 572.43,563.69 577.94,564.57 583.44,565.05 588.95,565.29 594.46,565.45 599.97,565.54 605.47,565.62 610.98,565.70 616.49,565.78 621.99,565.86 627.50,565.94 633.01,566.02 638.51,566.10" fill="none" stroke="#111" stroke-width="0.8"/>
<circle cx="390.70" cy="486.10" r="1.2" fill="#111"/>
<circle cx="396.21" cy="486.90" r="1.2" fill="#111"/>
<circle cx="401.71" cy="488.51" r="1.2" fill="#111"/>
<circle cx="407.22" cy="490.52" r="1.2" fill="#111"/>
<circle cx="412.73" cy="492.93" r="1.2" fill="#111"/>
<circle cx="418.24" cy="496.15" r="1.2" fill="#111"/>
<circle cx="423.74" cy="499.77" r="1.2" fill="#111"/>
<circle cx="429.25" cy="505.40" r="1.2" fill="#111"/>
<circle cx="434.76" cy="511.02" r="1.2" fill="#111"/>
<circle cx="440.26" cy="516.65" r="1.2" fill="#111"/>
<circle cx="445.77" cy="521.48" r="1.2" fill="#111"/>
<circle cx="451.28" cy="525.90" r="1.2" fill="#111"/>
<circle cx="456.78" cy="529.92" r="1.2" fill="#111"/>
<circle cx="462.29" cy="533.54" r="1.2" fill="#111"/>
<circle cx="467.80" cy="535.95" r="1.2" fill="#111"/>
<circle cx="473.30" cy="537.56" r="1.2" fill="#111"/>
<circle cx="478.81" cy="538.36" r="1.2" fill="#111"/>
<circle cx="484.32" cy="539.16" r="1.2" fill="#111"/>
<circle cx="489.83" cy="539.57" r="1.2" fill="#111"/>
<circle cx="495.33" cy="539.97" r="1.2" fill="#111"/>
<circle cx="500.84" cy="540.37" r="1.2" fill="#111"/>
<circle cx="506.35" cy="541.01" r="1.2" fill="#111"/>
<circle cx="511.85" cy="542.38" r="1.2" fill="#111"/>
<circle cx="517.36" cy="544.39" r="1.2" fill="#111"/>
<circle cx="522.87" cy="546.40" r="1.2" fill="#111"/>
<circle cx="528.38" cy="548.81" r="1.2" fill="#111"/>
<circle cx="533.88" cy="551.06" r="1.2" fill="#111"/>
<circle cx="539.39" cy="552.83" r="1.2" fill="#111"/>
<circle cx="544.90" cy="554.60" r="1.2" fill="#111"/>
<circle cx="550.40" cy="556.85" r="1.2" fill="#111"/>
<circle cx="555.91" cy="559.18" r="1.2" fill="#111"/>
<circle cx="561.42" cy="561.03" r="1.2" fill="#111"/>
<circle cx="566.92" cy="562.72" r="1.2" fill="#111"/>
<circle cx="572.43" cy="563.69" r="1.2" fill="#111"/>
<circle cx="577.94" cy="564.57" r="1.2" fill="#111"/>
<circle cx="583.44" cy="565.05" r="1.2" fill="#111"/>
<circle cx="588.95" cy="565.29" r="1.2" fill="#111"/>
<circle cx="594.46" cy="565.45" r="1.2" fill="#111"/>
<circle cx="599.97" cy="565.54" r="1.2" fill="#111"/>
<circle cx="605.47" cy="565.62" r="1.2" fill="#111"/>
<circle cx="610.98" cy="565.70" r="1.2" fill="#111"/>
<circle cx="616.49" cy="565.78" r="1.2" fill="#111"/>
<circle cx="621.99" cy="565.86" r="1.2" fill="#111"/>
<circle cx="627.50" cy="565.94" r="1.2" fill="#111"/>
<circle cx="633.01" cy="566.02" r="1.2" fill="#111"/>
<circle cx="638.51" cy="566.10" r="1.2" fill="#111"/>
<line x1="388.50" y1="485.50" x2="388.50" y2="567.00" stroke="#000" stroke-width="1.0"/>
<line x1="388.00" y1="566.50" x2="642.00" y2="566.50" stroke="#000" stroke-width="1.0"/>
<line x1="641.50" y1="485.80" x2="641.50" y2="567.00" stroke="#000" stroke-width="1.0"/>
<line x1="386.20" y1="566.50" x2="388.50" y2="566.50" stroke="#000" stroke-width="0.8"/>
<text x="384.60" y="568.85" font-size="6.6" text-anchor="end" font-weight="bold" fill="#111">0</text>
<line x1="386.20" y1="556.44" x2="388.50" y2="556.44" stroke="#000" stroke-width="0.8"/>
<text x="384.60" y="558.79" font-size="6.6" text-anchor="end" font-weight="bold" fill="#111">1</text>
<line x1="386.20" y1="546.38" x2="388.50" y2="546.38" stroke="#000" stroke-width="0.8"/>
<text x="384.60" y="548.73" font-size="6.6" text-anchor="end" font-weight="bold" fill="#111">2</text>
<line x1="386.20" y1="536.32" x2="388.50" y2="536.32" stroke="#000" stroke-width="0.8"/>
<text x="384.60" y="538.67" font-size="6.6" text-anchor="end" font-weight="bold" fill="#111">3</text>
<line x1="386.20" y1="526.26" x2="388.50" y2="526.26" stroke="#000" stroke-width="0.8"/>
<text x="384.60" y="528.61" font-size="6.6" text-anchor="end" font-weight="bold" fill="#111">4</text>
<line x1="386.20" y1="516.20" x2="388.50" y2="516.20" stroke="#000" stroke-width="0.8"/>
<text x="384.60" y="518.55" font-size="6.6" text-anchor="end" font-weight="bold" fill="#111">5</text>
<line x1="386.20" y1="506.14" x2="388.50" y2="506.14" stroke="#000" stroke-width="0.8"/>
<text x="384.60" y="508.49" font-size="6.6" text-anchor="end" font-weight="bold" fill="#111">6</text>
<line x1="386.20" y1="496.08" x2="388.50" y2="496.08" stroke="#000" stroke-width="0.8"/>
<text x="384.60" y="498.43" font-size="6.6" text-anchor="end" font-weight="bold" fill="#111">7</text>
<line x1="386.20" y1="486.02" x2="388.50" y2="486.02" stroke="#000" stroke-width="0.8"/>
<text x="384.60" y="488.37" font-size="6.6" text-anchor="end" font-weight="bold" fill="#111">8</text>
<line x1="641.50" y1="566.50" x2="643.80" y2="566.50" stroke="#000" stroke-width="0.8"/>
<text x="646.30" y="568.80" font-size="6.5" text-anchor="start" font-weight="bold" fill="#111">0</text>
<line x1="641.50" y1="550.42" x2="643.80" y2="550.42" stroke="#000" stroke-width="0.8"/>
<text x="646.30" y="552.72" font-size="6.5" text-anchor="start" font-weight="bold" fill="#111">20</text>
<line x1="641.50" y1="534.34" x2="643.80" y2="534.34" stroke="#000" stroke-width="0.8"/>
<text x="646.30" y="536.64" font-size="6.5" text-anchor="start" font-weight="bold" fill="#111">40</text>
<line x1="641.50" y1="518.26" x2="643.80" y2="518.26" stroke="#000" stroke-width="0.8"/>
<text x="646.30" y="520.56" font-size="6.5" text-anchor="start" font-weight="bold" fill="#111">60</text>
<line x1="641.50" y1="502.18" x2="643.80" y2="502.18" stroke="#000" stroke-width="0.8"/>
<text x="646.30" y="504.48" font-size="6.5" text-anchor="start" font-weight="bold" fill="#111">80</text>
<line x1="641.50" y1="486.10" x2="643.80" y2="486.10" stroke="#000" stroke-width="0.8"/>
<text x="646.30" y="488.40" font-size="6.5" text-anchor="start" font-weight="bold" fill="#111">100</text>
<line x1="641.50" y1="558.46" x2="642.80" y2="558.46" stroke="#000" stroke-width="0.6"/>
<line x1="641.50" y1="542.38" x2="642.80" y2="542.38" stroke="#000" stroke-width="0.6"/>
<line x1="641.50" y1="526.30" x2="642.80" y2="526.30" stroke="#000" stroke-width="0.6"/>
<line x1="641.50" y1="510.22" x2="642.80" y2="510.22" stroke="#000" stroke-width="0.6"/>
<line x1="641.50" y1="494.14" x2="642.80" y2="494.14" stroke="#000" stroke-width="0.6"/>
<line x1="390.70" y1="566.50" x2="390.70" y2="569.00" stroke="#000" stroke-width="0.8"/>
<text x="390.70" y="577.90" font-size="7.0" text-anchor="middle" font-weight="bold" fill="#111">0</text>
<line x1="418.24" y1="566.50" x2="418.24" y2="569.00" stroke="#000" stroke-width="0.8"/>
<text x="418.24" y="577.90" font-size="7.0" text-anchor="middle" font-weight="bold" fill="#111">5</text>
<line x1="445.77" y1="566.50" x2="445.77" y2="569.00" stroke="#000" stroke-width="0.8"/>
<text x="445.77" y="577.90" font-size="7.0" text-anchor="middle" font-weight="bold" fill="#111">10</text>
<line x1="473.30" y1="566.50" x2="473.30" y2="569.00" stroke="#000" stroke-width="0.8"/>
<text x="473.30" y="577.90" font-size="7.0" text-anchor="middle" font-weight="bold" fill="#111">15</text>
<line x1="500.84" y1="566.50" x2="500.84" y2="569.00" stroke="#000" stroke-width="0.8"/>
<text x="500.84" y="577.90" font-size="7.0" text-anchor="middle" font-weight="bold" fill="#111">20</text>
<line x1="528.38" y1="566.50" x2="528.38" y2="569.00" stroke="#000" stroke-width="0.8"/>
<text x="528.38" y="577.90" font-size="7.0" text-anchor="middle" font-weight="bold" fill="#111">25</text>
<line x1="555.91" y1="566.50" x2="555.91" y2="569.00" stroke="#000" stroke-width="0.8"/>
<text x="555.91" y="577.90" font-size="7.0" text-anchor="middle" font-weight="bold" fill="#111">30</text>
<line x1="583.44" y1="566.50" x2="583.44" y2="569.00" stroke="#000" stroke-width="0.8"/>
<text x="583.44" y="577.90" font-size="7.0" text-anchor="middle" font-weight="bold" fill="#111">35</text>
<line x1="610.98" y1="566.50" x2="610.98" y2="569.00" stroke="#000" stroke-width="0.8"/>
<text x="610.98" y="577.90" font-size="7.0" text-anchor="middle" font-weight="bold" fill="#111">40</text>
<line x1="638.51" y1="566.50" x2="638.51" y2="569.00" stroke="#000" stroke-width="0.8"/>
<text x="638.51" y="577.90" font-size="7.0" text-anchor="middle" font-weight="bold" fill="#111">45</text>
<line x1="396.21" y1="566.50" x2="396.21" y2="568.00" stroke="#000" stroke-width="0.5"/>
<line x1="401.71" y1="566.50" x2="401.71" y2="568.00" stroke="#000" stroke-width="0.5"/>
<line x1="407.22" y1="566.50" x2="407.22" y2="568.00" stroke="#000" stroke-width="0.5"/>
<line x1="412.73" y1="566.50" x2="412.73" y2="568.00" stroke="#000" stroke-width="0.5"/>
<line x1="423.74" y1="566.50" x2="423.74" y2="568.00" stroke="#000" stroke-width="0.5"/>
<line x1="429.25" y1="566.50" x2="429.25" y2="568.00" stroke="#000" stroke-width="0.5"/>
<line x1="434.76" y1="566.50" x2="434.76" y2="568.00" stroke="#000" stroke-width="0.5"/>
<line x1="440.26" y1="566.50" x2="440.26" y2="568.00" stroke="#000" stroke-width="0.5"/>
<line x1="451.28" y1="566.50" x2="451.28" y2="568.00" stroke="#000" stroke-width="0.5"/>
<line x1="456.78" y1="566.50" x2="456.78" y2="568.00" stroke="#000" stroke-width="0.5"/>
<line x1="462.29" y1="566.50" x2="462.29" y2="568.00" stroke="#000" stroke-width="0.5"/>
<line x1="467.80" y1="566.50" x2="467.80" y2="568.00" stroke="#000" stroke-width="0.5"/>
<line x1="478.81" y1="566.50" x2="478.81" y2="568.00" stroke="#000" stroke-width="0.5"/>
<line x1="484.32" y1="566.50" x2="484.32" y2="568.00" stroke="#000" stroke-width="0.5"/>
<line x1="489.83" y1="566.50" x2="489.83" y2="568.00" stroke="#000" stroke-width="0.5"/>
<line x1="495.33" y1="566.50" x2="495.33" y2="568.00" stroke="#000" stroke-width="0.5"/>
<line x1="506.35" y1="566.50" x2="506.35" y2="568.00" stroke="#000" stroke-width="0.5"/>
<line x1="511.85" y1="566.50" x2="511.85" y2="568.00" stroke="#000" stroke-width="0.5"/>
<line x1="517.36" y1="566.50" x2="517.36" y2="568.00" stroke="#000" stroke-width="0.5"/>
<line x1="522.87" y1="566.50" x2="522.87" y2="568.00" stroke="#000" stroke-width="0.5"/>
<line x1="533.88" y1="566.50" x2="533.88" y2="568.00" stroke="#000" stroke-width="0.5"/>
<line x1="539.39" y1="566.50" x2="539.39" y2="568.00" stroke="#000" stroke-width="0.5"/>
<line x1="544.90" y1="566.50" x2="544.90" y2="568.00" stroke="#000" stroke-width="0.5"/>
<line x1="550.40" y1="566.50" x2="550.40" y2="568.00" stroke="#000" stroke-width="0.5"/>
<line x1="561.42" y1="566.50" x2="561.42" y2="568.00" stroke="#000" stroke-width="0.5"/>
<line x1="566.92" y1="566.50" x2="566.92" y2="568.00" stroke="#000" stroke-width="0.5"/>
<line x1="572.43" y1="566.50" x2="572.43" y2="568.00" stroke="#000" stroke-width="0.5"/>
<line x1="577.94" y1="566.50" x2="577.94" y2="568.00" stroke="#000" stroke-width="0.5"/>
<line x1="588.95" y1="566.50" x2="588.95" y2="568.00" stroke="#000" stroke-width="0.5"/>
<line x1="594.46" y1="566.50" x2="594.46" y2="568.00" stroke="#000" stroke-width="0.5"/>
<line x1="599.97" y1="566.50" x2="599.97" y2="568.00" stroke="#000" stroke-width="0.5"/>
<line x1="605.47" y1="566.50" x2="605.47" y2="568.00" stroke="#000" stroke-width="0.5"/>
<line x1="616.49" y1="566.50" x2="616.49" y2="568.00" stroke="#000" stroke-width="0.5"/>
<line x1="621.99" y1="566.50" x2="621.99" y2="568.00" stroke="#000" stroke-width="0.5"/>
<line x1="627.50" y1="566.50" x2="627.50" y2="568.00" stroke="#000" stroke-width="0.5"/>
<line x1="633.01" y1="566.50" x2="633.01" y2="568.00" stroke="#000" stroke-width="0.5"/>
<text x="515.10" y="587.00" font-size="7.35" text-anchor="middle" font-weight="bold" fill="#111">Number of matching medulloblastoma-associated HLA class I peptides per individual</text>
<text x="373.50" y="522.00" font-size="7.2" text-anchor="middle" font-weight="bold" fill="#000" transform="rotate(-90 373.5 522)">% of individuals</text>
<text x="671.80" y="524.70" font-size="7.4" text-anchor="middle" font-weight="bold" fill="#000" transform="rotate(90 671.8 524.7)">Cumulative % of</text>
<text x="661.80" y="524.70" font-size="7.3" text-anchor="middle" font-weight="bold" fill="#000" transform="rotate(90 661.8 524.7)">population coverage</text>
<rect x="413.20" y="593.60" width="3.00" height="3.00" fill="#a2a2a2"/>
<text x="425.90" y="597.50" font-size="6.75" text-anchor="start" fill="#333">% of individuals</text>
<line x1="487.80" y1="595.10" x2="498.00" y2="595.10" stroke="#111" stroke-width="0.8"/>
<circle cx="492.9" cy="595.1" r="1.2" fill="#111"/>
<text x="503.90" y="597.50" font-size="6.75" text-anchor="start" fill="#333">Cumulative % of population coverage</text>
</g>
</svg>
</body></html>
